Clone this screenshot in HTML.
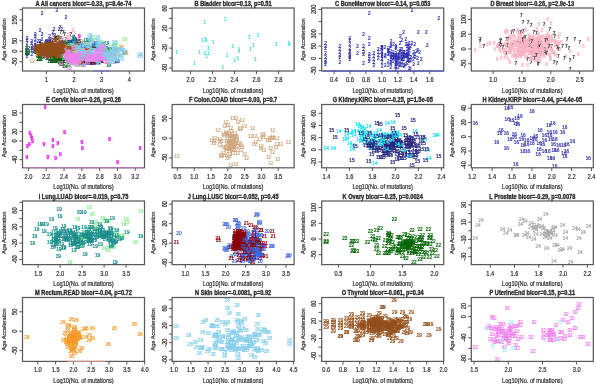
<!DOCTYPE html>
<html><head><meta charset="utf-8"><style>
html,body{margin:0;padding:0;background:#fff;}
svg{display:block;filter:blur(0.3px);}
text{font-family:"Liberation Sans", sans-serif;}
.ax text{stroke:#444;stroke-width:0.2px;}
.ax text[font-weight=bold]{stroke-width:0.3px;stroke:#333;}
</style></head><body>
<svg width="596" height="384" viewBox="0 0 596 384" fill="#222">
<rect width="596" height="384" fill="#fff"/>
<g font-size="4.7" text-anchor="middle" stroke-width="0.22" transform="scale(1,1.12)"><g fill="#40E0D0" stroke="#40E0D0"><text x="70.6" y="52.8">1</text><text x="75.0" y="56.8">1</text><text x="76.3" y="52.5">1</text><text x="77.2" y="48.1">1</text><text x="77.7" y="41.6">1</text><text x="77.8" y="48.0">1</text><text x="78.0" y="48.1">1</text><text x="77.7" y="53.2">1</text><text x="78.0" y="54.1">1</text><text x="78.6" y="51.3">1</text><text x="78.6" y="53.0">1</text><text x="79.8" y="48.8">1</text><text x="82.2" y="58.5">1</text><text x="82.8" y="40.2">1</text><text x="83.2" y="53.8">1</text><text x="84.7" y="50.3">1</text><text x="86.2" y="51.7">1</text><text x="86.3" y="52.3">1</text><text x="85.2" y="55.8">1</text><text x="85.9" y="54.8">1</text><text x="88.9" y="47.2">1</text><text x="89.2" y="51.7">1</text><text x="89.9" y="50.0">1</text><text x="90.9" y="46.3">1</text><text x="90.4" y="55.2">1</text><text x="95.7" y="49.9">1</text><text x="98.7" y="49.4">1</text><text x="98.9" y="49.9">1</text></g><g fill="#3030B0" stroke="#3030B0"><text x="27.0" y="35.9">2</text><text x="27.0" y="37.9">2</text><text x="27.0" y="39.9">2</text><text x="27.0" y="43.7">2</text><text x="27.0" y="46.7">2</text><text x="27.0" y="48.7">2</text><text x="27.0" y="50.4">2</text><text x="27.0" y="52.0">2</text><text x="31.9" y="38.6">2</text><text x="31.9" y="40.6">2</text><text x="31.9" y="42.9">2</text><text x="31.9" y="44.6">2</text><text x="31.9" y="46.7">2</text><text x="31.9" y="50.4">2</text><text x="35.3" y="31.9">2</text><text x="35.3" y="33.9">2</text><text x="35.3" y="36.6">2</text><text x="35.3" y="39.9">2</text><text x="35.3" y="42.0">2</text><text x="35.3" y="42.9">2</text><text x="35.3" y="44.6">2</text><text x="35.3" y="45.6">2</text><text x="35.3" y="46.7">2</text><text x="35.3" y="48.0">2</text><text x="38.0" y="38.3">2</text><text x="38.0" y="43.3">2</text><text x="40.1" y="28.9">2</text><text x="40.1" y="38.6">2</text><text x="40.1" y="40.6">2</text><text x="40.1" y="42.9">2</text><text x="40.1" y="44.3">2</text><text x="40.1" y="51.4">2</text><text x="42.1" y="13.0">2</text><text x="42.1" y="31.9">2</text><text x="42.1" y="36.6">2</text><text x="42.1" y="44.0">2</text><text x="42.1" y="46.0">2</text><text x="42.1" y="48.0">2</text><text x="42.1" y="49.4">2</text><text x="43.6" y="43.3">2</text><text x="43.6" y="46.0">2</text><text x="43.6" y="48.0">2</text><text x="43.6" y="50.0">2</text><text x="43.6" y="52.7">2</text><text x="45.2" y="40.6">2</text><text x="45.2" y="42.6">2</text><text x="45.2" y="44.6">2</text><text x="45.2" y="47.3">2</text><text x="46.5" y="39.9">2</text><text x="46.5" y="42.0">2</text><text x="46.5" y="44.0">2</text><text x="46.5" y="46.0">2</text><text x="46.5" y="48.0">2</text><text x="46.5" y="50.0">2</text><text x="56.9" y="11.0">2</text><text x="66.1" y="16.8">2</text><text x="54.0" y="27.5">2</text><text x="59.0" y="27.5">2</text><text x="61.8" y="27.5">2</text><text x="52.8" y="30.5">2</text><text x="53.3" y="33.9">2</text><text x="62.1" y="37.3">2</text><text x="59.5" y="42.9">2</text><text x="60.1" y="48.3">2</text><text x="59.0" y="51.0">2</text><text x="56.3" y="55.4">2</text><text x="57.5" y="52.0">2</text><text x="57.8" y="37.0">2</text><text x="56.0" y="35.9">2</text><text x="52.2" y="46.0">2</text><text x="51.2" y="50.5">2</text><text x="50.4" y="44.4">2</text><text x="46.4" y="48.4">2</text><text x="48.7" y="44.0">2</text><text x="57.4" y="42.6">2</text><text x="52.1" y="47.4">2</text><text x="55.2" y="38.2">2</text><text x="57.8" y="44.5">2</text><text x="58.4" y="41.7">2</text><text x="53.5" y="47.8">2</text><text x="56.0" y="41.0">2</text><text x="52.9" y="52.1">2</text><text x="55.3" y="37.0">2</text><text x="54.2" y="43.0">2</text><text x="49.6" y="44.5">2</text><text x="51.2" y="53.4">2</text><text x="53.4" y="43.0">2</text><text x="49.6" y="44.9">2</text><text x="57.4" y="48.2">2</text><text x="52.1" y="46.3">2</text><text x="47.6" y="46.1">2</text><text x="46.4" y="42.3">2</text><text x="49.6" y="34.1">2</text><text x="56.4" y="46.6">2</text><text x="50.4" y="44.9">2</text><text x="54.7" y="44.8">2</text><text x="51.3" y="52.0">2</text><text x="52.8" y="45.6">2</text><text x="54.2" y="52.3">2</text><text x="55.9" y="49.2">2</text><text x="54.7" y="32.8">2</text><text x="52.7" y="43.1">2</text><text x="55.3" y="42.9">2</text><text x="46.4" y="38.7">2</text><text x="55.3" y="51.0">2</text><text x="54.1" y="43.0">2</text><text x="50.4" y="49.4">2</text><text x="49.6" y="37.7">2</text><text x="50.5" y="46.9">2</text><text x="48.6" y="41.4">2</text><text x="55.9" y="44.3">2</text><text x="51.3" y="45.3">2</text><text x="51.4" y="43.5">2</text><text x="47.6" y="44.8">2</text><text x="57.4" y="45.5">2</text><text x="53.5" y="52.7">2</text><text x="49.6" y="46.8">2</text><text x="52.1" y="47.7">2</text><text x="55.8" y="39.0">2</text><text x="58.0" y="46.8">2</text><text x="51.3" y="46.0">2</text><text x="51.2" y="54.2">2</text><text x="55.3" y="44.8">2</text><text x="52.7" y="36.3">2</text><text x="52.1" y="45.0">2</text><text x="53.4" y="47.8">2</text><text x="54.8" y="36.4">2</text><text x="58.8" y="47.1">2</text><text x="51.3" y="38.2">2</text><text x="50.5" y="36.5">2</text><text x="51.2" y="38.7">2</text><text x="51.4" y="48.5">2</text><text x="55.2" y="40.0">2</text><text x="46.5" y="53.4">2</text><text x="56.3" y="46.3">2</text><text x="49.5" y="54.4">2</text><text x="51.2" y="44.9">2</text><text x="54.1" y="44.9">2</text><text x="55.3" y="44.0">2</text><text x="55.8" y="49.2">2</text><text x="52.9" y="49.3">2</text><text x="54.7" y="51.7">2</text><text x="52.2" y="51.1">2</text><text x="48.7" y="43.6">2</text><text x="50.5" y="46.2">2</text><text x="52.0" y="47.6">2</text><text x="50.4" y="44.6">2</text><text x="53.4" y="40.1">2</text><text x="56.5" y="38.5">2</text><text x="49.7" y="47.8">2</text><text x="51.2" y="55.6">2</text><text x="46.4" y="39.1">2</text><text x="55.3" y="48.7">2</text><text x="54.1" y="42.6">2</text><text x="51.4" y="50.8">2</text><text x="51.3" y="39.4">2</text><text x="48.7" y="41.0">2</text><text x="53.6" y="44.4">2</text><text x="49.6" y="50.9">2</text><text x="52.8" y="41.9">2</text><text x="51.2" y="46.7">2</text><text x="48.6" y="52.4">2</text><text x="52.9" y="46.7">2</text><text x="48.6" y="42.1">2</text><text x="50.4" y="47.0">2</text><text x="55.9" y="39.4">2</text><text x="55.4" y="48.2">2</text><text x="46.6" y="39.0">2</text><text x="52.1" y="53.8">2</text><text x="51.4" y="48.7">2</text><text x="55.4" y="44.5">2</text><text x="52.1" y="50.2">2</text><text x="51.3" y="47.1">2</text><text x="47.5" y="38.8">2</text><text x="46.4" y="39.5">2</text><text x="54.8" y="45.9">2</text><text x="55.3" y="42.9">2</text><text x="49.5" y="42.3">2</text><text x="52.8" y="52.8">2</text><text x="49.5" y="50.0">2</text><text x="52.9" y="40.5">2</text><text x="48.7" y="49.6">2</text><text x="55.2" y="45.8">2</text><text x="49.7" y="46.6">2</text><text x="56.4" y="49.0">2</text><text x="46.5" y="44.6">2</text><text x="54.1" y="53.6">2</text><text x="54.2" y="45.9">2</text><text x="53.5" y="47.0">2</text><text x="55.4" y="45.7">2</text><text x="48.7" y="39.6">2</text><text x="55.3" y="44.9">2</text><text x="54.1" y="46.0">2</text><text x="50.4" y="42.6">2</text><text x="49.6" y="38.3">2</text><text x="54.1" y="48.4">2</text><text x="56.9" y="35.9">2</text><text x="58.9" y="41.1">2</text><text x="53.6" y="46.6">2</text><text x="53.5" y="44.6">2</text><text x="52.2" y="42.6">2</text><text x="47.6" y="52.6">2</text><text x="56.0" y="55.2">2</text><text x="53.5" y="50.1">2</text></g><g fill="#333333" stroke="#333333"><text x="64.9" y="45.2">7</text><text x="71.1" y="47.6">7</text><text x="68.5" y="41.5">7</text><text x="77.6" y="51.8">7</text><text x="49.7" y="44.4">7</text><text x="66.2" y="53.2">7</text><text x="69.0" y="43.7">7</text><text x="68.4" y="45.2">7</text><text x="68.5" y="49.6">7</text><text x="61.0" y="42.6">7</text><text x="64.9" y="42.2">7</text><text x="64.2" y="53.7">7</text><text x="59.3" y="44.5">7</text><text x="55.4" y="45.3">7</text><text x="61.9" y="39.7">7</text><text x="77.1" y="46.5">7</text><text x="58.6" y="43.8">7</text><text x="67.9" y="56.3">7</text><text x="65.2" y="48.7">7</text><text x="77.7" y="47.7">7</text><text x="72.7" y="42.9">7</text><text x="63.7" y="45.1">7</text><text x="69.2" y="49.8">7</text><text x="65.3" y="47.2">7</text><text x="60.5" y="41.6">7</text><text x="68.2" y="42.5">7</text><text x="64.6" y="49.3">7</text><text x="67.1" y="51.3">7</text><text x="63.8" y="42.1">7</text><text x="67.0" y="45.1">7</text><text x="60.8" y="41.7">7</text><text x="59.2" y="50.3">7</text><text x="68.9" y="45.2">7</text><text x="66.0" y="42.7">7</text><text x="66.7" y="50.8">7</text><text x="72.3" y="41.4">7</text><text x="62.6" y="43.0">7</text><text x="50.0" y="42.0">7</text><text x="72.1" y="48.3">7</text><text x="61.3" y="40.7">7</text><text x="67.7" y="42.0">7</text><text x="72.6" y="47.7">7</text><text x="50.0" y="42.5">7</text><text x="68.3" y="46.3">7</text><text x="53.2" y="44.8">7</text><text x="73.3" y="45.7">7</text><text x="74.4" y="46.0">7</text><text x="67.9" y="45.4">7</text><text x="68.3" y="44.4">7</text><text x="71.6" y="41.8">7</text><text x="81.5" y="45.9">7</text><text x="59.1" y="49.7">7</text><text x="60.1" y="50.5">7</text><text x="65.9" y="48.6">7</text><text x="68.2" y="50.8">7</text><text x="40.2" y="41.0">7</text><text x="40.2" y="42.7">7</text><text x="42.0" y="45.4">7</text><text x="60.0" y="26.0">7</text><text x="60.8" y="30.4">7</text><text x="63.2" y="30.7">7</text><text x="64.6" y="32.4">7</text><text x="55.3" y="36.6">7</text><text x="56.4" y="36.0">7</text><text x="52.8" y="41.0">7</text><text x="53.6" y="41.5">7</text><text x="50.2" y="44.9">7</text><text x="51.1" y="46.6">7</text><text x="52.8" y="50.3">7</text><text x="57.3" y="56.3">7</text><text x="63.0" y="53.8">7</text><text x="64.6" y="55.8">7</text><text x="59.6" y="37.1">7</text><text x="60.8" y="36.0">7</text><text x="70.8" y="32.1">7</text><text x="73.6" y="34.7">7</text><text x="75.7" y="37.6">7</text><text x="76.0" y="39.6">7</text><text x="81.9" y="41.0">7</text><text x="85.6" y="41.5">7</text><text x="88.0" y="43.2">7</text><text x="79.7" y="46.0">7</text><text x="82.7" y="47.1">7</text><text x="85.0" y="52.5">7</text><text x="83.3" y="54.4">7</text><text x="77.0" y="56.6">7</text><text x="75.7" y="55.8">7</text><text x="68.0" y="57.1">7</text><text x="80.5" y="53.2">7</text><text x="65.9" y="36.9">7</text><text x="67.2" y="37.6">7</text><text x="83.3" y="60.0">7</text><text x="71.5" y="49.6">7</text><text x="72.0" y="50.3">7</text><text x="71.3" y="48.7">7</text></g><g fill="#FAB4C4" stroke="#FAB4C4"><text x="61.6" y="46.2">8</text><text x="68.4" y="44.8">8</text><text x="66.4" y="48.0">8</text><text x="70.6" y="40.6">8</text><text x="61.4" y="46.2">8</text><text x="65.2" y="50.9">8</text><text x="75.6" y="49.6">8</text><text x="71.8" y="40.4">8</text><text x="61.0" y="48.5">8</text><text x="62.1" y="44.1">8</text><text x="56.4" y="42.8">8</text><text x="69.1" y="46.1">8</text><text x="67.1" y="50.7">8</text><text x="59.6" y="49.1">8</text><text x="74.7" y="48.0">8</text><text x="73.2" y="39.3">8</text><text x="57.9" y="36.9">8</text><text x="72.9" y="44.7">8</text><text x="56.9" y="47.9">8</text><text x="67.7" y="48.9">8</text><text x="70.1" y="47.9">8</text><text x="53.8" y="42.8">8</text><text x="58.8" y="44.3">8</text><text x="76.0" y="42.7">8</text><text x="55.4" y="38.8">8</text><text x="59.9" y="42.9">8</text><text x="61.3" y="43.1">8</text><text x="68.2" y="43.3">8</text><text x="78.0" y="44.2">8</text><text x="55.1" y="41.1">8</text><text x="66.5" y="49.2">8</text><text x="68.8" y="42.3">8</text><text x="63.0" y="47.0">8</text><text x="62.7" y="52.4">8</text><text x="60.2" y="48.4">8</text><text x="52.9" y="46.1">8</text><text x="67.6" y="40.8">8</text><text x="54.3" y="46.1">8</text><text x="64.8" y="54.0">8</text><text x="59.3" y="45.0">8</text><text x="76.7" y="43.2">8</text><text x="76.4" y="51.1">8</text><text x="64.9" y="46.5">8</text><text x="73.5" y="51.4">8</text><text x="65.6" y="49.2">8</text><text x="68.4" y="49.2">8</text><text x="66.9" y="47.6">8</text><text x="69.1" y="39.7">8</text><text x="66.0" y="42.2">8</text><text x="58.0" y="48.1">8</text><text x="58.6" y="49.4">8</text><text x="72.1" y="39.6">8</text><text x="76.4" y="45.0">8</text><text x="64.8" y="39.8">8</text><text x="78.2" y="38.0">8</text><text x="65.8" y="41.8">8</text><text x="70.9" y="48.0">8</text><text x="66.2" y="48.9">8</text><text x="68.3" y="43.2">8</text><text x="71.8" y="43.8">8</text><text x="60.1" y="45.5">8</text><text x="65.6" y="48.5">8</text><text x="68.7" y="47.7">8</text><text x="61.6" y="45.0">8</text><text x="64.7" y="41.9">8</text><text x="60.4" y="43.6">8</text><text x="69.9" y="45.0">8</text><text x="70.9" y="48.1">8</text><text x="73.8" y="53.7">8</text><text x="58.2" y="45.2">8</text><text x="64.9" y="46.1">8</text><text x="56.7" y="39.8">8</text><text x="61.4" y="47.4">8</text><text x="56.6" y="43.6">8</text><text x="65.5" y="47.9">8</text><text x="65.2" y="51.0">8</text><text x="77.3" y="44.7">8</text><text x="63.5" y="43.8">8</text><text x="70.4" y="47.7">8</text><text x="58.2" y="42.5">8</text><text x="62.6" y="44.8">8</text><text x="66.6" y="46.5">8</text><text x="56.5" y="44.9">8</text><text x="55.4" y="48.3">8</text><text x="66.9" y="42.5">8</text><text x="74.7" y="39.5">8</text><text x="78.4" y="47.4">8</text><text x="54.3" y="39.4">8</text><text x="62.1" y="44.6">8</text><text x="66.8" y="48.4">8</text><text x="58.3" y="52.0">8</text><text x="61.3" y="41.7">8</text><text x="60.9" y="44.4">8</text><text x="59.5" y="43.4">8</text><text x="68.8" y="49.7">8</text><text x="49.2" y="46.3">8</text><text x="65.0" y="41.8">8</text><text x="72.2" y="39.2">8</text><text x="68.4" y="51.5">8</text><text x="62.1" y="44.4">8</text><text x="60.9" y="40.6">8</text><text x="59.3" y="45.9">8</text><text x="65.6" y="39.9">8</text><text x="45.0" y="43.9">8</text><text x="60.5" y="48.0">8</text><text x="59.9" y="41.5">8</text><text x="74.4" y="48.2">8</text><text x="49.2" y="45.8">8</text><text x="63.8" y="46.3">8</text><text x="72.9" y="46.5">8</text><text x="77.1" y="45.0">8</text><text x="52.9" y="51.6">8</text><text x="60.5" y="50.0">8</text><text x="62.4" y="48.8">8</text><text x="70.2" y="50.9">8</text><text x="61.2" y="44.8">8</text><text x="66.9" y="47.0">8</text><text x="66.7" y="44.7">8</text><text x="58.3" y="35.4">8</text><text x="71.4" y="42.6">8</text><text x="72.6" y="43.2">8</text><text x="69.5" y="41.6">8</text><text x="67.4" y="49.9">8</text><text x="70.6" y="43.7">8</text><text x="63.0" y="57.5">8</text><text x="61.0" y="45.0">8</text><text x="70.2" y="46.5">8</text><text x="56.3" y="39.2">8</text><text x="59.5" y="45.6">8</text><text x="58.9" y="38.1">8</text><text x="65.1" y="51.6">8</text><text x="55.1" y="47.4">8</text><text x="54.8" y="49.4">8</text><text x="65.2" y="44.8">8</text><text x="59.3" y="50.6">8</text><text x="67.6" y="47.1">8</text><text x="56.9" y="51.6">8</text><text x="66.1" y="49.4">8</text><text x="59.1" y="43.9">8</text><text x="63.0" y="43.2">8</text><text x="72.2" y="46.8">8</text><text x="58.5" y="48.2">8</text><text x="56.3" y="43.0">8</text><text x="62.6" y="44.8">8</text><text x="60.7" y="38.1">8</text><text x="70.8" y="52.2">8</text><text x="52.2" y="48.6">8</text><text x="77.8" y="43.2">8</text><text x="64.9" y="53.5">8</text><text x="54.2" y="49.4">8</text><text x="63.1" y="47.0">8</text><text x="79.2" y="43.4">8</text><text x="49.3" y="44.0">8</text><text x="51.8" y="49.4">8</text><text x="60.8" y="49.3">8</text><text x="60.8" y="50.5">8</text><text x="62.1" y="45.2">8</text><text x="63.4" y="43.8">8</text><text x="68.7" y="49.1">8</text><text x="64.6" y="45.5">8</text><text x="67.3" y="45.3">8</text><text x="77.4" y="46.9">8</text><text x="74.3" y="46.1">8</text><text x="64.1" y="45.0">8</text><text x="60.6" y="47.0">8</text><text x="69.4" y="52.8">8</text><text x="57.4" y="51.6">8</text><text x="70.6" y="48.9">8</text><text x="67.3" y="54.0">8</text><text x="64.1" y="49.6">8</text><text x="69.6" y="40.2">8</text><text x="68.9" y="48.9">8</text><text x="57.5" y="53.5">8</text><text x="58.2" y="46.3">8</text><text x="66.1" y="47.1">8</text><text x="71.7" y="42.8">8</text><text x="51.7" y="44.9">8</text><text x="54.4" y="40.8">8</text><text x="58.3" y="40.7">8</text><text x="69.9" y="49.7">8</text><text x="52.8" y="44.4">8</text><text x="54.3" y="48.8">8</text><text x="66.7" y="42.2">8</text><text x="65.7" y="46.8">8</text><text x="70.3" y="47.2">8</text><text x="59.5" y="46.0">8</text><text x="63.8" y="39.8">8</text><text x="69.2" y="45.6">8</text><text x="63.1" y="46.7">8</text><text x="65.8" y="43.9">8</text><text x="62.9" y="42.9">8</text><text x="67.4" y="48.7">8</text><text x="68.0" y="40.6">8</text><text x="67.6" y="44.7">8</text><text x="66.2" y="42.6">8</text><text x="73.2" y="50.5">8</text><text x="64.3" y="53.7">8</text><text x="65.8" y="47.2">8</text><text x="71.9" y="49.9">8</text><text x="68.7" y="48.0">8</text><text x="49.8" y="47.7">8</text><text x="50.4" y="53.0">8</text><text x="64.7" y="53.4">8</text><text x="68.2" y="52.1">8</text><text x="63.9" y="40.4">8</text><text x="57.4" y="52.5">8</text><text x="71.1" y="48.1">8</text><text x="66.7" y="44.8">8</text><text x="74.3" y="42.4">8</text><text x="68.2" y="38.7">8</text><text x="64.0" y="49.8">8</text><text x="53.2" y="45.3">8</text><text x="66.3" y="47.2">8</text><text x="66.0" y="45.5">8</text><text x="61.3" y="45.6">8</text><text x="63.7" y="44.4">8</text><text x="59.5" y="41.3">8</text><text x="55.2" y="44.7">8</text><text x="62.0" y="49.5">8</text><text x="65.0" y="49.4">8</text><text x="60.0" y="45.2">8</text><text x="71.7" y="46.8">8</text><text x="60.0" y="52.1">8</text><text x="74.6" y="41.6">8</text><text x="67.5" y="44.4">8</text><text x="68.8" y="50.3">8</text><text x="54.9" y="45.4">8</text><text x="74.9" y="49.3">8</text><text x="60.7" y="47.3">8</text><text x="63.8" y="49.7">8</text><text x="53.0" y="45.5">8</text><text x="69.5" y="45.3">8</text><text x="67.7" y="47.9">8</text><text x="54.5" y="47.0">8</text><text x="54.8" y="45.4">8</text><text x="67.0" y="45.2">8</text><text x="75.9" y="50.6">8</text><text x="65.1" y="44.1">8</text><text x="69.1" y="42.8">8</text><text x="71.9" y="46.7">8</text><text x="67.6" y="49.6">8</text><text x="55.0" y="43.6">8</text><text x="68.0" y="37.4">8</text><text x="56.2" y="46.6">8</text><text x="57.1" y="43.0">8</text><text x="59.4" y="44.3">8</text><text x="56.3" y="51.6">8</text><text x="65.8" y="48.8">8</text><text x="58.5" y="47.4">8</text><text x="68.9" y="48.3">8</text><text x="76.1" y="45.3">8</text><text x="58.5" y="44.9">8</text><text x="67.4" y="35.2">8</text><text x="70.8" y="46.0">8</text><text x="48.4" y="53.9">8</text><text x="71.0" y="51.9">8</text><text x="57.8" y="51.3">8</text><text x="73.9" y="52.2">8</text><text x="62.6" y="41.8">8</text><text x="63.6" y="49.6">8</text><text x="57.9" y="44.8">8</text><text x="66.6" y="51.9">8</text><text x="65.3" y="45.0">8</text><text x="67.5" y="44.0">8</text><text x="71.1" y="48.2">8</text><text x="57.9" y="50.9">8</text><text x="73.2" y="43.2">8</text><text x="56.6" y="48.9">8</text><text x="60.0" y="44.5">8</text><text x="65.6" y="43.7">8</text><text x="55.3" y="46.1">8</text><text x="63.8" y="41.8">8</text><text x="67.9" y="44.5">8</text><text x="65.1" y="46.0">8</text><text x="62.3" y="43.3">8</text><text x="59.6" y="38.6">8</text><text x="70.0" y="47.0">8</text><text x="71.8" y="45.0">8</text><text x="73.3" y="39.7">8</text><text x="61.4" y="50.3">8</text><text x="69.5" y="44.8">8</text><text x="62.0" y="53.4">8</text><text x="61.6" y="47.5">8</text><text x="52.8" y="36.5">8</text><text x="64.1" y="49.4">8</text><text x="73.3" y="47.0">8</text><text x="63.8" y="39.0">8</text><text x="49.6" y="48.9">8</text><text x="70.8" y="48.1">8</text><text x="61.0" y="47.2">8</text><text x="74.5" y="48.2">8</text><text x="48.8" y="44.8">8</text><text x="62.3" y="47.0">8</text><text x="59.2" y="39.6">8</text><text x="60.0" y="50.7">8</text><text x="63.0" y="48.6">8</text><text x="70.5" y="39.1">8</text><text x="60.3" y="47.4">8</text><text x="72.0" y="56.8">8</text><text x="70.1" y="50.6">8</text><text x="65.3" y="47.1">8</text><text x="68.9" y="43.0">8</text><text x="67.1" y="45.3">8</text><text x="69.9" y="35.3">8</text><text x="64.2" y="46.2">8</text><text x="68.1" y="54.3">8</text><text x="68.1" y="47.2">8</text><text x="51.8" y="48.2">8</text><text x="70.0" y="43.2">8</text><text x="56.9" y="45.3">8</text><text x="59.7" y="50.0">8</text><text x="59.0" y="41.4">8</text><text x="58.4" y="45.0">8</text><text x="64.5" y="48.0">8</text><text x="70.7" y="50.4">8</text><text x="68.6" y="47.9">8</text><text x="73.6" y="40.6">8</text><text x="69.6" y="45.4">8</text><text x="67.6" y="41.7">8</text><text x="53.4" y="45.8">8</text><text x="65.9" y="50.2">8</text><text x="55.9" y="46.3">8</text><text x="52.3" y="36.9">8</text><text x="72.3" y="48.0">8</text><text x="53.6" y="53.9">8</text><text x="58.8" y="44.3">8</text><text x="63.2" y="41.5">8</text><text x="59.9" y="49.1">8</text><text x="64.7" y="48.0">8</text><text x="55.6" y="51.8">8</text><text x="59.3" y="48.1">8</text><text x="73.9" y="53.5">8</text><text x="68.1" y="42.6">8</text><text x="81.3" y="52.0">8</text><text x="67.4" y="52.1">8</text><text x="72.1" y="47.6">8</text><text x="56.8" y="42.9">8</text><text x="62.3" y="44.0">8</text><text x="67.0" y="43.8">8</text><text x="66.4" y="42.4">8</text><text x="58.3" y="43.3">8</text><text x="69.0" y="55.1">8</text><text x="59.3" y="49.4">8</text><text x="63.3" y="47.7">8</text><text x="66.1" y="48.0">8</text><text x="59.3" y="51.7">8</text><text x="77.5" y="46.5">8</text><text x="72.6" y="43.7">8</text><text x="66.0" y="40.6">8</text><text x="72.6" y="37.8">8</text><text x="60.6" y="47.5">8</text><text x="64.4" y="40.2">8</text><text x="68.1" y="42.8">8</text><text x="67.0" y="48.7">8</text><text x="52.1" y="44.3">8</text><text x="61.2" y="45.2">8</text><text x="55.0" y="44.9">8</text><text x="53.2" y="41.9">8</text><text x="61.6" y="50.4">8</text><text x="51.1" y="48.9">8</text><text x="62.4" y="46.2">8</text><text x="68.4" y="41.1">8</text><text x="48.4" y="45.9">8</text><text x="71.4" y="41.5">8</text><text x="62.2" y="41.8">8</text><text x="62.2" y="35.9">8</text><text x="54.5" y="46.5">8</text><text x="47.0" y="43.5">8</text><text x="65.9" y="46.4">8</text><text x="68.8" y="45.9">8</text><text x="59.4" y="36.9">8</text><text x="58.4" y="42.9">8</text><text x="66.5" y="54.2">8</text><text x="52.0" y="52.5">8</text><text x="69.3" y="49.0">8</text><text x="63.2" y="43.9">8</text><text x="67.5" y="47.0">8</text><text x="75.4" y="42.3">8</text><text x="66.2" y="39.7">8</text><text x="75.1" y="49.2">8</text><text x="37.8" y="48.5">8</text><text x="43.7" y="44.4">8</text><text x="47.4" y="47.7">8</text><text x="53.2" y="36.0">8</text><text x="54.4" y="55.8">8</text><text x="60.4" y="57.7">8</text><text x="40.5" y="45.4">8</text><text x="72.7" y="28.5">8</text><text x="74.2" y="31.0">8</text><text x="68.3" y="32.1">8</text><text x="77.8" y="40.2">8</text><text x="92.0" y="41.0">8</text><text x="89.7" y="46.0">8</text><text x="87.3" y="50.5">8</text><text x="83.3" y="48.8">8</text></g><g fill="#EE33EE" stroke="#EE33EE" stroke-width="0.5"><text x="79.2" y="33.8">9</text><text x="85.3" y="43.8">9</text><text x="74.5" y="44.4">9</text><text x="74.9" y="45.7">9</text><text x="75.1" y="46.3">9</text><text x="75.3" y="47.4">9</text><text x="73.7" y="49.4">9</text><text x="74.4" y="48.9">9</text><text x="78.8" y="48.6">9</text><text x="81.7" y="47.2">9</text><text x="81.7" y="49.4">9</text><text x="83.1" y="48.2">9</text><text x="73.6" y="53.9">9</text><text x="80.1" y="53.9">9</text><text x="82.5" y="54.5">9</text><text x="84.0" y="52.8">9</text><text x="90.6" y="47.8">9</text><text x="90.8" y="50.4">9</text><text x="99.2" y="46.8">9</text><text x="101.7" y="55.9">9</text><text x="108.7" y="50.4">9</text></g><g fill="#CFA880" stroke="#CFA880"><text x="75.3" y="54.8">12</text><text x="76.2" y="48.7">12</text><text x="79.5" y="50.3">12</text><text x="84.5" y="43.1">12</text><text x="71.8" y="41.7">12</text><text x="77.9" y="51.5">12</text><text x="75.7" y="49.4">12</text><text x="75.1" y="48.9">12</text><text x="78.6" y="48.7">12</text><text x="75.0" y="56.1">12</text><text x="80.6" y="46.6">12</text><text x="68.8" y="55.8">12</text><text x="72.8" y="51.9">12</text><text x="73.4" y="45.0">12</text><text x="78.2" y="46.4">12</text><text x="79.7" y="45.1">12</text><text x="77.3" y="52.5">12</text><text x="77.3" y="51.4">12</text><text x="67.7" y="50.7">12</text><text x="78.8" y="51.1">12</text><text x="85.9" y="39.1">12</text><text x="81.1" y="48.1">12</text><text x="76.7" y="50.4">12</text><text x="74.4" y="45.5">12</text><text x="62.5" y="49.9">12</text><text x="68.4" y="48.8">12</text><text x="77.4" y="51.5">12</text><text x="85.5" y="51.5">12</text><text x="71.0" y="51.6">12</text><text x="81.6" y="51.1">12</text><text x="74.7" y="51.6">12</text><text x="75.7" y="50.1">12</text><text x="75.8" y="52.5">12</text><text x="73.6" y="49.0">12</text><text x="76.3" y="42.9">12</text><text x="63.2" y="47.6">12</text><text x="84.9" y="50.9">12</text><text x="77.7" y="48.5">12</text><text x="73.6" y="49.9">12</text><text x="75.1" y="52.7">12</text><text x="79.6" y="47.1">12</text><text x="76.3" y="51.6">12</text><text x="78.3" y="49.2">12</text><text x="77.9" y="49.2">12</text><text x="76.4" y="46.5">12</text><text x="76.2" y="51.1">12</text><text x="76.9" y="44.4">12</text><text x="73.2" y="52.5">12</text><text x="82.0" y="54.3">12</text><text x="79.3" y="51.3">12</text><text x="74.0" y="41.2">12</text><text x="78.8" y="49.4">12</text><text x="84.5" y="53.2">12</text><text x="78.4" y="51.6">12</text><text x="67.7" y="49.1">12</text><text x="81.2" y="48.8">12</text><text x="79.3" y="46.3">12</text><text x="84.3" y="42.9">12</text><text x="72.8" y="44.4">12</text><text x="73.8" y="47.4">12</text><text x="75.6" y="46.3">12</text><text x="76.9" y="50.7">12</text><text x="80.6" y="59.7">12</text><text x="71.1" y="55.4">12</text><text x="75.6" y="49.5">12</text><text x="81.0" y="47.1">12</text><text x="87.8" y="55.1">12</text><text x="70.7" y="45.3">12</text><text x="76.0" y="49.4">12</text><text x="67.2" y="48.0">12</text><text x="66.0" y="43.7">12</text><text x="71.5" y="46.0">12</text><text x="73.2" y="52.2">12</text><text x="72.3" y="52.0">12</text><text x="73.8" y="57.0">12</text><text x="75.5" y="52.4">12</text><text x="83.2" y="49.7">12</text><text x="78.7" y="53.3">12</text><text x="80.2" y="53.2">12</text><text x="75.6" y="45.8">12</text><text x="75.4" y="53.3">12</text><text x="82.8" y="49.8">12</text><text x="78.0" y="54.4">12</text><text x="70.5" y="54.7">12</text><text x="78.1" y="47.6">12</text><text x="114.5" y="47.6">12</text><text x="115.1" y="57.1">12</text><text x="110.1" y="47.6">12</text><text x="101.3" y="52.1">12</text><text x="97.1" y="49.1">12</text><text x="108.8" y="47.3">12</text><text x="101.3" y="51.1">12</text><text x="103.7" y="53.0">12</text><text x="95.9" y="50.5">12</text><text x="110.8" y="47.5">12</text><text x="103.0" y="45.4">12</text><text x="106.9" y="48.3">12</text><text x="108.3" y="48.3">12</text><text x="117.3" y="50.2">12</text><text x="103.6" y="47.2">12</text><text x="94.4" y="42.8">12</text><text x="96.2" y="46.3">12</text><text x="102.6" y="45.9">12</text><text x="111.0" y="43.8">12</text><text x="110.7" y="54.0">12</text><text x="100.5" y="48.1">12</text><text x="113.7" y="51.6">12</text><text x="107.6" y="56.4">12</text><text x="109.1" y="52.0">12</text><text x="110.8" y="47.1">12</text><text x="114.6" y="50.2">12</text><text x="32.2" y="56.1">12</text><text x="78.3" y="37.8">12</text><text x="87.7" y="41.5">12</text><text x="92.9" y="46.7">12</text><text x="123.9" y="49.2">12</text><text x="109.2" y="59.1">12</text><text x="76.5" y="60.1">12</text><text x="61.0" y="48.2">12</text><text x="68.7" y="55.4">12</text><text x="89.4" y="57.1">12</text><text x="80.4" y="38.1">12</text><text x="72.6" y="39.8">12</text><text x="82.5" y="39.8">12</text><text x="62.7" y="48.8">12</text></g><g fill="#22E0EE" stroke="#22E0EE"><text x="57.4" y="47.0">14</text><text x="59.2" y="46.8">14</text><text x="60.4" y="41.8">14</text><text x="61.9" y="44.2">14</text><text x="64.0" y="41.8">14</text><text x="66.1" y="40.4">14</text><text x="67.7" y="40.1">14</text><text x="69.1" y="51.5">14</text><text x="72.1" y="39.2">14</text><text x="73.5" y="39.1">14</text><text x="78.7" y="41.8">14</text><text x="81.1" y="44.2">14</text><text x="83.6" y="43.0">14</text><text x="81.7" y="47.5">14</text><text x="82.1" y="50.2">14</text><text x="84.1" y="43.0">14</text><text x="67.7" y="45.1">14</text><text x="71.6" y="43.4">14</text><text x="68.6" y="43.5">14</text><text x="70.2" y="43.4">14</text><text x="68.3" y="45.4">14</text><text x="69.7" y="43.4">14</text><text x="67.9" y="46.4">14</text><text x="71.2" y="42.5">14</text><text x="66.0" y="42.9">14</text><text x="72.5" y="43.1">14</text><text x="65.3" y="44.1">14</text><text x="64.1" y="43.1">14</text><text x="74.3" y="43.0">14</text><text x="70.2" y="41.3">14</text><text x="65.5" y="40.2">14</text><text x="68.9" y="43.9">14</text><text x="63.1" y="45.3">14</text><text x="65.1" y="39.6">14</text><text x="74.0" y="43.4">14</text><text x="69.3" y="45.7">14</text><text x="63.1" y="42.3">14</text><text x="73.4" y="42.9">14</text><text x="65.8" y="42.9">14</text><text x="67.1" y="42.3">14</text><text x="68.6" y="45.9">14</text><text x="66.5" y="41.1">14</text><text x="71.1" y="43.9">14</text><text x="66.0" y="41.9">14</text><text x="66.1" y="44.5">14</text><text x="66.9" y="42.5">14</text><text x="67.6" y="41.9">14</text><text x="66.3" y="44.4">14</text><text x="66.5" y="42.2">14</text><text x="68.1" y="46.8">14</text><text x="71.9" y="42.7">14</text><text x="64.8" y="41.7">14</text><text x="66.7" y="45.5">14</text><text x="68.7" y="44.7">14</text><text x="67.8" y="45.9">14</text><text x="62.4" y="43.7">14</text><text x="68.1" y="44.4">14</text><text x="66.6" y="44.0">14</text><text x="74.5" y="41.9">14</text><text x="65.7" y="44.7">14</text><text x="63.7" y="46.0">14</text><text x="69.3" y="42.3">14</text><text x="68.3" y="43.1">14</text><text x="62.3" y="42.6">14</text><text x="67.1" y="44.4">14</text><text x="63.7" y="47.3">14</text><text x="70.4" y="44.7">14</text><text x="74.5" y="45.7">14</text><text x="77.4" y="49.5">14</text><text x="76.1" y="47.5">14</text><text x="73.4" y="42.0">14</text><text x="73.2" y="44.5">14</text><text x="75.3" y="45.9">14</text><text x="70.1" y="45.8">14</text><text x="70.6" y="45.8">14</text><text x="73.7" y="43.3">14</text><text x="70.9" y="44.3">14</text><text x="71.8" y="45.0">14</text><text x="71.9" y="47.3">14</text><text x="75.0" y="42.8">14</text></g><g fill="#26267E" stroke="#26267E"><text x="80.3" y="44.9">15</text><text x="73.6" y="46.8">15</text><text x="76.1" y="50.1">15</text><text x="70.6" y="49.8">15</text><text x="74.7" y="45.1">15</text><text x="76.9" y="46.2">15</text><text x="70.5" y="44.9">15</text><text x="81.5" y="47.3">15</text><text x="66.9" y="46.0">15</text><text x="64.4" y="46.4">15</text><text x="67.5" y="45.4">15</text><text x="78.9" y="49.0">15</text><text x="71.7" y="46.0">15</text><text x="71.3" y="43.5">15</text><text x="74.4" y="45.9">15</text><text x="69.2" y="46.9">15</text><text x="73.7" y="47.5">15</text><text x="70.6" y="46.8">15</text><text x="73.2" y="46.5">15</text><text x="68.1" y="46.2">15</text><text x="72.5" y="43.6">15</text><text x="73.4" y="46.0">15</text><text x="75.0" y="44.6">15</text><text x="71.2" y="48.0">15</text><text x="73.2" y="43.7">15</text><text x="76.8" y="47.2">15</text><text x="75.0" y="50.1">15</text><text x="77.2" y="46.6">15</text><text x="71.7" y="45.6">15</text><text x="78.7" y="47.1">15</text><text x="73.9" y="47.8">15</text><text x="79.3" y="46.3">15</text><text x="79.5" y="48.0">15</text><text x="77.9" y="44.8">15</text><text x="68.9" y="47.5">15</text><text x="77.1" y="46.3">15</text><text x="76.7" y="43.8">15</text><text x="80.4" y="47.2">15</text><text x="76.8" y="46.5">15</text><text x="72.1" y="47.2">15</text><text x="65.8" y="42.5">15</text><text x="67.9" y="42.5">15</text><text x="75.2" y="49.0">15</text><text x="73.4" y="40.9">15</text><text x="76.1" y="45.4">15</text><text x="69.5" y="43.4">15</text><text x="77.0" y="49.0">15</text><text x="72.8" y="43.6">15</text><text x="74.5" y="50.4">15</text><text x="75.2" y="45.8">15</text><text x="68.5" y="44.9">15</text><text x="67.3" y="43.6">15</text><text x="75.4" y="46.5">15</text><text x="78.1" y="44.6">15</text><text x="69.7" y="46.9">15</text><text x="76.2" y="48.6">15</text><text x="74.4" y="44.4">15</text><text x="71.9" y="45.2">15</text><text x="70.4" y="44.8">15</text><text x="73.9" y="44.7">15</text><text x="73.0" y="46.7">15</text><text x="77.2" y="44.5">15</text><text x="70.2" y="46.7">15</text><text x="78.1" y="45.8">15</text><text x="71.1" y="49.6">15</text><text x="78.5" y="44.7">15</text><text x="77.4" y="43.6">15</text><text x="73.8" y="45.8">15</text><text x="75.4" y="45.2">15</text><text x="68.3" y="48.8">15</text><text x="71.8" y="47.9">15</text><text x="70.0" y="47.7">15</text><text x="73.3" y="45.1">15</text><text x="79.4" y="43.7">15</text><text x="75.7" y="47.5">15</text><text x="71.9" y="46.7">15</text><text x="73.8" y="42.2">15</text><text x="67.6" y="46.5">15</text><text x="77.8" y="43.9">15</text><text x="75.3" y="48.4">15</text><text x="66.8" y="44.1">15</text><text x="71.4" y="48.4">15</text><text x="71.3" y="45.4">15</text><text x="77.4" y="45.4">15</text><text x="71.3" y="46.2">15</text><text x="70.0" y="49.6">15</text><text x="75.5" y="50.1">15</text><text x="68.3" y="47.0">15</text><text x="73.4" y="51.2">15</text><text x="72.2" y="46.5">15</text><text x="73.2" y="45.6">15</text><text x="71.4" y="47.8">15</text><text x="71.8" y="49.2">15</text><text x="75.2" y="45.3">15</text><text x="69.3" y="45.6">15</text><text x="74.2" y="46.2">15</text><text x="73.0" y="45.4">15</text><text x="72.7" y="43.4">15</text><text x="74.8" y="46.4">15</text><text x="79.5" y="46.1">15</text><text x="80.7" y="43.6">15</text><text x="76.9" y="44.4">15</text><text x="74.4" y="48.9">15</text><text x="76.2" y="48.7">15</text><text x="74.8" y="44.7">15</text><text x="75.2" y="46.3">15</text><text x="77.7" y="49.3">15</text><text x="69.1" y="45.2">15</text><text x="78.0" y="43.8">15</text><text x="69.3" y="45.7">15</text><text x="72.6" y="48.8">15</text><text x="78.5" y="46.1">15</text><text x="78.1" y="49.2">15</text><text x="75.1" y="46.1">15</text><text x="74.5" y="48.0">15</text><text x="73.7" y="42.5">15</text><text x="72.9" y="49.0">15</text><text x="74.3" y="44.7">15</text><text x="77.7" y="46.0">15</text><text x="72.0" y="46.4">15</text><text x="80.8" y="45.6">15</text><text x="71.6" y="44.2">15</text><text x="72.7" y="47.6">15</text><text x="76.5" y="43.0">15</text><text x="72.5" y="47.7">15</text><text x="71.6" y="48.5">15</text><text x="73.2" y="44.9">15</text><text x="70.6" y="43.0">15</text><text x="75.2" y="46.2">15</text><text x="72.1" y="48.4">15</text><text x="74.0" y="45.3">15</text><text x="77.1" y="48.1">15</text><text x="72.5" y="46.6">15</text><text x="77.3" y="45.1">15</text><text x="76.7" y="45.2">15</text><text x="73.2" y="46.4">15</text><text x="68.4" y="46.3">15</text><text x="69.6" y="48.0">15</text><text x="78.8" y="49.7">15</text><text x="68.0" y="46.1">15</text><text x="71.7" y="45.4">15</text><text x="78.8" y="48.1">15</text><text x="74.2" y="43.2">15</text><text x="77.7" y="48.1">15</text><text x="74.0" y="46.1">15</text><text x="73.2" y="44.9">15</text><text x="79.0" y="42.6">15</text><text x="74.8" y="46.4">15</text><text x="79.2" y="48.1">15</text><text x="77.7" y="46.5">15</text><text x="58.7" y="41.4">15</text><text x="59.6" y="43.6">15</text><text x="62.3" y="41.5">15</text><text x="63.6" y="50.5">15</text><text x="67.7" y="51.0">15</text><text x="74.6" y="36.7">15</text><text x="78.3" y="38.5">15</text><text x="76.2" y="41.0">15</text><text x="80.6" y="43.7">15</text><text x="79.3" y="51.0">15</text><text x="81.3" y="50.6">15</text><text x="84.5" y="49.5">15</text><text x="78.1" y="52.1">15</text><text x="69.6" y="39.3">15</text><text x="70.4" y="39.6">15</text></g><g fill="#3C3CB0" stroke="#3C3CB0"><text x="52.8" y="44.0">16</text><text x="61.6" y="39.9">16</text><text x="62.6" y="39.8">16</text><text x="61.7" y="42.8">16</text><text x="62.9" y="43.1">16</text><text x="64.4" y="42.5">16</text><text x="65.2" y="42.0">16</text><text x="64.0" y="44.0">16</text><text x="64.5" y="44.2">16</text><text x="60.0" y="45.7">16</text><text x="59.6" y="46.5">16</text><text x="61.4" y="46.5">16</text><text x="58.7" y="48.9">16</text><text x="61.4" y="50.5">16</text><text x="62.4" y="48.2">16</text><text x="63.7" y="46.8">16</text><text x="63.7" y="47.6">16</text><text x="64.2" y="48.9">16</text><text x="66.1" y="47.0">16</text><text x="65.6" y="48.2">16</text><text x="67.1" y="48.3">16</text><text x="66.1" y="49.6">16</text><text x="67.1" y="49.4">16</text><text x="66.0" y="51.2">16</text><text x="67.4" y="51.1">16</text><text x="64.0" y="54.7">16</text><text x="68.6" y="40.7">16</text><text x="68.6" y="47.9">16</text><text x="68.6" y="49.1">16</text><text x="73.2" y="44.5">16</text><text x="74.4" y="44.0">16</text><text x="77.7" y="44.9">16</text><text x="70.8" y="45.9">16</text><text x="73.4" y="46.4">16</text><text x="75.0" y="46.4">16</text><text x="77.1" y="46.3">16</text><text x="72.0" y="47.1">16</text><text x="73.5" y="47.1">16</text><text x="69.6" y="47.4">16</text><text x="69.3" y="48.1">16</text><text x="70.6" y="49.1">16</text><text x="72.0" y="48.3">16</text><text x="73.7" y="48.0">16</text><text x="75.0" y="48.0">16</text><text x="71.5" y="49.5">16</text><text x="74.5" y="49.5">16</text><text x="76.0" y="49.6">16</text><text x="77.3" y="49.7">16</text><text x="78.3" y="49.4">16</text><text x="79.8" y="48.7">16</text><text x="70.6" y="50.6">16</text><text x="72.0" y="51.3">16</text><text x="73.0" y="51.1">16</text><text x="74.7" y="50.9">16</text><text x="75.5" y="51.0">16</text><text x="70.3" y="52.0">16</text><text x="77.4" y="51.8">16</text><text x="78.2" y="51.3">16</text><text x="77.7" y="52.5">16</text><text x="73.5" y="53.1">16</text><text x="74.2" y="53.1">16</text><text x="74.9" y="55.1">16</text><text x="84.2" y="53.2">16</text></g><g fill="#90EE90" stroke="#90EE90"><text x="92.3" y="34.9">18</text><text x="94.3" y="37.7">18</text><text x="124.5" y="36.8">18</text><text x="115.4" y="40.1">18</text><text x="116.0" y="41.6">18</text><text x="114.0" y="42.5">18</text><text x="100.9" y="39.7">18</text><text x="80.1" y="59.7">18</text><text x="121.3" y="50.9">18</text><text x="104.8" y="53.0">18</text><text x="109.4" y="48.3">18</text><text x="85.1" y="40.1">18</text><text x="102.2" y="40.6">18</text><text x="96.0" y="42.9">18</text><text x="89.7" y="49.7">18</text><text x="106.6" y="49.7">18</text><text x="96.0" y="41.8">18</text><text x="86.9" y="48.0">18</text><text x="85.0" y="48.0">18</text><text x="109.9" y="48.3">18</text><text x="113.0" y="47.6">18</text><text x="101.7" y="48.3">18</text><text x="90.0" y="47.0">18</text><text x="109.3" y="45.5">18</text><text x="101.9" y="53.4">18</text><text x="87.0" y="52.0">18</text><text x="95.4" y="44.8">18</text><text x="104.1" y="40.9">18</text><text x="108.3" y="47.4">18</text><text x="112.4" y="48.5">18</text><text x="89.1" y="48.8">18</text><text x="82.7" y="49.0">18</text><text x="85.8" y="50.2">18</text><text x="103.8" y="54.6">18</text><text x="90.6" y="46.0">18</text><text x="107.5" y="52.9">18</text><text x="98.5" y="45.2">18</text><text x="91.7" y="47.7">18</text><text x="99.6" y="48.2">18</text><text x="105.2" y="46.3">18</text><text x="98.3" y="47.8">18</text></g><g fill="#1A8C8C" stroke="#1A8C8C"><text x="76.3" y="53.0">19</text><text x="80.9" y="52.0">19</text><text x="85.2" y="44.6">19</text><text x="86.8" y="50.7">19</text><text x="82.7" y="54.5">19</text><text x="83.3" y="47.1">19</text><text x="74.9" y="51.6">19</text><text x="81.8" y="46.5">19</text><text x="80.3" y="49.2">19</text><text x="76.8" y="49.4">19</text><text x="82.9" y="48.2">19</text><text x="67.5" y="50.7">19</text><text x="73.3" y="46.8">19</text><text x="71.7" y="47.6">19</text><text x="80.4" y="45.9">19</text><text x="76.8" y="46.5">19</text><text x="88.2" y="51.1">19</text><text x="73.7" y="46.7">19</text><text x="84.7" y="48.7">19</text><text x="73.2" y="50.5">19</text><text x="70.0" y="47.8">19</text><text x="70.1" y="52.1">19</text><text x="83.1" y="51.3">19</text><text x="71.4" y="49.6">19</text><text x="75.8" y="45.0">19</text><text x="82.1" y="49.8">19</text><text x="78.1" y="49.3">19</text><text x="83.9" y="48.7">19</text><text x="89.0" y="44.0">19</text><text x="87.4" y="47.1">19</text><text x="69.5" y="53.0">19</text><text x="71.4" y="51.4">19</text><text x="80.3" y="46.5">19</text><text x="70.1" y="50.2">19</text><text x="76.4" y="43.4">19</text><text x="79.4" y="49.1">19</text><text x="80.9" y="47.4">19</text><text x="81.0" y="51.3">19</text><text x="80.5" y="46.4">19</text><text x="71.6" y="50.1">19</text><text x="74.6" y="47.9">19</text><text x="82.2" y="51.6">19</text><text x="87.8" y="52.4">19</text><text x="87.8" y="47.3">19</text><text x="70.3" y="49.9">19</text><text x="88.9" y="47.4">19</text><text x="73.2" y="45.9">19</text><text x="76.1" y="53.6">19</text><text x="71.7" y="51.7">19</text><text x="84.8" y="50.5">19</text><text x="78.2" y="49.9">19</text><text x="82.4" y="51.4">19</text><text x="83.4" y="50.4">19</text><text x="70.2" y="46.1">19</text><text x="77.5" y="47.5">19</text><text x="72.9" y="48.0">19</text><text x="78.1" y="45.8">19</text><text x="76.3" y="49.1">19</text><text x="83.3" y="43.9">19</text><text x="84.7" y="52.8">19</text><text x="78.5" y="47.8">19</text><text x="84.5" y="50.6">19</text><text x="76.6" y="45.5">19</text><text x="72.6" y="47.7">19</text><text x="70.9" y="44.1">19</text><text x="72.2" y="49.3">19</text><text x="77.4" y="48.7">19</text><text x="79.9" y="45.4">19</text><text x="84.1" y="46.3">19</text><text x="84.7" y="49.7">19</text><text x="83.0" y="47.9">19</text><text x="83.6" y="47.8">19</text><text x="67.3" y="47.1">19</text><text x="89.5" y="47.9">19</text><text x="71.3" y="49.3">19</text><text x="85.8" y="49.0">19</text><text x="96.7" y="47.5">19</text><text x="96.1" y="52.7">19</text><text x="98.8" y="46.0">19</text><text x="85.5" y="51.6">19</text><text x="95.4" y="48.9">19</text><text x="91.8" y="44.8">19</text><text x="103.2" y="46.5">19</text><text x="107.3" y="50.1">19</text><text x="92.8" y="51.5">19</text><text x="90.4" y="47.8">19</text><text x="100.4" y="46.4">19</text><text x="106.4" y="46.5">19</text><text x="95.8" y="47.0">19</text><text x="92.3" y="46.9">19</text><text x="100.1" y="47.4">19</text><text x="92.8" y="49.6">19</text><text x="108.7" y="50.9">19</text><text x="100.8" y="45.3">19</text><text x="89.3" y="46.3">19</text><text x="98.8" y="42.5">19</text><text x="94.0" y="47.1">19</text><text x="104.6" y="46.6">19</text><text x="92.3" y="46.2">19</text><text x="92.1" y="49.5">19</text><text x="104.6" y="48.9">19</text><text x="98.9" y="45.6">19</text><text x="100.5" y="48.2">19</text><text x="95.7" y="45.8">19</text><text x="105.6" y="44.5">19</text><text x="93.8" y="41.6">19</text><text x="89.6" y="48.4">19</text><text x="105.9" y="52.0">19</text><text x="103.2" y="41.1">19</text><text x="92.5" y="50.5">19</text><text x="103.5" y="47.6">19</text><text x="105.0" y="49.7">19</text><text x="95.7" y="49.8">19</text><text x="103.0" y="47.3">19</text><text x="109.6" y="47.4">19</text><text x="92.6" y="49.0">19</text><text x="93.6" y="49.5">19</text><text x="99.5" y="43.7">19</text><text x="92.3" y="47.6">19</text><text x="93.9" y="44.0">19</text><text x="105.8" y="44.8">19</text><text x="89.1" y="50.7">19</text><text x="108.0" y="48.2">19</text><text x="99.4" y="44.0">19</text><text x="99.1" y="45.8">19</text><text x="91.9" y="49.4">19</text><text x="106.0" y="47.8">19</text><text x="97.9" y="47.7">19</text><text x="104.6" y="47.1">19</text><text x="96.6" y="44.7">19</text><text x="108.7" y="50.1">19</text><text x="92.4" y="48.5">19</text><text x="106.2" y="52.3">19</text><text x="92.3" y="49.7">19</text><text x="102.5" y="48.1">19</text><text x="105.7" y="50.4">19</text><text x="111.3" y="49.2">19</text><text x="92.4" y="47.9">19</text><text x="101.6" y="48.5">19</text><text x="103.2" y="46.2">19</text><text x="107.8" y="51.2">19</text><text x="101.1" y="48.7">19</text><text x="93.1" y="46.5">19</text><text x="93.9" y="50.5">19</text><text x="92.9" y="43.8">19</text><text x="109.5" y="45.2">19</text><text x="97.3" y="48.4">19</text><text x="100.9" y="47.7">19</text><text x="99.3" y="51.8">19</text><text x="86.9" y="49.6">19</text><text x="91.2" y="46.5">19</text><text x="102.4" y="49.4">19</text><text x="102.2" y="46.7">19</text><text x="105.5" y="49.1">19</text><text x="105.7" y="46.4">19</text><text x="73.5" y="35.8">19</text><text x="73.9" y="38.7">19</text><text x="68.6" y="40.1">19</text><text x="61.4" y="42.3">19</text><text x="65.3" y="42.7">19</text><text x="59.4" y="44.9">19</text><text x="58.1" y="48.0">19</text><text x="56.7" y="51.3">19</text><text x="73.3" y="54.0">19</text><text x="72.9" y="57.3">19</text><text x="85.1" y="53.0">19</text><text x="89.7" y="56.1">19</text><text x="97.6" y="56.7">19</text><text x="106.8" y="39.8">19</text><text x="116.0" y="46.4">19</text><text x="124.5" y="47.8">19</text><text x="112.7" y="48.7">19</text><text x="108.5" y="59.7">19</text><text x="86.1" y="37.2">19</text><text x="89.0" y="37.2">19</text><text x="62.7" y="42.4">19</text><text x="64.0" y="45.6">19</text></g><g fill="#4169E1" stroke="#4169E1"><text x="89.2" y="53.4">20</text><text x="94.9" y="54.9">20</text><text x="87.9" y="49.1">20</text><text x="80.7" y="53.4">20</text><text x="88.9" y="50.1">20</text><text x="87.3" y="53.4">20</text><text x="89.6" y="57.7">20</text><text x="94.9" y="45.3">20</text><text x="93.7" y="51.4">20</text><text x="94.0" y="46.3">20</text><text x="77.0" y="52.1">20</text><text x="100.0" y="52.0">20</text><text x="96.4" y="48.1">20</text><text x="82.8" y="44.8">20</text><text x="90.6" y="51.8">20</text><text x="88.7" y="51.6">20</text><text x="89.0" y="52.5">20</text><text x="98.2" y="48.1">20</text><text x="95.5" y="47.3">20</text><text x="96.6" y="48.2">20</text><text x="87.3" y="49.4">20</text><text x="85.0" y="51.9">20</text><text x="90.0" y="53.9">20</text><text x="94.7" y="52.6">20</text><text x="94.3" y="51.0">20</text><text x="83.5" y="54.8">20</text><text x="98.2" y="53.5">20</text><text x="95.0" y="53.8">20</text><text x="99.5" y="51.7">20</text><text x="90.1" y="51.7">20</text><text x="86.2" y="52.2">20</text><text x="93.2" y="48.9">20</text><text x="85.4" y="52.2">20</text><text x="92.2" y="53.5">20</text><text x="82.7" y="47.9">20</text><text x="92.0" y="48.9">20</text><text x="91.3" y="57.9">20</text><text x="93.3" y="47.4">20</text><text x="86.9" y="55.7">20</text><text x="92.8" y="50.1">20</text><text x="96.8" y="51.4">20</text><text x="85.4" y="51.8">20</text><text x="80.1" y="58.1">20</text><text x="95.7" y="50.5">20</text><text x="86.5" y="53.0">20</text><text x="88.9" y="46.6">20</text><text x="84.4" y="51.1">20</text><text x="75.9" y="45.1">20</text><text x="91.4" y="58.1">20</text><text x="93.6" y="53.9">20</text><text x="98.9" y="56.1">20</text><text x="89.7" y="55.1">20</text><text x="82.0" y="52.4">20</text><text x="89.6" y="47.6">20</text><text x="90.9" y="51.1">20</text><text x="74.9" y="53.9">20</text><text x="97.3" y="49.9">20</text><text x="85.6" y="55.6">20</text><text x="86.3" y="56.4">20</text><text x="94.3" y="52.1">20</text><text x="80.0" y="48.6">20</text><text x="90.6" y="55.4">20</text><text x="82.1" y="50.6">20</text><text x="78.6" y="56.3">20</text><text x="96.2" y="55.5">20</text><text x="81.8" y="55.3">20</text><text x="87.9" y="52.5">20</text><text x="79.0" y="52.2">20</text><text x="82.3" y="45.0">20</text><text x="91.8" y="52.8">20</text><text x="95.7" y="55.3">20</text><text x="84.9" y="47.6">20</text><text x="96.9" y="50.1">20</text><text x="84.8" y="56.1">20</text><text x="87.7" y="54.9">20</text><text x="93.6" y="51.2">20</text><text x="93.1" y="49.4">20</text><text x="84.2" y="50.2">20</text><text x="76.5" y="52.9">20</text><text x="95.2" y="48.8">20</text><text x="82.0" y="51.9">20</text><text x="88.1" y="52.9">20</text><text x="97.7" y="58.2">20</text><text x="94.4" y="56.8">20</text><text x="84.7" y="53.2">20</text><text x="89.6" y="50.8">20</text><text x="83.8" y="51.7">20</text><text x="96.9" y="53.4">20</text><text x="83.7" y="51.0">20</text><text x="88.1" y="55.0">20</text><text x="89.8" y="55.9">20</text><text x="85.3" y="55.8">20</text><text x="97.4" y="54.7">20</text><text x="88.1" y="48.2">20</text><text x="86.0" y="49.9">20</text><text x="86.5" y="45.3">20</text><text x="85.7" y="50.4">20</text><text x="88.9" y="47.4">20</text><text x="85.5" y="58.0">20</text><text x="96.2" y="50.0">20</text><text x="42.1" y="47.5">20</text><text x="116.8" y="56.2">20</text><text x="106.0" y="52.2">20</text><text x="95.6" y="40.3">20</text><text x="73.7" y="43.9">20</text><text x="80.9" y="42.2">20</text><text x="82.7" y="43.4">20</text><text x="97.3" y="43.4">20</text><text x="74.1" y="53.3">20</text><text x="74.5" y="43.9">20</text><text x="80.8" y="42.4">20</text><text x="95.4" y="40.3">20</text><text x="97.2" y="43.1">20</text><text x="73.5" y="53.2">20</text><text x="102.5" y="46.5">20</text><text x="105.5" y="52.2">20</text><text x="117.6" y="55.9">20</text><text x="82.4" y="43.4">20</text><text x="99.7" y="53.5">20</text><text x="93.8" y="54.2">20</text><text x="97.7" y="55.7">20</text><text x="94.1" y="54.1">20</text><text x="94.2" y="55.4">20</text><text x="99.1" y="52.1">20</text><text x="99.5" y="53.4">20</text><text x="93.3" y="57.2">20</text><text x="93.0" y="49.9">20</text><text x="95.3" y="55.0">20</text><text x="84.0" y="57.6">20</text><text x="96.0" y="51.9">20</text><text x="90.3" y="53.4">20</text><text x="96.2" y="54.1">20</text><text x="85.8" y="52.1">20</text><text x="89.3" y="53.6">20</text><text x="89.5" y="51.0">20</text><text x="90.1" y="50.4">20</text><text x="98.1" y="55.3">20</text><text x="92.1" y="51.2">20</text><text x="91.0" y="56.4">20</text><text x="91.0" y="51.1">20</text><text x="94.7" y="55.6">20</text><text x="95.7" y="53.0">20</text><text x="92.0" y="56.8">20</text><text x="90.7" y="57.3">20</text><text x="94.3" y="51.9">20</text><text x="87.1" y="50.2">20</text><text x="95.2" y="56.9">20</text><text x="96.6" y="54.4">20</text><text x="88.9" y="49.4">20</text><text x="94.7" y="53.6">20</text><text x="92.6" y="56.5">20</text><text x="88.9" y="55.0">20</text><text x="87.8" y="53.8">20</text><text x="92.0" y="53.9">20</text><text x="97.0" y="53.8">20</text><text x="95.6" y="53.8">20</text><text x="92.0" y="53.5">20</text><text x="95.9" y="53.6">20</text></g><g fill="#8B0000" stroke="#8B0000"><text x="84.2" y="50.3">21</text><text x="84.8" y="52.1">21</text><text x="87.2" y="50.2">21</text><text x="84.1" y="51.6">21</text><text x="80.7" y="50.8">21</text><text x="85.7" y="52.1">21</text><text x="85.3" y="47.7">21</text><text x="83.3" y="52.0">21</text><text x="80.4" y="49.2">21</text><text x="85.9" y="51.5">21</text><text x="86.3" y="48.1">21</text><text x="86.1" y="49.6">21</text><text x="85.9" y="49.6">21</text><text x="82.9" y="50.4">21</text><text x="86.7" y="49.7">21</text><text x="83.0" y="48.5">21</text><text x="85.2" y="49.6">21</text><text x="84.4" y="49.1">21</text><text x="80.8" y="50.2">21</text><text x="86.7" y="51.5">21</text><text x="80.8" y="51.7">21</text><text x="84.1" y="50.8">21</text><text x="80.5" y="53.1">21</text><text x="84.3" y="50.9">21</text><text x="85.0" y="47.8">21</text><text x="84.6" y="50.1">21</text><text x="85.9" y="49.0">21</text><text x="85.6" y="53.3">21</text><text x="86.7" y="50.6">21</text><text x="84.5" y="53.3">21</text><text x="84.4" y="51.2">21</text><text x="82.5" y="50.7">21</text><text x="85.6" y="48.0">21</text><text x="85.2" y="49.9">21</text><text x="87.5" y="49.8">21</text><text x="82.6" y="53.0">21</text><text x="82.6" y="49.9">21</text><text x="84.3" y="51.1">21</text><text x="80.5" y="53.1">21</text><text x="85.3" y="49.9">21</text><text x="85.8" y="47.1">21</text><text x="85.6" y="48.8">21</text><text x="84.0" y="48.8">21</text><text x="82.3" y="47.3">21</text><text x="87.0" y="49.2">21</text><text x="83.9" y="48.8">21</text><text x="85.4" y="50.0">21</text><text x="84.9" y="51.6">21</text><text x="81.1" y="52.8">21</text><text x="84.0" y="47.4">21</text><text x="80.9" y="51.7">21</text><text x="82.3" y="50.6">21</text><text x="85.9" y="51.5">21</text><text x="82.4" y="49.2">21</text><text x="84.9" y="50.2">21</text><text x="83.8" y="50.9">21</text><text x="83.0" y="50.5">21</text><text x="85.7" y="48.1">21</text><text x="85.2" y="50.2">21</text><text x="81.4" y="49.9">21</text><text x="83.4" y="48.4">21</text><text x="86.6" y="48.5">21</text><text x="82.5" y="50.7">21</text><text x="86.5" y="51.8">21</text><text x="81.2" y="51.5">21</text><text x="84.9" y="50.9">21</text><text x="83.5" y="47.7">21</text><text x="80.8" y="49.1">21</text><text x="81.1" y="51.6">21</text><text x="84.4" y="50.3">21</text><text x="85.7" y="49.4">21</text><text x="82.3" y="50.7">21</text><text x="84.0" y="48.6">21</text><text x="85.2" y="48.7">21</text><text x="83.3" y="51.4">21</text><text x="80.8" y="48.8">21</text><text x="85.6" y="50.9">21</text><text x="83.0" y="52.8">21</text><text x="81.6" y="50.1">21</text><text x="84.1" y="49.0">21</text><text x="83.7" y="50.8">21</text><text x="85.9" y="47.8">21</text><text x="86.0" y="49.1">21</text><text x="80.2" y="50.5">21</text><text x="81.8" y="49.2">21</text><text x="85.7" y="48.2">21</text><text x="83.6" y="46.6">21</text><text x="81.9" y="48.8">21</text><text x="86.1" y="51.0">21</text><text x="86.6" y="47.9">21</text><text x="82.3" y="49.3">21</text><text x="84.3" y="49.3">21</text><text x="85.4" y="51.7">21</text><text x="83.3" y="49.5">21</text><text x="86.4" y="48.6">21</text><text x="85.2" y="53.6">21</text><text x="86.5" y="51.7">21</text><text x="81.7" y="48.5">21</text><text x="86.0" y="48.5">21</text><text x="83.4" y="50.0">21</text><text x="82.3" y="48.0">21</text><text x="87.1" y="49.9">21</text><text x="82.5" y="49.1">21</text><text x="86.2" y="51.7">21</text><text x="87.0" y="49.0">21</text><text x="82.5" y="49.6">21</text><text x="85.2" y="51.0">21</text><text x="86.6" y="46.9">21</text><text x="82.8" y="51.1">21</text><text x="80.6" y="49.0">21</text><text x="83.2" y="46.7">21</text><text x="85.6" y="50.8">21</text><text x="80.4" y="52.7">21</text><text x="81.2" y="50.1">21</text><text x="83.4" y="47.2">21</text><text x="82.0" y="51.5">21</text><text x="84.8" y="48.4">21</text><text x="84.8" y="47.8">21</text><text x="84.1" y="51.4">21</text><text x="84.2" y="50.4">21</text><text x="83.5" y="53.2">21</text><text x="80.7" y="46.6">21</text><text x="84.9" y="51.6">21</text><text x="82.7" y="50.4">21</text><text x="82.5" y="49.3">21</text><text x="84.8" y="48.5">21</text><text x="82.5" y="53.0">21</text><text x="81.3" y="53.1">21</text><text x="85.1" y="49.8">21</text><text x="85.3" y="48.7">21</text><text x="84.0" y="51.1">21</text><text x="83.4" y="49.5">21</text><text x="84.9" y="49.8">21</text><text x="84.3" y="48.4">21</text><text x="82.5" y="51.7">21</text><text x="81.7" y="52.2">21</text><text x="82.1" y="49.8">21</text><text x="81.3" y="51.9">21</text><text x="85.9" y="52.3">21</text><text x="81.4" y="51.5">21</text><text x="83.5" y="50.9">21</text><text x="82.9" y="50.7">21</text><text x="84.0" y="50.5">21</text><text x="85.5" y="50.6">21</text><text x="81.4" y="51.3">21</text><text x="82.5" y="51.0">21</text><text x="85.4" y="51.2">21</text><text x="87.5" y="52.2">21</text><text x="82.9" y="48.0">21</text><text x="83.0" y="49.1">21</text><text x="80.0" y="51.0">21</text><text x="81.8" y="48.2">21</text><text x="83.9" y="50.5">21</text><text x="84.7" y="51.0">21</text><text x="81.8" y="50.4">21</text><text x="84.5" y="52.0">21</text><text x="84.3" y="46.6">21</text><text x="81.8" y="50.3">21</text><text x="81.7" y="49.9">21</text><text x="83.7" y="51.2">21</text><text x="86.0" y="47.9">21</text><text x="82.2" y="51.6">21</text><text x="83.0" y="49.4">21</text><text x="84.7" y="50.0">21</text><text x="85.4" y="51.3">21</text><text x="81.2" y="50.3">21</text><text x="83.2" y="47.6">21</text><text x="84.4" y="50.6">21</text><text x="86.6" y="52.6">21</text><text x="84.7" y="48.1">21</text><text x="82.1" y="52.3">21</text><text x="84.7" y="49.3">21</text><text x="85.2" y="52.3">21</text><text x="83.7" y="49.6">21</text><text x="81.5" y="51.0">21</text><text x="83.1" y="47.4">21</text><text x="84.3" y="50.6">21</text><text x="85.0" y="48.0">21</text><text x="84.1" y="51.9">21</text><text x="81.7" y="50.3">21</text><text x="85.9" y="50.7">21</text><text x="82.8" y="49.6">21</text><text x="85.7" y="47.9">21</text><text x="81.9" y="51.2">21</text><text x="85.9" y="51.8">21</text><text x="81.5" y="52.4">21</text><text x="80.7" y="48.8">21</text><text x="83.7" y="49.3">21</text><text x="86.4" y="51.3">21</text><text x="83.0" y="50.5">21</text><text x="82.3" y="50.2">21</text><text x="84.7" y="47.7">21</text><text x="86.4" y="48.0">21</text><text x="85.5" y="51.5">21</text><text x="84.9" y="49.9">21</text><text x="83.9" y="49.6">21</text><text x="87.9" y="52.7">21</text><text x="86.2" y="49.3">21</text><text x="82.8" y="51.3">21</text><text x="86.9" y="48.7">21</text><text x="83.1" y="50.9">21</text><text x="81.4" y="51.6">21</text><text x="83.1" y="47.0">21</text><text x="85.4" y="49.1">21</text><text x="87.4" y="50.7">21</text><text x="80.8" y="47.3">21</text><text x="81.3" y="52.2">21</text><text x="84.1" y="52.1">21</text><text x="82.0" y="51.2">21</text><text x="83.7" y="49.6">21</text><text x="86.0" y="50.7">21</text><text x="85.1" y="51.5">21</text><text x="81.9" y="48.7">21</text><text x="85.2" y="49.3">21</text><text x="80.7" y="49.5">21</text><text x="84.6" y="49.5">21</text><text x="85.6" y="51.2">21</text><text x="86.6" y="52.4">21</text><text x="83.2" y="51.1">21</text><text x="81.6" y="48.8">21</text><text x="85.6" y="49.9">21</text><text x="87.2" y="52.1">21</text><text x="82.4" y="50.1">21</text><text x="83.6" y="51.6">21</text><text x="81.8" y="51.7">21</text><text x="84.5" y="50.1">21</text><text x="82.5" y="51.0">21</text><text x="81.1" y="47.9">21</text><text x="80.3" y="51.5">21</text><text x="82.9" y="51.9">21</text><text x="88.6" y="53.5">21</text><text x="94.6" y="45.2">21</text><text x="77.4" y="52.6">21</text><text x="98.2" y="46.1">21</text><text x="83.3" y="55.6">21</text><text x="86.1" y="53.1">21</text><text x="97.5" y="56.9">21</text><text x="93.7" y="46.9">21</text><text x="89.6" y="54.6">21</text><text x="87.4" y="57.3">21</text><text x="96.2" y="51.0">21</text><text x="100.6" y="48.5">21</text><text x="90.2" y="51.2">21</text><text x="97.0" y="51.2">21</text><text x="101.6" y="56.3">21</text><text x="93.6" y="56.4">21</text><text x="85.9" y="47.8">21</text><text x="85.8" y="57.1">21</text><text x="96.4" y="53.9">21</text><text x="91.4" y="53.8">21</text><text x="86.4" y="50.2">21</text><text x="96.0" y="53.1">21</text><text x="99.4" y="55.6">21</text><text x="100.9" y="52.5">21</text><text x="92.7" y="54.3">21</text><text x="84.3" y="49.2">21</text><text x="83.4" y="57.6">21</text><text x="95.3" y="53.9">21</text><text x="101.2" y="51.4">21</text><text x="106.7" y="48.5">21</text><text x="91.7" y="54.0">21</text><text x="69.3" y="50.0">21</text><text x="92.4" y="51.6">21</text><text x="92.0" y="54.5">21</text><text x="91.6" y="53.3">21</text><text x="81.0" y="54.5">21</text><text x="91.0" y="50.7">21</text><text x="95.1" y="51.1">21</text><text x="79.4" y="53.6">21</text><text x="98.5" y="51.3">21</text><text x="91.8" y="56.4">21</text><text x="94.7" y="49.7">21</text><text x="40.3" y="50.7">21</text><text x="95.9" y="49.5">21</text><text x="68.9" y="49.4">21</text><text x="97.8" y="53.1">21</text><text x="93.0" y="56.5">21</text><text x="92.7" y="52.0">21</text><text x="93.7" y="51.7">21</text><text x="77.8" y="56.9">21</text><text x="97.1" y="53.4">21</text><text x="97.0" y="53.6">21</text><text x="87.7" y="54.7">21</text><text x="90.3" y="53.3">21</text><text x="106.1" y="46.5">21</text><text x="89.7" y="56.8">21</text><text x="91.7" y="49.9">21</text><text x="91.5" y="44.4">21</text><text x="88.3" y="43.4">21</text><text x="98.4" y="46.1">21</text><text x="93.5" y="48.6">21</text><text x="90.4" y="55.8">21</text><text x="83.4" y="52.9">21</text><text x="87.1" y="54.8">21</text><text x="92.7" y="58.3">21</text></g><g fill="#006400" stroke="#006400"><text x="27.4" y="44.4">22</text><text x="27.4" y="48.6">22</text><text x="27.4" y="49.2">22</text><text x="35.4" y="47.1">22</text><text x="38.8" y="48.9">22</text><text x="40.6" y="48.9">22</text><text x="38.3" y="51.3">22</text><text x="38.8" y="54.5">22</text><text x="40.6" y="54.5">22</text><text x="45.2" y="49.2">22</text><text x="46.5" y="42.6">22</text><text x="49.2" y="42.1">22</text><text x="50.7" y="41.0">22</text><text x="47.5" y="45.7">22</text><text x="47.6" y="47.5">22</text><text x="48.5" y="48.3">22</text><text x="49.2" y="53.6">22</text><text x="56.8" y="35.8">22</text><text x="64.4" y="42.1">22</text><text x="67.9" y="41.5">22</text><text x="71.4" y="41.8">22</text><text x="75.1" y="57.8">22</text><text x="65.2" y="61.0">22</text><text x="67.9" y="59.4">22</text><text x="39.2" y="54.3">22</text><text x="38.5" y="48.6">22</text><text x="63.8" y="49.9">22</text><text x="63.3" y="51.1">22</text><text x="64.5" y="55.9">22</text><text x="55.3" y="54.5">22</text><text x="66.5" y="51.7">22</text><text x="72.1" y="47.1">22</text><text x="63.4" y="54.6">22</text><text x="58.4" y="46.4">22</text><text x="60.0" y="52.2">22</text><text x="73.1" y="56.0">22</text><text x="60.6" y="54.3">22</text><text x="61.4" y="49.7">22</text><text x="70.6" y="55.6">22</text><text x="66.4" y="55.4">22</text><text x="68.5" y="52.3">22</text><text x="63.6" y="51.3">22</text><text x="64.8" y="49.8">22</text><text x="68.2" y="53.6">22</text><text x="64.0" y="48.6">22</text><text x="59.5" y="50.3">22</text><text x="59.1" y="50.4">22</text><text x="56.1" y="52.0">22</text><text x="59.3" y="50.2">22</text><text x="64.1" y="49.8">22</text><text x="70.0" y="55.4">22</text><text x="52.6" y="51.4">22</text><text x="59.4" y="46.7">22</text><text x="69.3" y="58.2">22</text><text x="55.9" y="49.4">22</text><text x="67.6" y="51.5">22</text><text x="57.3" y="53.6">22</text><text x="58.9" y="53.7">22</text><text x="68.4" y="46.2">22</text><text x="61.3" y="44.8">22</text><text x="74.4" y="53.8">22</text><text x="68.4" y="52.2">22</text><text x="67.1" y="56.6">22</text><text x="54.4" y="56.0">22</text><text x="61.9" y="52.6">22</text><text x="64.4" y="52.2">22</text><text x="75.8" y="50.8">22</text><text x="65.1" y="52.8">22</text><text x="55.1" y="47.7">22</text><text x="60.4" y="50.9">22</text><text x="60.6" y="49.6">22</text><text x="68.6" y="55.2">22</text><text x="69.4" y="49.7">22</text><text x="62.9" y="52.6">22</text><text x="62.2" y="49.9">22</text><text x="66.5" y="51.8">22</text><text x="60.4" y="57.6">22</text><text x="68.1" y="47.7">22</text><text x="70.9" y="50.0">22</text><text x="52.9" y="47.9">22</text><text x="72.2" y="45.1">22</text><text x="62.6" y="51.3">22</text><text x="66.6" y="46.5">22</text><text x="54.4" y="50.0">22</text><text x="70.6" y="50.3">22</text><text x="62.8" y="47.0">22</text><text x="57.3" y="51.4">22</text><text x="64.7" y="49.6">22</text><text x="68.8" y="49.8">22</text><text x="61.8" y="58.7">22</text><text x="67.5" y="48.0">22</text><text x="62.0" y="51.9">22</text><text x="61.6" y="48.9">22</text><text x="54.2" y="48.7">22</text><text x="67.4" y="53.4">22</text><text x="62.4" y="48.9">22</text><text x="59.0" y="46.5">22</text><text x="63.9" y="46.9">22</text><text x="60.0" y="51.6">22</text><text x="73.4" y="49.0">22</text><text x="65.4" y="54.8">22</text><text x="71.9" y="58.0">22</text><text x="58.5" y="53.8">22</text><text x="50.0" y="56.0">22</text><text x="62.7" y="51.4">22</text><text x="61.7" y="53.3">22</text><text x="64.5" y="45.5">22</text><text x="54.2" y="43.8">22</text><text x="65.9" y="53.4">22</text><text x="72.1" y="50.4">22</text><text x="61.6" y="49.5">22</text><text x="72.2" y="46.2">22</text><text x="62.4" y="45.0">22</text><text x="63.7" y="47.7">22</text><text x="60.0" y="55.1">22</text><text x="54.4" y="44.9">22</text><text x="49.9" y="46.9">22</text><text x="55.3" y="45.2">22</text><text x="62.0" y="49.3">22</text><text x="68.5" y="48.3">22</text><text x="52.8" y="55.9">22</text><text x="54.7" y="46.8">22</text><text x="54.0" y="53.7">22</text><text x="63.8" y="50.9">22</text><text x="68.8" y="45.0">22</text><text x="65.7" y="55.4">22</text><text x="58.7" y="54.9">22</text><text x="66.1" y="49.0">22</text><text x="53.5" y="56.0">22</text><text x="72.8" y="53.7">22</text><text x="54.5" y="44.8">22</text><text x="49.2" y="51.3">22</text><text x="57.9" y="55.9">22</text><text x="63.2" y="56.1">22</text><text x="62.7" y="52.5">22</text><text x="55.3" y="53.4">22</text></g><g fill="#A9A9A9" stroke="#A9A9A9"><text x="54.1" y="49.1">24</text><text x="54.7" y="46.2">24</text><text x="55.4" y="45.1">24</text><text x="60.3" y="47.2">24</text><text x="61.0" y="48.1">24</text><text x="61.9" y="47.4">24</text><text x="63.5" y="48.4">24</text><text x="64.6" y="44.9">24</text><text x="65.4" y="45.3">24</text><text x="64.3" y="46.1">24</text><text x="66.8" y="45.8">24</text><text x="66.7" y="46.7">24</text><text x="68.7" y="44.9">24</text><text x="70.2" y="44.0">24</text><text x="68.4" y="50.8">24</text><text x="70.3" y="51.2">24</text><text x="72.0" y="54.0">24</text><text x="75.8" y="54.2">24</text><text x="73.9" y="51.4">24</text><text x="75.6" y="51.2">24</text><text x="78.0" y="52.2">24</text><text x="76.8" y="46.9">24</text><text x="77.5" y="47.2">24</text><text x="78.7" y="47.8">24</text><text x="79.9" y="46.5">24</text><text x="74.6" y="49.1">24</text><text x="77.7" y="49.1">24</text><text x="72.2" y="50.6">24</text><text x="72.7" y="50.7">24</text><text x="73.4" y="51.7">24</text><text x="69.3" y="48.2">24</text><text x="68.4" y="46.7">24</text><text x="70.5" y="48.4">24</text><text x="67.4" y="46.9">24</text><text x="74.0" y="46.3">24</text><text x="71.1" y="49.0">24</text><text x="69.6" y="47.0">24</text><text x="70.4" y="47.7">24</text><text x="70.9" y="47.5">24</text><text x="67.8" y="47.4">24</text><text x="72.2" y="48.4">24</text><text x="67.4" y="49.3">24</text><text x="74.6" y="47.7">24</text><text x="66.2" y="48.8">24</text><text x="70.3" y="48.1">24</text><text x="70.1" y="47.4">24</text><text x="71.6" y="47.6">24</text><text x="71.2" y="48.1">24</text><text x="70.9" y="47.7">24</text><text x="65.3" y="48.5">24</text><text x="71.8" y="47.0">24</text><text x="71.2" y="48.0">24</text><text x="63.4" y="48.5">24</text><text x="65.9" y="47.9">24</text><text x="67.9" y="48.3">24</text><text x="67.7" y="46.7">24</text><text x="69.2" y="46.6">24</text><text x="70.0" y="48.8">24</text><text x="68.0" y="46.2">24</text><text x="72.2" y="46.6">24</text></g><g fill="#F39A2A" stroke="#F39A2A"><text x="74.4" y="52.0">26</text><text x="74.9" y="46.7">26</text><text x="77.7" y="49.1">26</text><text x="74.4" y="55.6">26</text><text x="78.9" y="50.7">26</text><text x="73.5" y="55.7">26</text><text x="75.0" y="46.9">26</text><text x="72.4" y="51.3">26</text><text x="74.3" y="51.1">26</text><text x="71.3" y="50.7">26</text><text x="68.8" y="52.8">26</text><text x="71.7" y="48.9">26</text><text x="76.7" y="49.1">26</text><text x="75.8" y="53.9">26</text><text x="76.1" y="49.9">26</text><text x="76.4" y="49.3">26</text><text x="73.3" y="50.6">26</text><text x="72.6" y="48.3">26</text><text x="72.3" y="56.8">26</text><text x="72.3" y="54.7">26</text><text x="71.3" y="51.1">26</text><text x="74.6" y="48.5">26</text><text x="75.0" y="54.9">26</text><text x="76.8" y="48.4">26</text><text x="75.3" y="53.2">26</text><text x="74.9" y="49.3">26</text><text x="74.2" y="50.2">26</text><text x="78.8" y="57.0">26</text><text x="69.8" y="53.2">26</text><text x="78.0" y="48.1">26</text><text x="71.0" y="50.0">26</text><text x="72.9" y="50.4">26</text><text x="70.5" y="45.1">26</text><text x="77.1" y="51.1">26</text><text x="83.2" y="50.1">26</text><text x="68.9" y="50.3">26</text><text x="77.9" y="50.5">26</text><text x="69.8" y="53.4">26</text><text x="75.9" y="51.7">26</text><text x="74.1" y="50.4">26</text><text x="75.1" y="50.9">26</text><text x="71.6" y="49.8">26</text><text x="72.1" y="52.3">26</text><text x="73.9" y="56.7">26</text><text x="73.9" y="53.2">26</text><text x="75.0" y="45.4">26</text><text x="76.2" y="51.8">26</text><text x="75.1" y="52.5">26</text><text x="72.5" y="52.4">26</text><text x="82.2" y="46.5">26</text><text x="70.4" y="52.2">26</text><text x="74.1" y="48.1">26</text><text x="69.6" y="47.0">26</text><text x="71.8" y="50.7">26</text><text x="70.0" y="55.1">26</text><text x="70.1" y="51.8">26</text><text x="80.5" y="55.4">26</text><text x="71.0" y="53.0">26</text><text x="73.6" y="52.3">26</text><text x="78.9" y="50.2">26</text><text x="73.3" y="56.1">26</text><text x="78.5" y="50.0">26</text><text x="75.5" y="52.5">26</text><text x="74.8" y="49.3">26</text><text x="66.5" y="51.7">26</text><text x="38.0" y="50.4">26</text><text x="65.9" y="43.2">26</text><text x="72.4" y="41.6">26</text><text x="76.0" y="42.4">26</text><text x="70.0" y="44.7">26</text><text x="83.8" y="46.2">26</text><text x="88.7" y="46.0">26</text><text x="105.8" y="46.2">26</text><text x="121.3" y="44.0">26</text><text x="125.8" y="48.7">26</text><text x="100.9" y="53.5">26</text><text x="86.3" y="49.2">26</text><text x="88.7" y="50.7">26</text><text x="86.3" y="51.7">26</text><text x="67.6" y="48.2">26</text><text x="68.9" y="51.7">26</text><text x="72.4" y="59.3">26</text><text x="74.9" y="57.8">26</text></g><g fill="#87CEEB" stroke="#87CEEB"><text x="81.3" y="50.4">28</text><text x="114.7" y="54.8">28</text><text x="122.8" y="46.4">28</text><text x="104.9" y="54.5">28</text><text x="109.3" y="51.8">28</text><text x="103.6" y="50.1">28</text><text x="115.2" y="48.0">28</text><text x="88.1" y="43.3">28</text><text x="92.4" y="53.7">28</text><text x="100.3" y="46.2">28</text><text x="113.2" y="54.3">28</text><text x="77.1" y="44.1">28</text><text x="113.5" y="50.2">28</text><text x="79.8" y="51.2">28</text><text x="93.1" y="46.8">28</text><text x="114.0" y="45.1">28</text><text x="68.4" y="53.8">28</text><text x="82.5" y="46.5">28</text><text x="101.7" y="52.7">28</text><text x="92.4" y="50.0">28</text><text x="98.0" y="56.0">28</text><text x="108.7" y="48.7">28</text><text x="107.5" y="52.6">28</text><text x="92.8" y="52.5">28</text><text x="87.6" y="55.2">28</text><text x="70.2" y="42.3">28</text><text x="90.3" y="48.8">28</text><text x="105.2" y="50.7">28</text><text x="74.7" y="53.8">28</text><text x="90.0" y="51.0">28</text><text x="93.8" y="52.5">28</text><text x="93.4" y="46.6">28</text><text x="69.1" y="53.3">28</text><text x="83.5" y="50.3">28</text><text x="82.2" y="48.7">28</text><text x="89.2" y="54.1">28</text><text x="113.8" y="43.3">28</text><text x="89.6" y="52.1">28</text><text x="99.1" y="49.4">28</text><text x="80.4" y="53.6">28</text><text x="111.5" y="47.3">28</text><text x="93.1" y="50.1">28</text><text x="114.2" y="53.5">28</text><text x="95.1" y="50.9">28</text><text x="114.2" y="47.9">28</text><text x="78.0" y="44.0">28</text><text x="106.8" y="48.5">28</text><text x="79.8" y="47.4">28</text><text x="94.0" y="49.6">28</text><text x="92.9" y="49.9">28</text><text x="85.1" y="50.8">28</text><text x="93.2" y="53.6">28</text><text x="90.4" y="48.1">28</text><text x="111.5" y="57.4">28</text><text x="94.6" y="46.0">28</text><text x="101.7" y="53.6">28</text><text x="107.6" y="50.6">28</text><text x="100.9" y="48.7">28</text><text x="96.7" y="47.1">28</text><text x="108.1" y="51.4">28</text><text x="85.7" y="48.6">28</text><text x="86.0" y="48.5">28</text><text x="105.7" y="48.7">28</text><text x="98.1" y="42.4">28</text><text x="89.8" y="45.7">28</text><text x="104.7" y="45.6">28</text><text x="90.7" y="50.7">28</text><text x="96.7" y="48.1">28</text><text x="121.2" y="54.8">28</text><text x="99.3" y="50.2">28</text><text x="96.7" y="53.4">28</text><text x="111.5" y="54.1">28</text><text x="98.5" y="49.8">28</text><text x="77.1" y="43.6">28</text><text x="112.0" y="47.6">28</text><text x="93.0" y="52.4">28</text><text x="118.9" y="50.6">28</text><text x="107.6" y="49.9">28</text><text x="79.0" y="48.2">28</text><text x="101.4" y="53.8">28</text><text x="99.0" y="45.7">28</text><text x="79.2" y="53.0">28</text><text x="103.3" y="54.4">28</text><text x="116.9" y="46.4">28</text><text x="104.6" y="49.9">28</text><text x="78.1" y="56.4">28</text><text x="96.5" y="54.7">28</text><text x="101.3" y="42.8">28</text><text x="90.6" y="53.3">28</text><text x="80.9" y="48.3">28</text><text x="97.7" y="48.2">28</text><text x="119.7" y="45.6">28</text><text x="112.1" y="48.0">28</text><text x="100.8" y="41.9">28</text><text x="97.9" y="53.8">28</text><text x="85.1" y="54.0">28</text><text x="103.2" y="49.6">28</text><text x="105.4" y="53.6">28</text><text x="98.7" y="43.9">28</text><text x="112.1" y="49.0">28</text><text x="80.1" y="52.5">28</text><text x="90.8" y="52.3">28</text><text x="96.9" y="51.4">28</text><text x="102.2" y="44.9">28</text><text x="97.2" y="53.5">28</text><text x="94.7" y="52.3">28</text><text x="93.1" y="54.6">28</text><text x="105.7" y="52.6">28</text><text x="80.2" y="47.9">28</text><text x="109.5" y="52.7">28</text><text x="89.5" y="32.7">28</text><text x="89.8" y="36.1">28</text><text x="97.5" y="34.9">28</text><text x="91.2" y="38.5">28</text><text x="98.3" y="38.8">28</text><text x="97.5" y="41.2">28</text><text x="103.4" y="40.9">28</text><text x="114.4" y="39.1">28</text><text x="72.1" y="41.6">28</text><text x="81.4" y="41.6">28</text><text x="85.6" y="42.1">28</text><text x="89.8" y="42.1">28</text><text x="48.3" y="43.9">28</text><text x="48.3" y="49.2">28</text><text x="58.5" y="48.0">28</text><text x="69.6" y="46.7">28</text><text x="74.3" y="46.9">28</text><text x="81.4" y="44.2">28</text><text x="118.7" y="45.5">28</text><text x="121.2" y="46.7">28</text><text x="123.8" y="49.4">28</text><text x="120.4" y="51.2">28</text><text x="139.9" y="50.1">28</text><text x="139.9" y="51.9">28</text><text x="59.4" y="51.9">28</text><text x="63.6" y="51.0">28</text><text x="67.9" y="50.3">28</text><text x="64.5" y="53.2">28</text><text x="68.7" y="53.7">28</text><text x="67.0" y="55.8">28</text><text x="73.8" y="55.1">28</text><text x="84.8" y="54.1">28</text><text x="87.3" y="56.9">28</text><text x="98.3" y="57.8">28</text><text x="109.3" y="56.5">28</text><text x="117.0" y="54.6">28</text><text x="111.0" y="51.0">28</text></g><g fill="#94511E" stroke="#94511E"><text x="35.4" y="43.9">29</text><text x="35.4" y="44.6">29</text><text x="35.4" y="46.2">29</text><text x="37.7" y="43.1">29</text><text x="37.7" y="44.2">29</text><text x="37.7" y="45.4">29</text><text x="37.7" y="46.5">29</text><text x="37.7" y="48.1">29</text><text x="40.1" y="43.3">29</text><text x="40.1" y="44.4">29</text><text x="40.1" y="45.6">29</text><text x="40.1" y="46.7">29</text><text x="40.1" y="50.3">29</text><text x="42.1" y="42.4">29</text><text x="42.1" y="44.2">29</text><text x="42.1" y="45.8">29</text><text x="42.1" y="48.4">29</text><text x="43.7" y="40.9">29</text><text x="43.7" y="42.4">29</text><text x="43.7" y="43.5">29</text><text x="43.7" y="44.6">29</text><text x="43.7" y="46.5">29</text><text x="45.6" y="42.0">29</text><text x="45.6" y="43.5">29</text><text x="45.6" y="45.0">29</text><text x="45.6" y="46.5">29</text><text x="45.6" y="48.1">29</text><text x="45.6" y="50.3">29</text><text x="45.6" y="52.0">29</text><text x="47.4" y="40.5">29</text><text x="47.4" y="42.0">29</text><text x="47.4" y="43.5">29</text><text x="47.4" y="45.0">29</text><text x="47.4" y="46.5">29</text><text x="47.4" y="48.1">29</text><text x="47.4" y="49.6">29</text><text x="51.4" y="44.4">29</text><text x="51.3" y="43.1">29</text><text x="50.5" y="45.6">29</text><text x="58.0" y="44.8">29</text><text x="54.2" y="47.3">29</text><text x="61.8" y="41.9">29</text><text x="52.1" y="47.3">29</text><text x="57.5" y="44.7">29</text><text x="54.2" y="44.4">29</text><text x="50.6" y="46.4">29</text><text x="60.0" y="46.0">29</text><text x="56.5" y="45.6">29</text><text x="49.7" y="43.2">29</text><text x="52.1" y="42.0">29</text><text x="51.4" y="46.0">29</text><text x="52.9" y="47.0">29</text><text x="59.5" y="46.5">29</text><text x="57.4" y="43.9">29</text><text x="48.7" y="46.4">29</text><text x="53.5" y="46.9">29</text><text x="55.9" y="45.9">29</text><text x="46.5" y="46.0">29</text><text x="49.6" y="41.2">29</text><text x="56.5" y="43.4">29</text><text x="54.1" y="44.8">29</text><text x="58.3" y="47.1">29</text><text x="52.8" y="46.3">29</text><text x="52.1" y="45.8">29</text><text x="56.4" y="46.4">29</text><text x="57.5" y="48.6">29</text><text x="51.3" y="44.7">29</text><text x="56.4" y="46.4">29</text><text x="50.5" y="45.3">29</text><text x="53.5" y="42.4">29</text><text x="55.9" y="45.1">29</text><text x="56.0" y="49.6">29</text><text x="55.4" y="44.6">29</text><text x="49.6" y="44.2">29</text><text x="48.7" y="48.3">29</text><text x="52.7" y="45.8">29</text><text x="55.9" y="46.6">29</text><text x="59.3" y="45.0">29</text><text x="50.5" y="48.8">29</text><text x="52.1" y="49.7">29</text><text x="54.8" y="41.6">29</text><text x="54.9" y="46.7">29</text><text x="57.5" y="48.2">29</text><text x="54.2" y="45.2">29</text><text x="59.3" y="46.8">29</text><text x="46.5" y="45.6">29</text><text x="52.0" y="47.8">29</text><text x="49.6" y="43.9">29</text><text x="56.9" y="48.0">29</text><text x="55.9" y="49.5">29</text><text x="56.4" y="51.1">29</text><text x="58.9" y="46.3">29</text><text x="62.2" y="46.9">29</text><text x="60.3" y="46.4">29</text><text x="49.5" y="47.7">29</text><text x="52.1" y="42.1">29</text><text x="58.9" y="48.0">29</text><text x="50.6" y="47.5">29</text><text x="52.1" y="44.9">29</text><text x="52.9" y="43.9">29</text><text x="51.3" y="42.2">29</text><text x="48.6" y="46.1">29</text><text x="49.5" y="44.9">29</text><text x="50.4" y="47.9">29</text><text x="52.8" y="45.3">29</text><text x="53.4" y="46.3">29</text><text x="47.6" y="46.0">29</text><text x="57.5" y="44.5">29</text><text x="55.8" y="46.9">29</text><text x="58.8" y="43.2">29</text><text x="59.3" y="43.6">29</text><text x="54.1" y="44.4">29</text><text x="49.7" y="47.3">29</text><text x="51.4" y="43.6">29</text><text x="55.3" y="45.3">29</text><text x="52.9" y="46.9">29</text><text x="54.7" y="44.3">29</text><text x="51.3" y="46.1">29</text><text x="57.9" y="44.8">29</text><text x="52.2" y="44.8">29</text><text x="55.9" y="47.1">29</text><text x="52.8" y="45.6">29</text><text x="52.0" y="43.9">29</text><text x="53.4" y="44.6">29</text><text x="60.0" y="52.2">29</text><text x="47.6" y="46.4">29</text><text x="55.9" y="44.9">29</text><text x="50.5" y="45.4">29</text><text x="52.8" y="46.1">29</text><text x="58.4" y="48.2">29</text><text x="53.5" y="44.2">29</text><text x="56.3" y="48.8">29</text><text x="58.0" y="39.8">29</text><text x="52.1" y="42.7">29</text><text x="48.6" y="44.6">29</text><text x="51.2" y="45.3">29</text><text x="50.5" y="51.1">29</text><text x="59.7" y="43.9">29</text><text x="47.5" y="45.5">29</text><text x="54.1" y="45.8">29</text><text x="55.8" y="45.9">29</text><text x="56.9" y="44.9">29</text><text x="55.9" y="42.8">29</text><text x="52.8" y="50.3">29</text><text x="58.0" y="46.2">29</text><text x="52.8" y="44.7">29</text><text x="47.6" y="44.3">29</text><text x="47.6" y="46.9">29</text><text x="55.3" y="46.4">29</text><text x="53.4" y="45.2">29</text><text x="61.5" y="45.3">29</text><text x="56.9" y="46.7">29</text><text x="53.6" y="48.3">29</text><text x="57.8" y="47.8">29</text><text x="56.5" y="47.8">29</text><text x="52.9" y="48.7">29</text><text x="50.4" y="44.6">29</text><text x="53.5" y="42.3">29</text><text x="50.5" y="42.9">29</text><text x="55.3" y="45.4">29</text><text x="43.8" y="45.8">29</text><text x="57.4" y="44.3">29</text><text x="52.8" y="40.5">29</text><text x="45.2" y="48.0">29</text><text x="49.6" y="43.7">29</text><text x="59.2" y="46.7">29</text><text x="60.1" y="42.9">29</text><text x="47.5" y="44.0">29</text><text x="60.0" y="46.0">29</text><text x="51.3" y="46.3">29</text><text x="49.7" y="44.8">29</text><text x="50.5" y="45.0">29</text><text x="61.0" y="46.1">29</text><text x="53.4" y="44.8">29</text><text x="53.4" y="47.4">29</text><text x="52.0" y="46.1">29</text><text x="56.4" y="46.6">29</text><text x="50.6" y="43.5">29</text><text x="59.2" y="46.3">29</text><text x="55.9" y="45.4">29</text><text x="61.9" y="44.0">29</text><text x="54.7" y="45.7">29</text><text x="43.7" y="44.9">29</text><text x="51.3" y="48.0">29</text><text x="56.9" y="44.9">29</text><text x="52.1" y="43.6">29</text><text x="51.3" y="45.2">29</text><text x="55.3" y="45.5">29</text><text x="51.3" y="44.3">29</text><text x="52.8" y="44.4">29</text><text x="54.8" y="49.1">29</text><text x="57.4" y="45.5">29</text><text x="58.4" y="50.9">29</text><text x="52.2" y="44.5">29</text><text x="54.7" y="44.6">29</text><text x="57.0" y="43.6">29</text><text x="60.3" y="44.1">29</text><text x="56.5" y="48.7">29</text><text x="58.3" y="43.0">29</text><text x="49.7" y="43.6">29</text><text x="58.4" y="45.3">29</text><text x="51.3" y="43.4">29</text><text x="54.8" y="46.9">29</text><text x="49.6" y="47.0">29</text><text x="55.4" y="47.1">29</text><text x="52.2" y="47.6">29</text><text x="57.4" y="45.8">29</text><text x="52.9" y="42.7">29</text><text x="53.5" y="45.1">29</text><text x="46.5" y="45.0">29</text><text x="52.9" y="43.3">29</text><text x="53.8" y="37.6">29</text><text x="40.1" y="50.3">29</text><text x="42.1" y="48.4">29</text><text x="45.0" y="52.0">29</text><text x="50.3" y="52.0">29</text><text x="46.3" y="50.3">29</text><text x="57.8" y="34.8">29</text><text x="54.1" y="37.6">29</text><text x="63.4" y="39.7">29</text><text x="60.5" y="39.7">29</text><text x="61.4" y="41.6">29</text><text x="62.8" y="42.7">29</text><text x="61.4" y="44.2">29</text><text x="68.1" y="45.0">29</text><text x="69.8" y="44.9">29</text><text x="72.5" y="47.3">29</text><text x="66.1" y="49.7">29</text><text x="69.3" y="49.7">29</text><text x="63.1" y="48.4">29</text><text x="57.3" y="52.2">29</text><text x="57.6" y="50.3">29</text><text x="68.6" y="45.0">29</text><text x="61.0" y="48.4">29</text><text x="62.0" y="48.8">29</text></g><g fill="#AFEEEE" stroke="#AFEEEE"><text x="67.9" y="57.9">31</text><text x="72.6" y="59.2">31</text><text x="76.0" y="58.7">31</text><text x="65.2" y="51.7">31</text><text x="75.4" y="49.3">31</text><text x="94.9" y="49.3">31</text><text x="94.2" y="55.7">31</text><text x="71.3" y="55.7">31</text></g><g fill="#EE82EE" stroke="#EE82EE"><text x="74.1" y="53.4">32</text><text x="67.5" y="53.7">32</text><text x="71.9" y="53.0">32</text><text x="70.3" y="51.4">32</text><text x="71.0" y="50.2">32</text><text x="77.1" y="50.8">32</text><text x="78.9" y="49.5">32</text><text x="66.3" y="50.9">32</text><text x="68.3" y="48.0">32</text><text x="69.3" y="54.4">32</text><text x="72.0" y="54.3">32</text><text x="79.4" y="54.7">32</text><text x="71.4" y="52.6">32</text><text x="75.9" y="53.4">32</text><text x="74.4" y="55.0">32</text><text x="77.9" y="55.3">32</text><text x="75.7" y="54.3">32</text><text x="69.9" y="52.8">32</text><text x="72.2" y="55.2">32</text><text x="74.5" y="52.0">32</text><text x="70.3" y="56.0">32</text><text x="69.6" y="56.1">32</text><text x="71.9" y="50.1">32</text><text x="69.0" y="51.2">32</text><text x="68.2" y="51.8">32</text><text x="70.1" y="52.6">32</text><text x="65.9" y="51.4">32</text><text x="69.9" y="52.0">32</text><text x="74.2" y="56.2">32</text><text x="73.1" y="55.3">32</text><text x="68.6" y="56.4">32</text><text x="71.3" y="56.5">32</text><text x="73.0" y="55.5">32</text><text x="72.5" y="58.1">32</text><text x="71.5" y="52.0">32</text><text x="73.4" y="54.4">32</text><text x="72.8" y="54.0">32</text><text x="78.9" y="50.5">32</text><text x="67.3" y="51.5">32</text><text x="77.5" y="52.6">32</text><text x="70.1" y="53.9">32</text><text x="66.9" y="55.2">32</text><text x="74.3" y="52.4">32</text><text x="75.9" y="53.4">32</text><text x="74.3" y="56.8">32</text><text x="72.3" y="52.6">32</text><text x="74.9" y="50.6">32</text><text x="67.5" y="47.7">32</text><text x="77.0" y="54.2">32</text><text x="74.1" y="53.8">32</text><text x="68.3" y="55.8">32</text><text x="77.1" y="57.6">32</text><text x="75.4" y="51.3">32</text><text x="77.4" y="50.9">32</text><text x="74.9" y="52.0">32</text><text x="91.0" y="52.6">32</text><text x="96.7" y="55.2">32</text><text x="90.5" y="53.8">32</text><text x="91.5" y="52.8">32</text><text x="95.3" y="55.1">32</text><text x="95.3" y="52.9">32</text><text x="91.0" y="54.8">32</text><text x="88.3" y="55.1">32</text><text x="90.7" y="52.2">32</text><text x="90.7" y="55.7">32</text><text x="90.9" y="53.4">32</text><text x="88.4" y="53.6">32</text><text x="88.2" y="52.2">32</text><text x="93.8" y="55.2">32</text><text x="91.3" y="55.8">32</text><text x="92.3" y="54.0">32</text><text x="92.1" y="55.6">32</text><text x="92.4" y="53.7">32</text><text x="73.7" y="44.4">32</text><text x="84.4" y="49.5">32</text><text x="60.7" y="58.3">32</text><text x="69.6" y="62.3">32</text><text x="84.0" y="59.6">32</text><text x="106.2" y="57.0">32</text><text x="102.7" y="43.2">32</text><text x="83.2" y="54.6">32</text><text x="77.7" y="58.7">32</text><text x="95.3" y="52.9">32</text><text x="97.0" y="54.3">32</text><text x="99.0" y="52.2">32</text><text x="101.0" y="51.5">32</text><text x="99.8" y="47.9">32</text><text x="98.2" y="49.4">32</text><text x="101.0" y="45.8">32</text><text x="102.2" y="44.4">32</text><text x="97.4" y="46.5">32</text><text x="96.2" y="48.6">32</text><text x="99.0" y="53.9">32</text><text x="103.0" y="54.6">32</text><text x="104.2" y="54.6">32</text><text x="91.7" y="52.2">32</text><text x="93.3" y="50.4">32</text><text x="90.1" y="53.9">32</text></g></g><g class="ax"><rect x="22.50" y="8.00" width="122.0" height="63.0" fill="none" stroke="#5a5a5a" stroke-width="1.25"/>
<text transform="translate(83.50,5.50) scale(1,1.12)" text-anchor="middle" font-weight="bold" font-size="5.65">A All cancers bicor=-0.33, p=8.4e-74</text>
<text transform="translate(83.50,92.50) scale(1,1.15)" text-anchor="middle" font-size="5.65">Log10(No. of mutations)</text>
<text transform="translate(5.50,39.50) rotate(-90) scale(1,1.07)" text-anchor="middle" font-size="5.65">Age Acceleration</text>
<line x1="46.45" y1="71.00" x2="46.45" y2="74.20" stroke="#444" stroke-width="0.9"/>
<text transform="translate(46.45,81.90) scale(1,1.15)" text-anchor="middle" font-size="5.65">1</text>
<line x1="74.07" y1="71.00" x2="74.07" y2="74.20" stroke="#444" stroke-width="0.9"/>
<text transform="translate(74.07,81.90) scale(1,1.15)" text-anchor="middle" font-size="5.65">2</text>
<line x1="101.68" y1="71.00" x2="101.68" y2="74.20" stroke="#444" stroke-width="0.9"/>
<text transform="translate(101.68,81.90) scale(1,1.15)" text-anchor="middle" font-size="5.65">3</text>
<line x1="129.30" y1="71.00" x2="129.30" y2="74.20" stroke="#444" stroke-width="0.9"/>
<text transform="translate(129.30,81.90) scale(1,1.15)" text-anchor="middle" font-size="5.65">4</text>
<line x1="19.30" y1="61.72" x2="22.50" y2="61.72" stroke="#444" stroke-width="0.9"/>
<text transform="translate(16.90,61.72) rotate(-90) scale(1,1.15)" text-anchor="middle" font-size="5.65">-50</text>
<line x1="19.30" y1="51.30" x2="22.50" y2="51.30" stroke="#444" stroke-width="0.9"/>
<text transform="translate(16.90,51.30) rotate(-90) scale(1,1.15)" text-anchor="middle" font-size="5.65">0</text>
<line x1="19.30" y1="40.88" x2="22.50" y2="40.88" stroke="#444" stroke-width="0.9"/>
<text transform="translate(16.90,40.88) rotate(-90) scale(1,1.15)" text-anchor="middle" font-size="5.65">50</text>
<line x1="19.30" y1="30.45" x2="22.50" y2="30.45" stroke="#444" stroke-width="0.9"/>
<line x1="19.30" y1="20.03" x2="22.50" y2="20.03" stroke="#444" stroke-width="0.9"/>
<text transform="translate(16.90,20.03) rotate(-90) scale(1,1.15)" text-anchor="middle" font-size="5.65">150</text>
<line x1="19.30" y1="9.60" x2="22.50" y2="9.60" stroke="#444" stroke-width="0.9"/>
<line x1="93" y1="71.00" x2="110" y2="71.00" stroke="#6060E0" stroke-width="0.8"/></g>
<g font-size="4.7" text-anchor="middle" stroke-width="0.22" transform="scale(1,1.12)"><g fill="#40E0D0" stroke="#40E0D0"><text x="176.7" y="48.4">1</text><text x="194.4" y="57.9">1</text><text x="199.2" y="47.8">1</text><text x="202.8" y="37.4">1</text><text x="204.9" y="21.7">1</text><text x="205.4" y="37.0">1</text><text x="206.1" y="37.4">1</text><text x="204.9" y="49.4">1</text><text x="206.3" y="51.6">1</text><text x="208.6" y="45.0">1</text><text x="208.6" y="48.9">1</text><text x="213.4" y="39.0">1</text><text x="222.8" y="62.0">1</text><text x="225.4" y="18.4">1</text><text x="227.0" y="50.9">1</text><text x="232.9" y="42.5">1</text><text x="238.7" y="45.8">1</text><text x="239.1" y="47.4">1</text><text x="234.7" y="55.7">1</text><text x="237.8" y="53.2">1</text><text x="249.4" y="35.1">1</text><text x="250.6" y="45.8">1</text><text x="253.6" y="41.8">1</text><text x="257.7" y="33.1">1</text><text x="255.4" y="54.2">1</text><text x="276.6" y="41.5">1</text><text x="288.7" y="40.5">1</text><text x="289.6" y="41.5">1</text></g></g><g class="ax"><rect x="172.10" y="8.00" width="122.0" height="63.0" fill="none" stroke="#5a5a5a" stroke-width="1.25"/>
<text transform="translate(233.10,5.50) scale(1,1.12)" text-anchor="middle" font-weight="bold" font-size="5.65">B Bladder bicor=0.13, p=0.51</text>
<text transform="translate(233.10,92.50) scale(1,1.15)" text-anchor="middle" font-size="5.65">Log10(No. of mutations)</text>
<text transform="translate(155.10,39.50) rotate(-90) scale(1,1.07)" text-anchor="middle" font-size="5.65">Age Acceleration</text>
<line x1="190.50" y1="71.00" x2="190.50" y2="74.20" stroke="#444" stroke-width="0.9"/>
<text transform="translate(190.50,81.90) scale(1,1.15)" text-anchor="middle" font-size="5.65">2.0</text>
<line x1="212.50" y1="71.00" x2="212.50" y2="74.20" stroke="#444" stroke-width="0.9"/>
<text transform="translate(212.50,81.90) scale(1,1.15)" text-anchor="middle" font-size="5.65">2.2</text>
<line x1="234.50" y1="71.00" x2="234.50" y2="74.20" stroke="#444" stroke-width="0.9"/>
<text transform="translate(234.50,81.90) scale(1,1.15)" text-anchor="middle" font-size="5.65">2.4</text>
<line x1="256.50" y1="71.00" x2="256.50" y2="74.20" stroke="#444" stroke-width="0.9"/>
<text transform="translate(256.50,81.90) scale(1,1.15)" text-anchor="middle" font-size="5.65">2.6</text>
<line x1="278.50" y1="71.00" x2="278.50" y2="74.20" stroke="#444" stroke-width="0.9"/>
<text transform="translate(278.50,81.90) scale(1,1.15)" text-anchor="middle" font-size="5.65">2.8</text>
<line x1="168.90" y1="68.00" x2="172.10" y2="68.00" stroke="#444" stroke-width="0.9"/>
<text transform="translate(166.50,68.00) rotate(-90) scale(1,1.15)" text-anchor="middle" font-size="5.65">-60</text>
<line x1="168.90" y1="58.07" x2="172.10" y2="58.07" stroke="#444" stroke-width="0.9"/>
<line x1="168.90" y1="48.13" x2="172.10" y2="48.13" stroke="#444" stroke-width="0.9"/>
<text transform="translate(166.50,48.13) rotate(-90) scale(1,1.15)" text-anchor="middle" font-size="5.65">-20</text>
<line x1="168.90" y1="38.20" x2="172.10" y2="38.20" stroke="#444" stroke-width="0.9"/>
<line x1="168.90" y1="28.27" x2="172.10" y2="28.27" stroke="#444" stroke-width="0.9"/>
<text transform="translate(166.50,28.27) rotate(-90) scale(1,1.15)" text-anchor="middle" font-size="5.65">20</text>
<line x1="168.90" y1="18.33" x2="172.10" y2="18.33" stroke="#444" stroke-width="0.9"/>
<line x1="168.90" y1="8.40" x2="172.10" y2="8.40" stroke="#444" stroke-width="0.9"/>
<text transform="translate(166.50,8.40) rotate(-90) scale(1,1.15)" text-anchor="middle" font-size="5.65">60</text></g>
<g font-size="4.7" text-anchor="middle" stroke-width="0.22" transform="scale(1,1.12)"><g fill="#3030B0" stroke="#3030B0"><text x="325.6" y="40.2">2</text><text x="325.6" y="42.5">2</text><text x="325.6" y="45.0">2</text><text x="325.6" y="49.4">2</text><text x="325.6" y="52.9">2</text><text x="325.6" y="55.2">2</text><text x="325.6" y="57.3">2</text><text x="325.6" y="59.2">2</text><text x="339.8" y="43.3">2</text><text x="339.8" y="45.8">2</text><text x="339.8" y="48.4">2</text><text x="339.8" y="50.5">2</text><text x="339.8" y="52.9">2</text><text x="339.8" y="57.3">2</text><text x="349.8" y="35.5">2</text><text x="349.8" y="37.8">2</text><text x="349.8" y="41.0">2</text><text x="349.8" y="45.0">2</text><text x="349.8" y="47.4">2</text><text x="349.8" y="48.4">2</text><text x="349.8" y="50.5">2</text><text x="349.8" y="51.6">2</text><text x="349.8" y="52.9">2</text><text x="349.8" y="54.4">2</text><text x="357.6" y="43.1">2</text><text x="357.6" y="48.9">2</text><text x="363.6" y="32.0">2</text><text x="363.6" y="43.3">2</text><text x="363.6" y="45.8">2</text><text x="363.6" y="48.4">2</text><text x="363.6" y="50.0">2</text><text x="363.6" y="58.4">2</text><text x="369.3" y="13.3">2</text><text x="369.3" y="35.5">2</text><text x="369.3" y="41.0">2</text><text x="369.3" y="49.7">2</text><text x="369.3" y="52.1">2</text><text x="369.3" y="54.4">2</text><text x="369.3" y="56.0">2</text><text x="373.8" y="48.9">2</text><text x="373.8" y="52.1">2</text><text x="373.8" y="54.4">2</text><text x="373.8" y="56.8">2</text><text x="373.8" y="60.0">2</text><text x="378.3" y="45.8">2</text><text x="378.3" y="48.1">2</text><text x="378.3" y="50.5">2</text><text x="378.3" y="53.6">2</text><text x="382.0" y="45.0">2</text><text x="382.0" y="47.4">2</text><text x="382.0" y="49.7">2</text><text x="382.0" y="52.1">2</text><text x="382.0" y="54.4">2</text><text x="382.0" y="56.8">2</text><text x="412.1" y="10.9">2</text><text x="438.7" y="17.7">2</text><text x="403.6" y="30.4">2</text><text x="418.3" y="30.4">2</text><text x="426.3" y="30.4">2</text><text x="400.2" y="33.9">2</text><text x="401.8" y="37.8">2</text><text x="427.2" y="41.8">2</text><text x="419.5" y="48.4">2</text><text x="421.3" y="54.8">2</text><text x="418.3" y="57.9">2</text><text x="410.3" y="63.2">2</text><text x="413.9" y="59.2">2</text><text x="414.8" y="41.5">2</text><text x="409.4" y="40.2">2</text><text x="398.4" y="52.1">2</text><text x="395.8" y="57.4">2</text><text x="393.3" y="50.2">2</text><text x="381.7" y="54.9">2</text><text x="388.5" y="49.7">2</text><text x="413.6" y="48.1">2</text><text x="398.3" y="53.8">2</text><text x="407.3" y="42.9">2</text><text x="414.7" y="50.3">2</text><text x="416.5" y="47.0">2</text><text x="402.2" y="54.2">2</text><text x="409.4" y="46.2">2</text><text x="400.4" y="59.2">2</text><text x="407.5" y="41.5">2</text><text x="404.3" y="48.5">2</text><text x="391.0" y="50.3">2</text><text x="395.7" y="60.8">2</text><text x="402.1" y="48.6">2</text><text x="390.9" y="50.8">2</text><text x="413.4" y="54.7">2</text><text x="398.4" y="52.5">2</text><text x="385.3" y="52.2">2</text><text x="381.6" y="47.8">2</text><text x="391.1" y="38.1">2</text><text x="410.6" y="52.8">2</text><text x="393.4" y="50.8">2</text><text x="405.7" y="50.7">2</text><text x="396.0" y="59.2">2</text><text x="400.3" y="51.7">2</text><text x="404.3" y="59.5">2</text><text x="409.2" y="55.9">2</text><text x="405.9" y="36.6">2</text><text x="400.0" y="48.6">2</text><text x="407.4" y="48.4">2</text><text x="381.7" y="43.5">2</text><text x="407.5" y="58.0">2</text><text x="404.0" y="48.6">2</text><text x="393.3" y="56.1">2</text><text x="390.9" y="42.3">2</text><text x="393.7" y="53.1">2</text><text x="388.2" y="46.7">2</text><text x="409.3" y="50.0">2</text><text x="395.9" y="51.2">2</text><text x="396.1" y="49.2">2</text><text x="385.2" y="50.7">2</text><text x="413.7" y="51.5">2</text><text x="402.2" y="59.9">2</text><text x="391.1" y="53.1">2</text><text x="398.3" y="54.0">2</text><text x="409.0" y="43.8">2</text><text x="415.2" y="53.1">2</text><text x="395.8" y="52.0">2</text><text x="395.8" y="61.7">2</text><text x="407.5" y="50.7">2</text><text x="400.1" y="40.6">2</text><text x="398.1" y="50.9">2</text><text x="402.0" y="54.2">2</text><text x="406.0" y="40.8">2</text><text x="417.5" y="53.3">2</text><text x="396.0" y="42.9">2</text><text x="393.5" y="40.9">2</text><text x="395.7" y="43.5">2</text><text x="396.1" y="55.0">2</text><text x="407.3" y="45.1">2</text><text x="382.0" y="60.8">2</text><text x="410.5" y="52.4">2</text><text x="390.8" y="62.0">2</text><text x="395.7" y="50.8">2</text><text x="404.0" y="50.8">2</text><text x="407.5" y="49.7">2</text><text x="409.0" y="55.8">2</text><text x="400.4" y="56.0">2</text><text x="405.8" y="58.7">2</text><text x="398.4" y="58.1">2</text><text x="388.5" y="49.3">2</text><text x="393.7" y="52.3">2</text><text x="398.0" y="53.9">2</text><text x="393.4" y="50.5">2</text><text x="402.1" y="45.1">2</text><text x="410.9" y="43.3">2</text><text x="391.2" y="54.2">2</text><text x="395.7" y="63.4">2</text><text x="381.8" y="44.0">2</text><text x="407.6" y="55.3">2</text><text x="404.0" y="48.1">2</text><text x="396.1" y="57.7">2</text><text x="396.0" y="44.3">2</text><text x="388.4" y="46.2">2</text><text x="402.5" y="50.2">2</text><text x="391.1" y="57.8">2</text><text x="400.1" y="47.3">2</text><text x="395.7" y="52.9">2</text><text x="388.3" y="59.7">2</text><text x="400.5" y="52.9">2</text><text x="388.0" y="47.5">2</text><text x="393.4" y="53.2">2</text><text x="409.3" y="44.3">2</text><text x="407.8" y="54.7">2</text><text x="382.2" y="43.9">2</text><text x="398.3" y="61.2">2</text><text x="396.2" y="55.2">2</text><text x="407.7" y="50.4">2</text><text x="398.1" y="57.1">2</text><text x="395.9" y="53.4">2</text><text x="385.0" y="43.7">2</text><text x="381.7" y="44.5">2</text><text x="406.0" y="52.0">2</text><text x="407.5" y="48.4">2</text><text x="390.7" y="47.7">2</text><text x="400.3" y="60.1">2</text><text x="390.8" y="56.8">2</text><text x="400.4" y="45.6">2</text><text x="388.4" y="56.3">2</text><text x="407.3" y="51.8">2</text><text x="391.3" y="52.8">2</text><text x="410.8" y="55.6">2</text><text x="382.1" y="50.5">2</text><text x="404.0" y="61.0">2</text><text x="404.3" y="52.0">2</text><text x="402.4" y="53.3">2</text><text x="407.7" y="51.7">2</text><text x="388.5" y="44.6">2</text><text x="407.5" y="50.8">2</text><text x="404.1" y="52.1">2</text><text x="393.3" y="48.1">2</text><text x="391.0" y="43.1">2</text><text x="404.0" y="54.9">2</text><text x="412.0" y="40.3">2</text><text x="417.8" y="46.3">2</text><text x="402.5" y="52.7">2</text><text x="402.2" y="50.4">2</text><text x="398.5" y="48.1">2</text><text x="385.2" y="59.9">2</text><text x="409.4" y="62.9">2</text><text x="402.2" y="56.9">2</text></g></g><g class="ax"><rect x="321.70" y="8.00" width="122.0" height="63.0" fill="none" stroke="#5a5a5a" stroke-width="1.25"/>
<text transform="translate(382.70,5.50) scale(1,1.12)" text-anchor="middle" font-weight="bold" font-size="5.65">C BoneMarrow bicor=-0.14, p=0.053</text>
<text transform="translate(382.70,92.50) scale(1,1.15)" text-anchor="middle" font-size="5.65">Log10(No. of mutations)</text>
<text transform="translate(304.70,39.50) rotate(-90) scale(1,1.07)" text-anchor="middle" font-size="5.65">Age Acceleration</text>
<line x1="334.00" y1="71.00" x2="334.00" y2="74.20" stroke="#444" stroke-width="0.9"/>
<text transform="translate(334.00,81.90) scale(1,1.15)" text-anchor="middle" font-size="5.65">0.4</text>
<line x1="349.97" y1="71.00" x2="349.97" y2="74.20" stroke="#444" stroke-width="0.9"/>
<text transform="translate(349.97,81.90) scale(1,1.15)" text-anchor="middle" font-size="5.65">0.6</text>
<line x1="365.93" y1="71.00" x2="365.93" y2="74.20" stroke="#444" stroke-width="0.9"/>
<text transform="translate(365.93,81.90) scale(1,1.15)" text-anchor="middle" font-size="5.65">0.8</text>
<line x1="381.90" y1="71.00" x2="381.90" y2="74.20" stroke="#444" stroke-width="0.9"/>
<text transform="translate(381.90,81.90) scale(1,1.15)" text-anchor="middle" font-size="5.65">1.0</text>
<line x1="397.87" y1="71.00" x2="397.87" y2="74.20" stroke="#444" stroke-width="0.9"/>
<text transform="translate(397.87,81.90) scale(1,1.15)" text-anchor="middle" font-size="5.65">1.2</text>
<line x1="413.83" y1="71.00" x2="413.83" y2="74.20" stroke="#444" stroke-width="0.9"/>
<text transform="translate(413.83,81.90) scale(1,1.15)" text-anchor="middle" font-size="5.65">1.4</text>
<line x1="429.80" y1="71.00" x2="429.80" y2="74.20" stroke="#444" stroke-width="0.9"/>
<text transform="translate(429.80,81.90) scale(1,1.15)" text-anchor="middle" font-size="5.65">1.6</text>
<line x1="318.50" y1="70.65" x2="321.70" y2="70.65" stroke="#444" stroke-width="0.9"/>
<text transform="translate(316.10,70.65) rotate(-90) scale(1,1.15)" text-anchor="middle" font-size="5.65">-50</text>
<line x1="318.50" y1="58.40" x2="321.70" y2="58.40" stroke="#444" stroke-width="0.9"/>
<text transform="translate(316.10,58.40) rotate(-90) scale(1,1.15)" text-anchor="middle" font-size="5.65">0</text>
<line x1="318.50" y1="46.15" x2="321.70" y2="46.15" stroke="#444" stroke-width="0.9"/>
<text transform="translate(316.10,46.15) rotate(-90) scale(1,1.15)" text-anchor="middle" font-size="5.65">50</text>
<line x1="318.50" y1="33.90" x2="321.70" y2="33.90" stroke="#444" stroke-width="0.9"/>
<text transform="translate(316.10,33.90) rotate(-90) scale(1,1.15)" text-anchor="middle" font-size="5.65">100</text>
<line x1="318.50" y1="21.65" x2="321.70" y2="21.65" stroke="#444" stroke-width="0.9"/>
<line x1="318.50" y1="9.40" x2="321.70" y2="9.40" stroke="#444" stroke-width="0.9"/>
<text transform="translate(316.10,9.40) rotate(-90) scale(1,1.15)" text-anchor="middle" font-size="5.65">200</text>
<line x1="323" y1="71.00" x2="444" y2="71.00" stroke="#4848D0" stroke-width="1.0"/></g>
<g font-size="4.7" text-anchor="middle" stroke-width="0.22" transform="scale(1,1.12)"><g fill="#FAB4C4" stroke="#FAB4C4"><text x="546.3" y="48.9">8</text><text x="525.8" y="42.2">8</text><text x="517.5" y="38.4">8</text><text x="556.2" y="39.4">8</text><text x="522.8" y="32.1">8</text><text x="534.1" y="44.9">8</text><text x="517.8" y="39.4">8</text><text x="524.2" y="39.2">8</text></g><g fill="#333333" stroke="#333333"><text x="545.5" y="48.4">7</text><text x="538.5" y="50.2">7</text></g><g fill="#FAB4C4" stroke="#FAB4C4"><text x="518.3" y="46.5">8</text><text x="588.3" y="36.3">8</text><text x="510.9" y="41.8">8</text><text x="535.4" y="41.6">8</text><text x="527.1" y="52.5">8</text><text x="550.3" y="53.9">8</text><text x="536.7" y="42.3">8</text></g><g fill="#333333" stroke="#333333"><text x="547.8" y="45.7">7</text></g><g fill="#FAB4C4" stroke="#FAB4C4"><text x="528.8" y="48.4">8</text><text x="509.9" y="44.0">8</text></g><g fill="#333333" stroke="#333333"><text x="570.1" y="63.2">7</text></g><g fill="#FAB4C4" stroke="#FAB4C4"><text x="480.6" y="42.5">8</text><text x="547.9" y="18.4">8</text><text x="509.9" y="44.7">8</text><text x="538.3" y="38.8">8</text><text x="517.0" y="50.2">8</text><text x="540.4" y="43.5">8</text></g><g fill="#333333" stroke="#333333"><text x="527.6" y="54.4">7</text></g><g fill="#FAB4C4" stroke="#FAB4C4"><text x="578.4" y="49.7">8</text><text x="516.1" y="54.0">8</text><text x="532.5" y="44.8">8</text></g><g fill="#333333" stroke="#333333"><text x="539.0" y="36.9">7</text></g><g fill="#FAB4C4" stroke="#FAB4C4"><text x="537.2" y="37.2">8</text><text x="530.2" y="43.6">8</text><text x="520.0" y="41.9">8</text><text x="509.5" y="34.0">8</text><text x="537.1" y="44.8">8</text><text x="537.2" y="40.5">8</text><text x="521.4" y="42.2">8</text></g><g fill="#333333" stroke="#333333"><text x="537.5" y="37.6">7</text></g><g fill="#FAB4C4" stroke="#FAB4C4"><text x="543.7" y="49.5">8</text><text x="514.9" y="51.3">8</text><text x="540.8" y="47.5">8</text></g><g fill="#333333" stroke="#333333"><text x="519.7" y="49.4">7</text></g><g fill="#FAB4C4" stroke="#FAB4C4"><text x="542.7" y="50.3">8</text><text x="523.3" y="41.0">8</text><text x="534.9" y="55.0">8</text><text x="522.2" y="60.0">8</text><text x="529.9" y="42.0">8</text><text x="549.0" y="39.4">8</text><text x="558.5" y="39.3">8</text><text x="559.9" y="45.3">8</text><text x="543.5" y="35.7">8</text><text x="537.5" y="46.1">8</text><text x="504.7" y="52.5">8</text><text x="538.6" y="39.5">8</text><text x="532.1" y="40.6">8</text></g><g fill="#333333" stroke="#333333"><text x="523.1" y="29.2">7</text></g><g fill="#FAB4C4" stroke="#FAB4C4"><text x="529.4" y="37.4">8</text><text x="521.4" y="52.0">8</text></g><g fill="#333333" stroke="#333333"><text x="500.6" y="37.6">7</text></g><g fill="#FAB4C4" stroke="#FAB4C4"><text x="519.2" y="36.8">8</text></g><g fill="#333333" stroke="#333333"><text x="546.6" y="46.5">7</text></g><g fill="#FAB4C4" stroke="#FAB4C4"><text x="523.0" y="49.8">8</text><text x="540.2" y="56.2">8</text><text x="539.8" y="48.7">8</text></g><g fill="#333333" stroke="#333333"><text x="511.8" y="42.4">7</text></g><g fill="#FAB4C4" stroke="#FAB4C4"><text x="532.1" y="43.4">8</text><text x="511.8" y="33.1">8</text><text x="511.9" y="46.6">8</text><text x="515.9" y="51.3">8</text><text x="561.4" y="39.7">8</text><text x="509.2" y="48.1">8</text></g><g fill="#333333" stroke="#333333"><text x="532.2" y="47.2">7</text></g><g fill="#FAB4C4" stroke="#FAB4C4"><text x="538.9" y="47.9">8</text><text x="534.7" y="38.2">8</text><text x="528.7" y="40.2">8</text><text x="515.0" y="46.0">8</text><text x="520.1" y="30.4">8</text></g><g fill="#333333" stroke="#333333"><text x="570.1" y="55.2">7</text></g><g fill="#FAB4C4" stroke="#FAB4C4"><text x="534.2" y="48.2">8</text><text x="540.1" y="46.7">8</text><text x="524.2" y="43.6">8</text></g><g fill="#333333" stroke="#333333"><text x="528.1" y="21.6">7</text><text x="535.4" y="50.2">7</text></g><g fill="#FAB4C4" stroke="#FAB4C4"><text x="570.1" y="47.4">8</text></g><g fill="#333333" stroke="#333333"><text x="538.8" y="41.0">7</text><text x="526.7" y="39.1">7</text></g><g fill="#FAB4C4" stroke="#FAB4C4"><text x="527.8" y="44.4">8</text></g><g fill="#333333" stroke="#333333"><text x="500.5" y="38.4">7</text></g><g fill="#FAB4C4" stroke="#FAB4C4"><text x="475.0" y="46.8">8</text><text x="531.6" y="43.5">8</text><text x="565.8" y="51.9">8</text><text x="534.1" y="46.2">8</text><text x="518.0" y="39.0">8</text><text x="514.4" y="47.5">8</text><text x="536.0" y="42.2">8</text></g><g fill="#333333" stroke="#333333"><text x="538.2" y="59.2">7</text></g><g fill="#FAB4C4" stroke="#FAB4C4"><text x="541.0" y="53.0">8</text></g><g fill="#333333" stroke="#333333"><text x="511.6" y="30.0">7</text><text x="533.7" y="47.1">7</text></g><g fill="#FAB4C4" stroke="#FAB4C4"><text x="535.2" y="51.7">8</text><text x="525.5" y="53.8">8</text><text x="520.1" y="41.0">8</text><text x="548.3" y="44.0">8</text><text x="530.0" y="48.5">8</text><text x="517.9" y="28.2">8</text><text x="525.8" y="40.7">8</text><text x="553.9" y="48.5">8</text><text x="538.6" y="33.0">8</text><text x="541.3" y="42.3">8</text><text x="513.8" y="38.7">8</text><text x="546.0" y="40.2">8</text><text x="520.0" y="43.2">8</text><text x="510.8" y="42.5">8</text><text x="529.4" y="34.5">8</text><text x="524.8" y="43.6">8</text><text x="524.0" y="42.3">8</text><text x="505.4" y="30.4">8</text><text x="519.9" y="49.9">8</text><text x="533.3" y="44.5">8</text></g><g fill="#333333" stroke="#333333"><text x="529.3" y="37.7">7</text></g><g fill="#FAB4C4" stroke="#FAB4C4"><text x="522.5" y="46.2">8</text><text x="550.3" y="54.3">8</text><text x="521.2" y="47.7">8</text><text x="544.0" y="52.1">8</text><text x="531.2" y="37.6">8</text></g><g fill="#333333" stroke="#333333"><text x="518.5" y="40.2">7</text></g><g fill="#FAB4C4" stroke="#FAB4C4"><text x="524.7" y="45.5">8</text><text x="523.4" y="41.9">8</text><text x="521.1" y="38.9">8</text></g><g fill="#333333" stroke="#333333"><text x="568.8" y="45.0">7</text></g><g fill="#FAB4C4" stroke="#FAB4C4"><text x="533.2" y="47.8">8</text></g><g fill="#333333" stroke="#333333"><text x="513.9" y="29.2">7</text></g><g fill="#FAB4C4" stroke="#FAB4C4"><text x="523.9" y="41.6">8</text><text x="531.6" y="44.0">8</text><text x="542.2" y="39.3">8</text><text x="533.6" y="37.4">8</text></g><g fill="#333333" stroke="#333333"><text x="564.2" y="53.6">7</text></g><g fill="#FAB4C4" stroke="#FAB4C4"><text x="518.4" y="45.4">8</text><text x="516.9" y="41.7">8</text><text x="507.2" y="42.3">8</text><text x="518.3" y="41.7">8</text></g><g fill="#333333" stroke="#333333"><text x="531.1" y="57.3">7</text></g><g fill="#FAB4C4" stroke="#FAB4C4"><text x="546.9" y="44.4">8</text><text x="526.2" y="40.6">8</text></g><g fill="#333333" stroke="#333333"><text x="523.5" y="38.6">7</text><text x="536.4" y="31.5">7</text></g><g fill="#FAB4C4" stroke="#FAB4C4"><text x="545.2" y="38.6">8</text></g><g fill="#333333" stroke="#333333"><text x="521.4" y="15.0">7</text></g><g fill="#FAB4C4" stroke="#FAB4C4"><text x="524.3" y="45.4">8</text><text x="546.5" y="58.7">8</text></g><g fill="#333333" stroke="#333333"><text x="524.0" y="35.8">7</text><text x="521.7" y="49.7">7</text></g><g fill="#FAB4C4" stroke="#FAB4C4"><text x="551.5" y="46.4">8</text><text x="525.8" y="41.3">8</text><text x="527.6" y="39.4">8</text></g><g fill="#333333" stroke="#333333"><text x="538.9" y="42.2">7</text></g><g fill="#FAB4C4" stroke="#FAB4C4"><text x="546.1" y="41.9">8</text><text x="541.2" y="41.6">8</text></g><g fill="#333333" stroke="#333333"><text x="574.9" y="37.0">7</text></g><g fill="#FAB4C4" stroke="#FAB4C4"><text x="530.9" y="42.6">8</text><text x="549.1" y="34.4">8</text><text x="538.7" y="23.6">8</text><text x="547.1" y="46.2">8</text><text x="517.3" y="46.3">8</text><text x="539.7" y="43.2">8</text><text x="531.3" y="46.2">8</text><text x="551.1" y="22.0">8</text><text x="539.6" y="46.1">8</text><text x="533.0" y="46.1">8</text><text x="529.5" y="35.3">8</text><text x="539.0" y="41.6">8</text><text x="499.7" y="47.4">8</text></g><g fill="#333333" stroke="#333333"><text x="551.5" y="43.3">7</text><text x="547.9" y="38.9">7</text></g><g fill="#FAB4C4" stroke="#FAB4C4"><text x="549.8" y="35.7">8</text><text x="514.1" y="41.8">8</text><text x="546.1" y="35.3">8</text><text x="543.5" y="47.4">8</text><text x="490.2" y="40.4">8</text><text x="544.5" y="46.4">8</text><text x="494.2" y="39.8">8</text><text x="525.9" y="29.0">8</text><text x="537.8" y="41.2">8</text><text x="519.4" y="40.4">8</text><text x="542.1" y="41.9">8</text><text x="514.5" y="34.6">8</text><text x="512.8" y="43.8">8</text><text x="538.9" y="36.4">8</text><text x="538.3" y="45.0">8</text><text x="533.9" y="35.6">8</text><text x="538.6" y="52.0">8</text><text x="540.0" y="47.4">8</text><text x="533.6" y="40.3">8</text><text x="554.9" y="38.7">8</text><text x="522.4" y="49.1">8</text><text x="511.3" y="36.3">8</text><text x="534.5" y="45.1">8</text><text x="528.5" y="40.2">8</text><text x="530.7" y="35.1">8</text><text x="541.5" y="42.5">8</text><text x="501.3" y="53.2">8</text><text x="531.2" y="53.9">8</text></g><g fill="#333333" stroke="#333333"><text x="536.0" y="42.0">7</text></g><g fill="#FAB4C4" stroke="#FAB4C4"><text x="508.0" y="54.5">8</text><text x="542.6" y="46.0">8</text><text x="538.6" y="39.4">8</text><text x="506.7" y="42.7">8</text></g><g fill="#333333" stroke="#333333"><text x="519.6" y="48.7">7</text></g><g fill="#FAB4C4" stroke="#FAB4C4"><text x="537.2" y="35.9">8</text><text x="531.8" y="37.4">8</text></g><g fill="#333333" stroke="#333333"><text x="567.1" y="36.3">7</text></g><g fill="#FAB4C4" stroke="#FAB4C4"><text x="557.8" y="44.7">8</text><text x="497.9" y="41.6">8</text><text x="557.9" y="44.0">8</text><text x="535.5" y="46.8">8</text></g><g fill="#333333" stroke="#333333"><text x="483.8" y="42.5">7</text></g><g fill="#FAB4C4" stroke="#FAB4C4"><text x="522.6" y="45.5">8</text><text x="534.3" y="34.4">8</text><text x="538.2" y="31.1">8</text><text x="551.9" y="37.1">8</text><text x="541.2" y="37.1">8</text></g><g fill="#333333" stroke="#333333"><text x="539.2" y="48.5">7</text></g><g fill="#FAB4C4" stroke="#FAB4C4"><text x="547.7" y="31.7">8</text><text x="537.5" y="47.5">8</text><text x="527.6" y="47.0">8</text></g><g fill="#333333" stroke="#333333"><text x="547.2" y="36.8">7</text><text x="506.3" y="36.3">7</text></g><g fill="#FAB4C4" stroke="#FAB4C4"><text x="528.3" y="45.7">8</text><text x="500.1" y="45.8">8</text><text x="504.2" y="46.4">8</text></g><g fill="#333333" stroke="#333333"><text x="546.5" y="49.4">7</text></g><g fill="#FAB4C4" stroke="#FAB4C4"><text x="497.2" y="54.5">8</text><text x="548.9" y="33.9">8</text></g><g fill="#333333" stroke="#333333"><text x="523.1" y="21.2">7</text><text x="530.3" y="54.3">7</text></g><g fill="#FAB4C4" stroke="#FAB4C4"><text x="542.6" y="44.0">8</text><text x="507.3" y="37.5">8</text><text x="515.9" y="52.6">8</text><text x="487.4" y="41.0">8</text></g><g fill="#333333" stroke="#333333"><text x="480.1" y="36.3">7</text></g><g fill="#FAB4C4" stroke="#FAB4C4"><text x="542.2" y="44.7">8</text><text x="528.1" y="37.0">8</text><text x="553.5" y="38.1">8</text><text x="522.9" y="45.2">8</text><text x="512.3" y="51.5">8</text><text x="523.3" y="35.7">8</text></g><g fill="#333333" stroke="#333333"><text x="531.7" y="42.2">7</text></g><g fill="#FAB4C4" stroke="#FAB4C4"><text x="509.4" y="47.4">8</text><text x="544.6" y="46.5">8</text><text x="532.4" y="41.8">8</text><text x="517.6" y="42.1">8</text><text x="583.4" y="43.3">8</text><text x="536.8" y="48.9">8</text><text x="518.8" y="40.9">8</text></g><g fill="#333333" stroke="#333333"><text x="558.4" y="45.7">7</text></g><g fill="#FAB4C4" stroke="#FAB4C4"><text x="539.7" y="38.1">8</text></g><g fill="#333333" stroke="#333333"><text x="532.4" y="45.1">7</text></g><g fill="#FAB4C4" stroke="#FAB4C4"><text x="535.3" y="41.5">8</text></g><g fill="#333333" stroke="#333333"><text x="533.8" y="30.4">7</text></g><g fill="#FAB4C4" stroke="#FAB4C4"><text x="546.9" y="33.7">8</text><text x="534.9" y="47.9">8</text><text x="506.6" y="51.3">8</text><text x="526.8" y="37.4">8</text><text x="546.6" y="45.6">8</text></g><g fill="#333333" stroke="#333333"><text x="520.0" y="41.1">7</text></g><g fill="#FAB4C4" stroke="#FAB4C4"><text x="529.4" y="43.7">8</text><text x="531.4" y="54.8">8</text><text x="535.9" y="38.4">8</text><text x="549.1" y="44.8">8</text></g><g fill="#333333" stroke="#333333"><text x="540.6" y="48.7">7</text></g><g fill="#FAB4C4" stroke="#FAB4C4"><text x="526.4" y="43.6">8</text><text x="527.8" y="44.8">8</text><text x="520.4" y="43.3">8</text></g><g fill="#333333" stroke="#333333"><text x="540.2" y="40.0">7</text><text x="506.3" y="49.4">7</text></g><g fill="#FAB4C4" stroke="#FAB4C4"><text x="536.9" y="47.2">8</text></g><g fill="#333333" stroke="#333333"><text x="531.0" y="48.1">7</text></g><g fill="#FAB4C4" stroke="#FAB4C4"><text x="523.1" y="48.0">8</text></g><g fill="#333333" stroke="#333333"><text x="534.0" y="38.7">7</text></g><g fill="#FAB4C4" stroke="#FAB4C4"><text x="543.1" y="45.8">8</text><text x="533.9" y="38.0">8</text><text x="557.5" y="41.5">8</text><text x="544.4" y="51.8">8</text><text x="517.7" y="43.8">8</text></g><g fill="#333333" stroke="#333333"><text x="549.7" y="27.3">7</text></g><g fill="#FAB4C4" stroke="#FAB4C4"><text x="551.2" y="43.5">8</text><text x="539.3" y="46.0">8</text></g><g fill="#333333" stroke="#333333"><text x="522.5" y="37.0">7</text></g><g fill="#FAB4C4" stroke="#FAB4C4"><text x="527.5" y="39.0">8</text><text x="521.7" y="46.7">8</text></g><g fill="#333333" stroke="#333333"><text x="531.1" y="24.1">7</text><text x="537.9" y="42.5">7</text></g><g fill="#FAB4C4" stroke="#FAB4C4"><text x="539.5" y="47.7">8</text><text x="535.1" y="44.1">8</text><text x="498.9" y="43.8">8</text><text x="555.6" y="42.0">8</text><text x="507.5" y="43.1">8</text><text x="504.1" y="41.7">8</text><text x="497.2" y="43.2">8</text><text x="536.9" y="28.0">8</text><text x="526.8" y="41.7">8</text><text x="527.6" y="44.7">8</text><text x="518.5" y="48.2">8</text><text x="549.7" y="51.0">8</text><text x="537.3" y="41.5">8</text></g><g fill="#333333" stroke="#333333"><text x="529.2" y="42.1">7</text><text x="579.8" y="39.4">7</text></g><g fill="#FAB4C4" stroke="#FAB4C4"><text x="526.4" y="47.3">8</text></g><g fill="#333333" stroke="#333333"><text x="480.1" y="38.6">7</text></g><g fill="#FAB4C4" stroke="#FAB4C4"><text x="533.1" y="40.0">8</text><text x="536.8" y="52.0">8</text><text x="544.0" y="43.3">8</text><text x="543.9" y="46.4">8</text><text x="548.3" y="41.5">8</text><text x="535.7" y="44.7">8</text><text x="545.3" y="36.9">8</text><text x="524.7" y="49.6">8</text><text x="514.7" y="39.0">8</text><text x="530.8" y="46.2">8</text><text x="511.1" y="45.3">8</text><text x="521.7" y="42.6">8</text><text x="513.7" y="33.7">8</text><text x="523.5" y="46.8">8</text></g><g fill="#333333" stroke="#333333"><text x="562.5" y="43.3">7</text></g><g fill="#FAB4C4" stroke="#FAB4C4"><text x="510.5" y="48.2">8</text><text x="529.3" y="48.7">8</text><text x="533.1" y="46.8">8</text><text x="531.8" y="48.1">8</text><text x="540.5" y="42.8">8</text><text x="523.4" y="45.0">8</text><text x="555.1" y="42.3">8</text><text x="524.1" y="42.7">8</text><text x="518.0" y="41.9">8</text><text x="547.7" y="39.4">8</text><text x="541.5" y="35.1">8</text><text x="551.2" y="38.2">8</text><text x="521.1" y="37.0">8</text></g><g fill="#333333" stroke="#333333"><text x="520.5" y="30.8">7</text></g><g fill="#FAB4C4" stroke="#FAB4C4"><text x="509.6" y="43.5">8</text><text x="522.7" y="44.7">8</text><text x="529.2" y="41.0">8</text><text x="520.0" y="46.3">8</text><text x="519.0" y="32.2">8</text><text x="531.5" y="34.5">8</text><text x="542.1" y="48.6">8</text></g><g fill="#333333" stroke="#333333"><text x="554.1" y="31.5">7</text></g><g fill="#FAB4C4" stroke="#FAB4C4"><text x="520.7" y="32.9">8</text></g><g fill="#333333" stroke="#333333"><text x="537.8" y="58.0">7</text></g><g fill="#FAB4C4" stroke="#FAB4C4"><text x="554.6" y="49.8">8</text><text x="542.5" y="49.9">8</text><text x="544.2" y="46.4">8</text><text x="531.6" y="54.0">8</text><text x="520.5" y="47.8">8</text></g><g fill="#333333" stroke="#333333"><text x="539.9" y="42.2">7</text></g><g fill="#FAB4C4" stroke="#FAB4C4"><text x="520.4" y="39.6">8</text><text x="522.1" y="45.4">8</text><text x="513.8" y="39.1">8</text><text x="521.3" y="50.0">8</text><text x="506.6" y="43.5">8</text></g><g fill="#333333" stroke="#333333"><text x="525.3" y="34.4">7</text></g><g fill="#FAB4C4" stroke="#FAB4C4"><text x="534.3" y="47.4">8</text></g><g fill="#333333" stroke="#333333"><text x="554.7" y="34.2">7</text></g><g fill="#FAB4C4" stroke="#FAB4C4"><text x="504.3" y="48.2">8</text><text x="511.0" y="39.9">8</text><text x="517.9" y="35.8">8</text><text x="498.8" y="43.0">8</text><text x="538.3" y="55.2">8</text><text x="520.3" y="42.8">8</text><text x="519.6" y="34.2">8</text><text x="557.1" y="41.9">8</text><text x="552.5" y="48.0">8</text><text x="546.8" y="34.3">8</text></g><g fill="#333333" stroke="#333333"><text x="538.8" y="43.8">7</text></g><g fill="#FAB4C4" stroke="#FAB4C4"><text x="519.9" y="48.2">8</text><text x="552.1" y="46.1">8</text></g><g fill="#333333" stroke="#333333"><text x="566.2" y="43.1">7</text></g><g fill="#FAB4C4" stroke="#FAB4C4"><text x="499.0" y="40.6">8</text><text x="518.9" y="40.9">8</text><text x="534.4" y="38.5">8</text><text x="513.5" y="44.2">8</text><text x="550.3" y="52.2">8</text><text x="530.0" y="48.1">8</text><text x="510.5" y="42.5">8</text><text x="546.1" y="44.4">8</text></g><g fill="#333333" stroke="#333333"><text x="507.2" y="41.7">7</text></g><g fill="#FAB4C4" stroke="#FAB4C4"><text x="533.6" y="47.3">8</text></g><g fill="#333333" stroke="#333333"><text x="573.6" y="52.5">7</text></g><g fill="#FAB4C4" stroke="#FAB4C4"><text x="526.2" y="44.8">8</text><text x="536.2" y="42.4">8</text><text x="532.2" y="41.6">8</text><text x="506.4" y="41.0">8</text><text x="525.9" y="37.4">8</text><text x="535.5" y="37.9">8</text><text x="507.2" y="29.2">8</text><text x="535.9" y="45.6">8</text><text x="543.4" y="40.1">8</text><text x="558.6" y="35.1">8</text><text x="526.8" y="41.7">8</text><text x="533.4" y="45.1">8</text></g><g fill="#333333" stroke="#333333"><text x="557.2" y="44.1">7</text></g><g fill="#FAB4C4" stroke="#FAB4C4"><text x="517.1" y="30.4">8</text></g><g fill="#333333" stroke="#333333"><text x="508.1" y="37.0">7</text></g><g fill="#FAB4C4" stroke="#FAB4C4"><text x="536.0" y="40.2">8</text><text x="517.9" y="51.8">8</text><text x="533.9" y="42.7">8</text><text x="532.1" y="51.3">8</text></g><g fill="#333333" stroke="#333333"><text x="545.0" y="47.2">7</text></g><g fill="#FAB4C4" stroke="#FAB4C4"><text x="539.5" y="45.7">8</text><text x="529.7" y="48.7">8</text><text x="530.4" y="54.2">8</text><text x="525.5" y="48.4">8</text><text x="520.3" y="36.7">8</text><text x="533.0" y="34.7">8</text><text x="555.6" y="50.6">8</text><text x="505.2" y="47.1">8</text><text x="504.8" y="40.9">8</text></g><g fill="#333333" stroke="#333333"><text x="556.8" y="58.4">7</text></g><g fill="#FAB4C4" stroke="#FAB4C4"><text x="509.8" y="57.3">8</text><text x="548.9" y="49.8">8</text><text x="515.3" y="39.1">8</text><text x="532.3" y="50.2">8</text></g><g fill="#333333" stroke="#333333"><text x="501.0" y="41.8">7</text><text x="538.6" y="38.4">7</text><text x="502.8" y="44.2">7</text></g><g fill="#FAB4C4" stroke="#FAB4C4"><text x="514.3" y="39.9">8</text><text x="509.7" y="35.9">8</text><text x="551.6" y="46.5">8</text><text x="542.0" y="28.2">8</text><text x="532.2" y="50.5">8</text><text x="533.7" y="49.3">8</text><text x="540.0" y="39.1">8</text><text x="536.2" y="50.0">8</text><text x="529.3" y="33.4">8</text><text x="547.7" y="40.0">8</text><text x="502.8" y="47.4">8</text><text x="522.3" y="39.9">8</text><text x="521.5" y="41.2">8</text><text x="538.1" y="35.7">8</text><text x="526.2" y="39.5">8</text><text x="539.7" y="49.5">8</text><text x="511.3" y="41.4">8</text></g><g fill="#333333" stroke="#333333"><text x="523.1" y="37.2">7</text></g><g fill="#FAB4C4" stroke="#FAB4C4"><text x="511.6" y="43.4">8</text><text x="534.7" y="46.2">8</text><text x="539.0" y="51.1">8</text></g><g fill="#333333" stroke="#333333"><text x="558.2" y="51.5">7</text></g><g fill="#FAB4C4" stroke="#FAB4C4"><text x="525.9" y="41.1">8</text><text x="524.1" y="37.3">8</text><text x="514.8" y="42.3">8</text></g><g fill="#333333" stroke="#333333"><text x="531.7" y="38.0">7</text></g><g fill="#FAB4C4" stroke="#FAB4C4"><text x="540.4" y="34.4">8</text><text x="558.9" y="40.8">8</text><text x="545.8" y="38.9">8</text></g><g fill="#333333" stroke="#333333"><text x="545.6" y="37.4">7</text></g><g fill="#FAB4C4" stroke="#FAB4C4"><text x="559.5" y="32.0">8</text><text x="513.6" y="51.3">8</text><text x="528.1" y="40.3">8</text><text x="524.3" y="49.5">8</text><text x="508.4" y="38.7">8</text><text x="524.6" y="41.9">8</text></g><g fill="#333333" stroke="#333333"><text x="534.3" y="53.6">7</text><text x="499.9" y="41.1">7</text><text x="544.6" y="45.6">7</text></g><g fill="#FAB4C4" stroke="#FAB4C4"><text x="538.2" y="38.5">8</text></g><g fill="#333333" stroke="#333333"><text x="544.0" y="23.6">7</text></g><g fill="#FAB4C4" stroke="#FAB4C4"><text x="552.1" y="34.1">8</text><text x="542.9" y="45.0">8</text><text x="506.3" y="29.8">8</text><text x="537.0" y="41.1">8</text><text x="536.7" y="54.7">8</text><text x="520.0" y="51.5">8</text></g><g fill="#333333" stroke="#333333"><text x="549.1" y="42.9">7</text></g><g fill="#FAB4C4" stroke="#FAB4C4"><text x="533.8" y="44.0">8</text><text x="537.2" y="44.9">8</text><text x="537.2" y="48.4">8</text><text x="545.7" y="44.4">8</text><text x="527.6" y="59.6">8</text><text x="543.2" y="33.6">8</text><text x="520.9" y="49.1">8</text><text x="544.1" y="46.2">8</text><text x="516.7" y="50.8">8</text></g><g fill="#333333" stroke="#333333"><text x="515.7" y="57.9">7</text><text x="536.2" y="50.9">7</text></g><g fill="#FAB4C4" stroke="#FAB4C4"><text x="495.1" y="45.8">8</text><text x="535.9" y="47.2">8</text></g><g fill="#333333" stroke="#333333"><text x="554.1" y="57.3">7</text></g><g fill="#FAB4C4" stroke="#FAB4C4"><text x="540.4" y="38.8">8</text><text x="553.0" y="47.8">8</text></g></g><g class="ax"><rect x="471.30" y="8.00" width="122.0" height="63.0" fill="none" stroke="#5a5a5a" stroke-width="1.25"/>
<text transform="translate(532.30,5.50) scale(1,1.12)" text-anchor="middle" font-weight="bold" font-size="5.65">D Breast bicor=-0.26, p=2.9e-13</text>
<text transform="translate(532.30,92.50) scale(1,1.15)" text-anchor="middle" font-size="5.65">Log10(No. of mutations)</text>
<text transform="translate(454.30,39.50) rotate(-90) scale(1,1.07)" text-anchor="middle" font-size="5.65">Age Acceleration</text>
<line x1="493.10" y1="71.00" x2="493.10" y2="74.20" stroke="#444" stroke-width="0.9"/>
<text transform="translate(493.10,81.90) scale(1,1.15)" text-anchor="middle" font-size="5.65">1.0</text>
<line x1="521.93" y1="71.00" x2="521.93" y2="74.20" stroke="#444" stroke-width="0.9"/>
<text transform="translate(521.93,81.90) scale(1,1.15)" text-anchor="middle" font-size="5.65">1.5</text>
<line x1="550.77" y1="71.00" x2="550.77" y2="74.20" stroke="#444" stroke-width="0.9"/>
<text transform="translate(550.77,81.90) scale(1,1.15)" text-anchor="middle" font-size="5.65">2.0</text>
<line x1="579.60" y1="71.00" x2="579.60" y2="74.20" stroke="#444" stroke-width="0.9"/>
<text transform="translate(579.60,81.90) scale(1,1.15)" text-anchor="middle" font-size="5.65">2.5</text>
<line x1="468.10" y1="63.80" x2="471.30" y2="63.80" stroke="#444" stroke-width="0.9"/>
<text transform="translate(465.70,63.80) rotate(-90) scale(1,1.15)" text-anchor="middle" font-size="5.65">-50</text>
<line x1="468.10" y1="49.00" x2="471.30" y2="49.00" stroke="#444" stroke-width="0.9"/>
<text transform="translate(465.70,49.00) rotate(-90) scale(1,1.15)" text-anchor="middle" font-size="5.65">0</text>
<line x1="468.10" y1="34.20" x2="471.30" y2="34.20" stroke="#444" stroke-width="0.9"/>
<text transform="translate(465.70,34.20) rotate(-90) scale(1,1.15)" text-anchor="middle" font-size="5.65">50</text>
<line x1="468.10" y1="19.40" x2="471.30" y2="19.40" stroke="#444" stroke-width="0.9"/>
<text transform="translate(465.70,19.40) rotate(-90) scale(1,1.15)" text-anchor="middle" font-size="5.65">100</text></g>
<g font-size="4.7" text-anchor="middle" stroke-width="0.22" transform="scale(1,1.12)"><g fill="#EE33EE" stroke="#EE33EE" stroke-width="0.5"><text x="45.1" y="97.0">9</text><text x="64.6" y="119.4">9</text><text x="29.8" y="120.8">9</text><text x="31.1" y="123.6">9</text><text x="31.9" y="125.0">9</text><text x="32.5" y="127.4">9</text><text x="27.3" y="132.0">9</text><text x="29.4" y="130.7">9</text><text x="43.7" y="130.1">9</text><text x="52.9" y="126.9">9</text><text x="52.9" y="132.0">9</text><text x="57.7" y="129.2">9</text><text x="26.9" y="141.9">9</text><text x="47.8" y="141.9">9</text><text x="55.6" y="143.3">9</text><text x="60.4" y="139.5">9</text><text x="81.8" y="128.3">9</text><text x="82.2" y="134.2">9</text><text x="109.5" y="126.0">9</text><text x="117.5" y="146.4">9</text><text x="140.1" y="134.2">9</text></g></g><g class="ax"><rect x="22.50" y="104.50" width="122.0" height="63.3" fill="none" stroke="#5a5a5a" stroke-width="1.25"/>
<text transform="translate(83.50,102.00) scale(1,1.12)" text-anchor="middle" font-weight="bold" font-size="5.65">E Cervix bicor=-0.26, p=0.26</text>
<text transform="translate(83.50,189.30) scale(1,1.15)" text-anchor="middle" font-size="5.65">Log10(No. of mutations)</text>
<text transform="translate(5.50,136.15) rotate(-90) scale(1,1.07)" text-anchor="middle" font-size="5.65">Age Acceleration</text>
<line x1="28.45" y1="167.80" x2="28.45" y2="171.00" stroke="#444" stroke-width="0.9"/>
<text transform="translate(28.45,178.70) scale(1,1.15)" text-anchor="middle" font-size="5.65">2.0</text>
<line x1="46.24" y1="167.80" x2="46.24" y2="171.00" stroke="#444" stroke-width="0.9"/>
<text transform="translate(46.24,178.70) scale(1,1.15)" text-anchor="middle" font-size="5.65">2.2</text>
<line x1="64.03" y1="167.80" x2="64.03" y2="171.00" stroke="#444" stroke-width="0.9"/>
<text transform="translate(64.03,178.70) scale(1,1.15)" text-anchor="middle" font-size="5.65">2.4</text>
<line x1="81.82" y1="167.80" x2="81.82" y2="171.00" stroke="#444" stroke-width="0.9"/>
<text transform="translate(81.82,178.70) scale(1,1.15)" text-anchor="middle" font-size="5.65">2.6</text>
<line x1="99.62" y1="167.80" x2="99.62" y2="171.00" stroke="#444" stroke-width="0.9"/>
<text transform="translate(99.62,178.70) scale(1,1.15)" text-anchor="middle" font-size="5.65">2.8</text>
<line x1="117.41" y1="167.80" x2="117.41" y2="171.00" stroke="#444" stroke-width="0.9"/>
<text transform="translate(117.41,178.70) scale(1,1.15)" text-anchor="middle" font-size="5.65">3.0</text>
<line x1="135.20" y1="167.80" x2="135.20" y2="171.00" stroke="#444" stroke-width="0.9"/>
<text transform="translate(135.20,178.70) scale(1,1.15)" text-anchor="middle" font-size="5.65">3.2</text>
<line x1="19.30" y1="159.67" x2="22.50" y2="159.67" stroke="#444" stroke-width="0.9"/>
<text transform="translate(16.90,159.67) rotate(-90) scale(1,1.15)" text-anchor="middle" font-size="5.65">-40</text>
<line x1="19.30" y1="150.33" x2="22.50" y2="150.33" stroke="#444" stroke-width="0.9"/>
<line x1="19.30" y1="141.00" x2="22.50" y2="141.00" stroke="#444" stroke-width="0.9"/>
<text transform="translate(16.90,141.00) rotate(-90) scale(1,1.15)" text-anchor="middle" font-size="5.65">0</text>
<line x1="19.30" y1="131.67" x2="22.50" y2="131.67" stroke="#444" stroke-width="0.9"/>
<text transform="translate(16.90,131.67) rotate(-90) scale(1,1.15)" text-anchor="middle" font-size="5.65">20</text>
<line x1="19.30" y1="122.33" x2="22.50" y2="122.33" stroke="#444" stroke-width="0.9"/>
<line x1="19.30" y1="113.00" x2="22.50" y2="113.00" stroke="#444" stroke-width="0.9"/>
<text transform="translate(16.90,113.00) rotate(-90) scale(1,1.15)" text-anchor="middle" font-size="5.65">60</text>
<line x1="24" y1="167.80" x2="144" y2="167.80" stroke="#E080E0" stroke-width="0.8"/></g>
<g font-size="4.7" text-anchor="middle" stroke-width="0.22" transform="scale(1,1.12)"><g fill="#CFA880" stroke="#CFA880"><text x="229.4" y="138.9">12</text><text x="230.4" y="127.3">12</text><text x="234.4" y="130.4">12</text><text x="240.4" y="116.8">12</text><text x="225.1" y="114.1">12</text><text x="232.4" y="132.8">12</text><text x="229.7" y="128.7">12</text><text x="229.1" y="127.7">12</text><text x="233.3" y="127.4">12</text><text x="228.9" y="141.4">12</text><text x="235.7" y="123.5">12</text><text x="221.4" y="140.9">12</text><text x="226.3" y="133.4">12</text><text x="227.0" y="120.5">12</text><text x="232.8" y="123.1">12</text><text x="234.7" y="120.6">12</text><text x="231.8" y="134.6">12</text><text x="231.7" y="132.4">12</text><text x="220.1" y="131.3">12</text><text x="233.6" y="131.9">12</text><text x="242.2" y="109.3">12</text><text x="236.3" y="126.2">12</text><text x="231.1" y="130.6">12</text><text x="228.2" y="121.3">12</text><text x="213.7" y="129.7">12</text><text x="220.9" y="127.6">12</text><text x="231.9" y="132.6">12</text><text x="241.8" y="132.8">12</text><text x="224.0" y="133.0">12</text><text x="237.0" y="131.8">12</text><text x="228.6" y="132.9">12</text><text x="229.7" y="129.9">12</text><text x="230.0" y="134.5">12</text><text x="227.2" y="127.9">12</text><text x="230.5" y="116.4">12</text><text x="214.6" y="125.3">12</text><text x="240.9" y="131.5">12</text><text x="232.2" y="127.0">12</text><text x="227.2" y="129.6">12</text><text x="229.0" y="134.9">12</text><text x="234.6" y="124.3">12</text><text x="230.5" y="133.0">12</text><text x="232.9" y="128.3">12</text><text x="232.5" y="128.3">12</text><text x="230.7" y="123.3">12</text><text x="230.4" y="131.9">12</text><text x="231.3" y="119.2">12</text><text x="226.7" y="134.7">12</text><text x="237.5" y="138.0">12</text><text x="234.1" y="132.3">12</text><text x="227.7" y="113.3">12</text><text x="233.6" y="128.6">12</text><text x="240.5" y="135.9">12</text><text x="233.1" y="132.9">12</text><text x="220.1" y="128.1">12</text><text x="236.5" y="127.6">12</text><text x="234.1" y="122.9">12</text><text x="240.2" y="116.4">12</text><text x="226.2" y="119.3">12</text><text x="227.4" y="125.0">12</text><text x="229.7" y="122.9">12</text><text x="231.3" y="131.1">12</text><text x="235.8" y="148.3">12</text><text x="224.2" y="140.1">12</text><text x="229.6" y="129.0">12</text><text x="236.2" y="124.3">12</text><text x="244.5" y="139.5">12</text><text x="223.7" y="121.0">12</text><text x="230.2" y="128.7">12</text><text x="219.5" y="126.2">12</text><text x="217.9" y="118.0">12</text><text x="224.7" y="122.3">12</text><text x="226.7" y="134.0">12</text><text x="225.6" y="133.7">12</text><text x="227.5" y="143.1">12</text><text x="229.6" y="134.3">12</text><text x="238.9" y="129.3">12</text><text x="233.4" y="136.0">12</text><text x="235.3" y="135.8">12</text><text x="229.7" y="121.9">12</text><text x="229.4" y="136.2">12</text><text x="238.4" y="129.4">12</text><text x="232.6" y="138.2">12</text><text x="223.4" y="138.7">12</text><text x="232.7" y="125.3">12</text><text x="276.9" y="125.3">12</text><text x="277.7" y="143.4">12</text><text x="271.6" y="125.3">12</text><text x="261.0" y="133.9">12</text><text x="255.8" y="128.2">12</text><text x="270.0" y="124.8">12</text><text x="261.0" y="131.9">12</text><text x="263.8" y="135.6">12</text><text x="254.4" y="130.8">12</text><text x="272.5" y="125.2">12</text><text x="263.0" y="121.1">12</text><text x="267.8" y="126.6">12</text><text x="269.4" y="126.7">12</text><text x="280.4" y="130.3">12</text><text x="263.7" y="124.5">12</text><text x="252.5" y="116.2">12</text><text x="254.8" y="123.0">12</text><text x="262.5" y="122.1">12</text><text x="272.8" y="118.2">12</text><text x="272.4" y="137.3">12</text><text x="259.9" y="126.3">12</text><text x="276.0" y="132.9">12</text><text x="268.6" y="141.9">12</text><text x="270.5" y="133.6">12</text><text x="272.5" y="124.4">12</text><text x="277.2" y="130.1">12</text><text x="176.9" y="141.4">12</text><text x="232.9" y="106.7">12</text><text x="244.4" y="113.9">12</text><text x="250.7" y="123.6">12</text><text x="288.4" y="128.3">12</text><text x="270.6" y="147.0">12</text><text x="230.8" y="148.9">12</text><text x="211.9" y="126.4">12</text><text x="221.3" y="140.0">12</text><text x="246.5" y="143.3">12</text><text x="235.5" y="107.5">12</text><text x="226.0" y="110.6">12</text><text x="238.0" y="110.6">12</text><text x="214.0" y="127.5">12</text></g></g><g class="ax"><rect x="172.10" y="104.50" width="122.0" height="63.3" fill="none" stroke="#5a5a5a" stroke-width="1.25"/>
<text transform="translate(233.10,102.00) scale(1,1.12)" text-anchor="middle" font-weight="bold" font-size="5.65">F Colon.COAD bicor=-0.03, p=0.7</text>
<text transform="translate(233.10,189.30) scale(1,1.15)" text-anchor="middle" font-size="5.65">Log10(No. of mutations)</text>
<text transform="translate(155.10,136.15) rotate(-90) scale(1,1.07)" text-anchor="middle" font-size="5.65">Age Acceleration</text>
<line x1="177.40" y1="167.80" x2="177.40" y2="171.00" stroke="#444" stroke-width="0.9"/>
<text transform="translate(177.40,178.70) scale(1,1.15)" text-anchor="middle" font-size="5.65">0.5</text>
<line x1="194.20" y1="167.80" x2="194.20" y2="171.00" stroke="#444" stroke-width="0.9"/>
<text transform="translate(194.20,178.70) scale(1,1.15)" text-anchor="middle" font-size="5.65">1.0</text>
<line x1="211.00" y1="167.80" x2="211.00" y2="171.00" stroke="#444" stroke-width="0.9"/>
<text transform="translate(211.00,178.70) scale(1,1.15)" text-anchor="middle" font-size="5.65">1.5</text>
<line x1="227.80" y1="167.80" x2="227.80" y2="171.00" stroke="#444" stroke-width="0.9"/>
<text transform="translate(227.80,178.70) scale(1,1.15)" text-anchor="middle" font-size="5.65">2.0</text>
<line x1="244.60" y1="167.80" x2="244.60" y2="171.00" stroke="#444" stroke-width="0.9"/>
<text transform="translate(244.60,178.70) scale(1,1.15)" text-anchor="middle" font-size="5.65">2.5</text>
<line x1="261.40" y1="167.80" x2="261.40" y2="171.00" stroke="#444" stroke-width="0.9"/>
<text transform="translate(261.40,178.70) scale(1,1.15)" text-anchor="middle" font-size="5.65">3.0</text>
<line x1="278.20" y1="167.80" x2="278.20" y2="171.00" stroke="#444" stroke-width="0.9"/>
<text transform="translate(278.20,178.70) scale(1,1.15)" text-anchor="middle" font-size="5.65">3.5</text>
<line x1="168.90" y1="157.90" x2="172.10" y2="157.90" stroke="#444" stroke-width="0.9"/>
<text transform="translate(166.50,157.90) rotate(-90) scale(1,1.15)" text-anchor="middle" font-size="5.65">-50</text>
<line x1="168.90" y1="138.20" x2="172.10" y2="138.20" stroke="#444" stroke-width="0.9"/>
<text transform="translate(166.50,138.20) rotate(-90) scale(1,1.15)" text-anchor="middle" font-size="5.65">0</text>
<line x1="168.90" y1="118.50" x2="172.10" y2="118.50" stroke="#444" stroke-width="0.9"/>
<text transform="translate(166.50,118.50) rotate(-90) scale(1,1.15)" text-anchor="middle" font-size="5.65">50</text></g>
<g font-size="4.7" text-anchor="middle" stroke-width="0.22" transform="scale(1,1.12)"><g fill="#22E0EE" stroke="#22E0EE"><text x="326.2" y="134.2">14</text><text x="333.3" y="133.5">14</text><text x="338.6" y="118.8">14</text><text x="344.8" y="125.9">14</text><text x="353.6" y="118.8">14</text><text x="362.1" y="114.9">14</text><text x="368.7" y="114.1">14</text><text x="374.9" y="147.3">14</text><text x="387.3" y="111.4">14</text><text x="393.0" y="110.9">14</text><text x="414.8" y="118.8">14</text><text x="424.5" y="125.9">14</text><text x="435.1" y="122.5">14</text><text x="427.2" y="135.4">14</text><text x="428.9" y="143.3">14</text><text x="437.0" y="122.5">14</text><text x="368.9" y="128.4">14</text><text x="385.1" y="123.5">14</text><text x="372.7" y="123.8">14</text><text x="379.5" y="123.5">14</text><text x="371.6" y="129.5">14</text><text x="377.4" y="123.6">14</text><text x="369.7" y="132.3">14</text><text x="383.5" y="121.0">14</text><text x="361.9" y="122.2">14</text><text x="388.8" y="122.6">14</text><text x="358.9" y="125.6">14</text><text x="353.8" y="122.7">14</text><text x="396.4" y="122.5">14</text><text x="379.2" y="117.5">14</text><text x="359.9" y="114.2">14</text><text x="374.0" y="125.1">14</text><text x="349.7" y="129.2">14</text><text x="357.9" y="112.4">14</text><text x="394.9" y="123.6">14</text><text x="375.4" y="130.3">14</text><text x="349.9" y="120.3">14</text><text x="392.6" y="122.1">14</text><text x="361.2" y="122.2">14</text><text x="366.2" y="120.3">14</text><text x="372.8" y="130.9">14</text><text x="363.9" y="116.9">14</text><text x="383.0" y="125.1">14</text><text x="361.9" y="119.1">14</text><text x="362.1" y="126.8">14</text><text x="365.7" y="121.0">14</text><text x="368.6" y="119.3">14</text><text x="362.9" y="126.5">14</text><text x="364.0" y="120.2">14</text><text x="370.7" y="133.5">14</text><text x="386.3" y="121.7">14</text><text x="356.7" y="118.7">14</text><text x="364.7" y="129.7">14</text><text x="372.9" y="127.5">14</text><text x="369.4" y="130.8">14</text><text x="346.8" y="124.6">14</text><text x="370.7" y="126.5">14</text><text x="364.2" y="125.3">14</text><text x="397.1" y="119.3">14</text><text x="360.8" y="127.4">14</text><text x="352.2" y="131.2">14</text><text x="375.6" y="120.5">14</text><text x="371.2" y="122.6">14</text><text x="346.5" y="121.1">14</text><text x="366.3" y="126.6">14</text><text x="352.2" y="135.0">14</text></g><g fill="#26267E" stroke="#26267E"><text x="421.2" y="128.0">15</text><text x="393.3" y="133.5">15</text><text x="404.0" y="143.0">15</text><text x="380.8" y="142.2">15</text><text x="398.1" y="128.6">15</text><text x="407.2" y="131.8">15</text><text x="380.5" y="128.0">15</text><text x="426.5" y="135.0">15</text><text x="365.5" y="131.3">15</text><text x="355.0" y="132.3">15</text><text x="368.2" y="129.3">15</text><text x="415.7" y="140.0">15</text><text x="385.5" y="131.2">15</text><text x="383.9" y="124.0">15</text><text x="397.0" y="131.0">15</text><text x="375.0" y="133.7">15</text><text x="393.8" y="135.5">15</text><text x="381.0" y="133.6">15</text><text x="391.9" y="132.8">15</text><text x="370.4" y="131.6">15</text><text x="389.0" y="124.1">15</text><text x="392.5" y="131.1">15</text><text x="399.2" y="127.2">15</text><text x="383.6" y="136.9">15</text><text x="392.0" y="124.4">15</text><text x="406.9" y="134.5">15</text><text x="399.4" y="143.0">15</text><text x="408.4" y="132.8">15</text><text x="385.7" y="130.1">15</text><text x="414.7" y="134.2">15</text><text x="394.9" y="136.4">15</text><text x="417.1" y="132.1">15</text><text x="417.9" y="136.9">15</text><text x="411.2" y="127.6">15</text><text x="374.0" y="135.4">15</text><text x="407.9" y="131.9">15</text><text x="406.3" y="124.8">15</text><text x="421.6" y="134.6">15</text><text x="406.9" y="132.6">15</text><text x="387.0" y="134.5">15</text><text x="360.9" y="120.9">15</text><text x="369.6" y="120.8">15</text><text x="400.3" y="139.8">15</text><text x="392.6" y="116.2">15</text><text x="403.7" y="129.4">15</text><text x="376.2" y="123.6">15</text><text x="407.5" y="139.8">15</text><text x="389.9" y="124.2">15</text><text x="397.0" y="144.1">15</text><text x="400.1" y="130.5">15</text><text x="372.2" y="128.1">15</text><text x="367.2" y="124.0">15</text><text x="400.9" y="132.5">15</text><text x="412.1" y="127.0">15</text><text x="377.3" y="133.8">15</text><text x="404.4" y="138.8">15</text><text x="396.9" y="126.5">15</text><text x="386.4" y="128.8">15</text><text x="380.1" y="127.6">15</text><text x="394.9" y="127.4">15</text><text x="390.9" y="133.3">15</text><text x="408.6" y="126.8">15</text><text x="379.3" y="133.2">15</text><text x="412.3" y="130.6">15</text><text x="383.1" y="141.8">15</text><text x="413.8" y="127.3">15</text><text x="409.1" y="124.0">15</text><text x="394.3" y="130.5">15</text><text x="400.9" y="128.8">15</text><text x="371.6" y="139.2">15</text><text x="386.1" y="136.7">15</text><text x="378.7" y="136.0">15</text><text x="392.3" y="128.5">15</text><text x="417.4" y="124.4">15</text><text x="402.1" y="135.5">15</text><text x="386.2" y="133.2">15</text><text x="394.1" y="120.1">15</text><text x="368.5" y="132.5">15</text><text x="410.8" y="125.0">15</text><text x="400.7" y="138.2">15</text><text x="365.0" y="125.5">15</text><text x="384.4" y="138.1">15</text><text x="384.1" y="129.5">15</text><text x="409.2" y="129.4">15</text><text x="383.7" y="131.8">15</text><text x="378.5" y="141.6">15</text><text x="401.5" y="143.0">15</text><text x="371.3" y="134.1">15</text><text x="392.5" y="146.2">15</text><text x="387.7" y="132.7">15</text><text x="391.8" y="129.9">15</text><text x="384.2" y="136.4">15</text><text x="386.0" y="140.4">15</text><text x="400.0" y="129.1">15</text><text x="375.7" y="129.9">15</text><text x="396.0" y="131.9">15</text><text x="391.1" y="129.3">15</text><text x="389.8" y="123.5">15</text><text x="398.5" y="132.3">15</text><text x="418.1" y="131.5">15</text><text x="423.1" y="124.0">15</text><text x="407.3" y="126.4">15</text><text x="397.0" y="139.7">15</text><text x="404.4" y="139.1">15</text><text x="398.4" y="127.4">15</text><text x="399.9" y="131.9">15</text><text x="410.3" y="140.7">15</text><text x="374.9" y="128.8">15</text><text x="411.9" y="124.7">15</text><text x="375.4" y="130.3">15</text><text x="389.2" y="139.3">15</text><text x="413.7" y="131.3">15</text><text x="412.4" y="140.4">15</text><text x="399.5" y="131.5">15</text><text x="397.3" y="136.9">15</text><text x="394.0" y="120.9">15</text><text x="390.5" y="139.8">15</text><text x="396.4" y="127.3">15</text><text x="410.6" y="131.2">15</text><text x="387.0" y="132.2">15</text><text x="423.2" y="129.9">15</text><text x="385.2" y="125.8">15</text><text x="389.6" y="135.9">15</text><text x="405.6" y="122.4">15</text><text x="388.8" y="136.0">15</text><text x="385.0" y="138.4">15</text><text x="391.9" y="128.0">15</text><text x="381.0" y="122.3">15</text><text x="400.2" y="131.9">15</text><text x="387.4" y="138.1">15</text><text x="395.0" y="129.0">15</text><text x="407.9" y="137.3">15</text><text x="388.7" y="133.0">15</text><text x="408.8" y="128.6">15</text><text x="406.4" y="128.8">15</text><text x="391.8" y="132.4">15</text><text x="371.8" y="132.2">15</text><text x="376.8" y="137.0">15</text><text x="415.1" y="141.8">15</text><text x="370.3" y="131.4">15</text><text x="385.4" y="129.3">15</text><text x="415.1" y="137.3">15</text><text x="396.1" y="123.0">15</text><text x="410.5" y="137.3">15</text><text x="395.0" y="131.6">15</text><text x="391.9" y="128.1">15</text><text x="415.8" y="121.2">15</text><text x="398.4" y="132.3">15</text><text x="416.7" y="137.2">15</text><text x="410.6" y="132.6">15</text></g><g fill="#22E0EE" stroke="#22E0EE"><text x="380.1" y="127.4">14</text><text x="397.3" y="130.2">14</text><text x="409.2" y="141.5">14</text><text x="404.1" y="135.5">14</text><text x="392.8" y="119.4">14</text><text x="391.6" y="126.9">14</text><text x="400.4" y="130.9">14</text><text x="378.8" y="130.6">14</text><text x="381.2" y="130.5">14</text><text x="393.9" y="123.2">14</text><text x="382.1" y="126.3">14</text><text x="385.9" y="128.2">14</text><text x="386.3" y="135.0">14</text><text x="399.2" y="121.9">14</text></g><g fill="#26267E" stroke="#26267E"><text x="331.5" y="117.7">15</text><text x="335.1" y="124.1">15</text><text x="346.6" y="118.0">15</text><text x="351.9" y="144.2">15</text><text x="368.7" y="145.7">15</text><text x="397.6" y="104.2">15</text><text x="413.0" y="109.3">15</text><text x="404.1" y="116.5">15</text><text x="422.7" y="124.3">15</text><text x="417.4" y="145.7">15</text><text x="425.4" y="144.6">15</text><text x="438.7" y="141.4">15</text><text x="412.1" y="148.9">15</text><text x="377.0" y="111.5">15</text><text x="380.0" y="112.4">15</text></g></g><g class="ax"><rect x="321.70" y="104.50" width="122.0" height="63.3" fill="none" stroke="#5a5a5a" stroke-width="1.25"/>
<text transform="translate(382.70,102.00) scale(1,1.12)" text-anchor="middle" font-weight="bold" font-size="5.65">G Kidney.KIRC bicor=-0.25, p=1.5e-05</text>
<text transform="translate(382.70,189.30) scale(1,1.15)" text-anchor="middle" font-size="5.65">Log10(No. of mutations)</text>
<text transform="translate(304.70,136.15) rotate(-90) scale(1,1.07)" text-anchor="middle" font-size="5.65">Age Acceleration</text>
<line x1="326.40" y1="167.80" x2="326.40" y2="171.00" stroke="#444" stroke-width="0.9"/>
<text transform="translate(326.40,178.70) scale(1,1.15)" text-anchor="middle" font-size="5.65">1.4</text>
<line x1="349.40" y1="167.80" x2="349.40" y2="171.00" stroke="#444" stroke-width="0.9"/>
<text transform="translate(349.40,178.70) scale(1,1.15)" text-anchor="middle" font-size="5.65">1.6</text>
<line x1="372.40" y1="167.80" x2="372.40" y2="171.00" stroke="#444" stroke-width="0.9"/>
<text transform="translate(372.40,178.70) scale(1,1.15)" text-anchor="middle" font-size="5.65">1.8</text>
<line x1="395.40" y1="167.80" x2="395.40" y2="171.00" stroke="#444" stroke-width="0.9"/>
<text transform="translate(395.40,178.70) scale(1,1.15)" text-anchor="middle" font-size="5.65">2.0</text>
<line x1="418.40" y1="167.80" x2="418.40" y2="171.00" stroke="#444" stroke-width="0.9"/>
<text transform="translate(418.40,178.70) scale(1,1.15)" text-anchor="middle" font-size="5.65">2.2</text>
<line x1="441.40" y1="167.80" x2="441.40" y2="171.00" stroke="#444" stroke-width="0.9"/>
<text transform="translate(441.40,178.70) scale(1,1.15)" text-anchor="middle" font-size="5.65">2.4</text>
<line x1="318.50" y1="161.97" x2="321.70" y2="161.97" stroke="#444" stroke-width="0.9"/>
<text transform="translate(316.10,161.97) rotate(-90) scale(1,1.15)" text-anchor="middle" font-size="5.65">-20</text>
<line x1="318.50" y1="149.80" x2="321.70" y2="149.80" stroke="#444" stroke-width="0.9"/>
<text transform="translate(316.10,149.80) rotate(-90) scale(1,1.15)" text-anchor="middle" font-size="5.65">0</text>
<line x1="318.50" y1="137.63" x2="321.70" y2="137.63" stroke="#444" stroke-width="0.9"/>
<text transform="translate(316.10,137.63) rotate(-90) scale(1,1.15)" text-anchor="middle" font-size="5.65">20</text>
<line x1="318.50" y1="125.47" x2="321.70" y2="125.47" stroke="#444" stroke-width="0.9"/>
<text transform="translate(316.10,125.47) rotate(-90) scale(1,1.15)" text-anchor="middle" font-size="5.65">40</text>
<line x1="318.50" y1="113.30" x2="321.70" y2="113.30" stroke="#444" stroke-width="0.9"/>
<text transform="translate(316.10,113.30) rotate(-90) scale(1,1.15)" text-anchor="middle" font-size="5.65">60</text></g>
<g font-size="4.7" text-anchor="middle" stroke-width="0.22" transform="scale(1,1.12)"><g fill="#3C3CB0" stroke="#3C3CB0"><text x="475.3" y="112.0">16</text><text x="506.8" y="97.8">16</text><text x="510.4" y="97.5">16</text><text x="507.2" y="107.7">16</text><text x="511.6" y="108.9">16</text><text x="516.9" y="106.7">16</text><text x="519.9" y="105.0">16</text><text x="515.7" y="112.0">16</text><text x="517.5" y="112.5">16</text><text x="501.0" y="117.7">16</text><text x="499.7" y="120.4">16</text><text x="506.3" y="120.4">16</text><text x="496.6" y="128.8">16</text><text x="506.3" y="134.2">16</text><text x="509.8" y="126.2">16</text><text x="514.3" y="121.5">16</text><text x="514.3" y="124.1">16</text><text x="516.4" y="128.8">16</text><text x="523.1" y="122.0">16</text><text x="521.4" y="126.2">16</text><text x="526.7" y="126.7">16</text><text x="523.1" y="131.0">16</text><text x="526.7" y="130.3">16</text><text x="522.8" y="136.7">16</text><text x="527.6" y="136.2">16</text><text x="515.7" y="148.3">16</text><text x="532.0" y="100.7">16</text><text x="532.0" y="125.1">16</text><text x="532.0" y="129.4">16</text><text x="548.8" y="113.6">16</text><text x="552.9" y="112.0">16</text><text x="564.8" y="114.9">16</text><text x="540.0" y="118.3">16</text><text x="549.4" y="120.0">16</text><text x="555.0" y="120.0">16</text><text x="562.5" y="119.6">16</text><text x="544.4" y="122.5">16</text><text x="549.7" y="122.5">16</text><text x="535.5" y="123.5">16</text><text x="534.7" y="125.9">16</text><text x="539.1" y="129.4">16</text><text x="544.4" y="126.7">16</text><text x="550.6" y="125.6">16</text><text x="555.0" y="125.6">16</text><text x="542.6" y="130.7">16</text><text x="553.3" y="130.7">16</text><text x="558.6" y="131.0">16</text><text x="563.5" y="131.5">16</text><text x="567.1" y="130.3">16</text><text x="572.4" y="127.8">16</text><text x="539.1" y="134.6">16</text><text x="544.4" y="137.0">16</text><text x="547.9" y="136.2">16</text><text x="554.1" y="135.4">16</text><text x="556.8" y="135.8">16</text><text x="538.2" y="139.3">16</text><text x="563.9" y="138.6">16</text><text x="566.5" y="137.0">16</text><text x="564.8" y="140.9">16</text><text x="549.7" y="143.0">16</text><text x="552.4" y="143.0">16</text><text x="554.7" y="149.7">16</text><text x="588.3" y="143.3">16</text></g></g><g class="ax"><rect x="471.30" y="104.50" width="122.0" height="63.3" fill="none" stroke="#5a5a5a" stroke-width="1.25"/>
<text transform="translate(532.30,102.00) scale(1,1.12)" text-anchor="middle" font-weight="bold" font-size="5.65">H Kidney.KIRP bicor=-0.44, p=4.4e-05</text>
<text transform="translate(532.30,189.30) scale(1,1.15)" text-anchor="middle" font-size="5.65">Log10(No. of mutations)</text>
<text transform="translate(454.30,136.15) rotate(-90) scale(1,1.07)" text-anchor="middle" font-size="5.65">Age Acceleration</text>
<line x1="472.25" y1="167.80" x2="472.25" y2="171.00" stroke="#444" stroke-width="0.9"/>
<text transform="translate(472.25,178.70) scale(1,1.15)" text-anchor="middle" font-size="5.65">1.2</text>
<line x1="492.12" y1="167.80" x2="492.12" y2="171.00" stroke="#444" stroke-width="0.9"/>
<text transform="translate(492.12,178.70) scale(1,1.15)" text-anchor="middle" font-size="5.65">1.4</text>
<line x1="512.00" y1="167.80" x2="512.00" y2="171.00" stroke="#444" stroke-width="0.9"/>
<text transform="translate(512.00,178.70) scale(1,1.15)" text-anchor="middle" font-size="5.65">1.6</text>
<line x1="531.88" y1="167.80" x2="531.88" y2="171.00" stroke="#444" stroke-width="0.9"/>
<text transform="translate(531.88,178.70) scale(1,1.15)" text-anchor="middle" font-size="5.65">1.8</text>
<line x1="551.75" y1="167.80" x2="551.75" y2="171.00" stroke="#444" stroke-width="0.9"/>
<text transform="translate(551.75,178.70) scale(1,1.15)" text-anchor="middle" font-size="5.65">2.0</text>
<line x1="571.62" y1="167.80" x2="571.62" y2="171.00" stroke="#444" stroke-width="0.9"/>
<text transform="translate(571.62,178.70) scale(1,1.15)" text-anchor="middle" font-size="5.65">2.2</text>
<line x1="591.50" y1="167.80" x2="591.50" y2="171.00" stroke="#444" stroke-width="0.9"/>
<text transform="translate(591.50,178.70) scale(1,1.15)" text-anchor="middle" font-size="5.65">2.4</text>
<line x1="468.10" y1="165.20" x2="471.30" y2="165.20" stroke="#444" stroke-width="0.9"/>
<text transform="translate(465.70,165.20) rotate(-90) scale(1,1.15)" text-anchor="middle" font-size="5.65">-40</text>
<line x1="468.10" y1="150.95" x2="471.30" y2="150.95" stroke="#444" stroke-width="0.9"/>
<text transform="translate(465.70,150.95) rotate(-90) scale(1,1.15)" text-anchor="middle" font-size="5.65">-20</text>
<line x1="468.10" y1="136.70" x2="471.30" y2="136.70" stroke="#444" stroke-width="0.9"/>
<text transform="translate(465.70,136.70) rotate(-90) scale(1,1.15)" text-anchor="middle" font-size="5.65">0</text>
<line x1="468.10" y1="122.45" x2="471.30" y2="122.45" stroke="#444" stroke-width="0.9"/>
<text transform="translate(465.70,122.45) rotate(-90) scale(1,1.15)" text-anchor="middle" font-size="5.65">20</text>
<line x1="468.10" y1="108.20" x2="471.30" y2="108.20" stroke="#444" stroke-width="0.9"/>
<text transform="translate(465.70,108.20) rotate(-90) scale(1,1.15)" text-anchor="middle" font-size="5.65">40</text></g>
<g font-size="4.7" text-anchor="middle" stroke-width="0.22" transform="scale(1,1.12)"><g fill="#90EE90" stroke="#90EE90"><text x="89.2" y="186.8">18</text><text x="92.3" y="192.5">18</text><text x="140.5" y="190.6">18</text><text x="125.9" y="197.1">18</text><text x="126.9" y="200.0">18</text><text x="123.8" y="201.8">18</text><text x="102.8" y="196.2">18</text><text x="69.7" y="235.5">18</text><text x="135.3" y="218.3">18</text><text x="109.1" y="222.4">18</text><text x="116.4" y="213.1">18</text><text x="77.6" y="197.1">18</text><text x="105.0" y="198.1">18</text><text x="95.0" y="202.5">18</text><text x="85.0" y="215.9">18</text><text x="112.0" y="215.9">18</text><text x="95.1" y="200.4">18</text><text x="80.6" y="212.6">18</text><text x="77.5" y="212.6">18</text><text x="117.2" y="213.2">18</text><text x="122.1" y="211.7">18</text><text x="104.1" y="213.1">18</text><text x="85.5" y="210.6">18</text><text x="116.3" y="207.7">18</text><text x="104.4" y="223.2">18</text><text x="80.7" y="220.3">18</text><text x="94.1" y="206.4">18</text><text x="108.0" y="198.7">18</text><text x="114.7" y="211.4">18</text><text x="121.1" y="213.5">18</text><text x="84.0" y="214.2">18</text><text x="73.9" y="214.6">18</text><text x="78.9" y="216.8">18</text><text x="107.5" y="225.4">18</text><text x="86.5" y="208.5">18</text><text x="113.4" y="222.2">18</text><text x="99.0" y="207.0">18</text><text x="88.1" y="212.0">18</text><text x="100.8" y="212.8">18</text><text x="109.8" y="209.1">18</text><text x="98.7" y="212.1">18</text></g><g fill="#1A8C8C" stroke="#1A8C8C"><text x="63.7" y="222.3">19</text><text x="70.9" y="220.4">19</text><text x="77.8" y="205.8">19</text><text x="80.3" y="217.9">19</text><text x="73.9" y="225.3">19</text><text x="74.7" y="210.8">19</text><text x="61.4" y="219.6">19</text><text x="72.5" y="209.6">19</text><text x="70.0" y="214.9">19</text><text x="64.5" y="215.2">19</text><text x="74.1" y="212.9">19</text><text x="49.7" y="217.9">19</text><text x="58.9" y="210.2">19</text><text x="56.3" y="211.7">19</text><text x="70.1" y="208.4">19</text><text x="64.4" y="209.7">19</text><text x="82.7" y="218.6">19</text><text x="59.5" y="209.9">19</text><text x="77.1" y="213.8">19</text><text x="58.7" y="217.4">19</text><text x="53.6" y="212.2">19</text><text x="53.9" y="220.6">19</text><text x="74.5" y="219.0">19</text><text x="55.9" y="215.7">19</text><text x="62.8" y="206.7">19</text><text x="72.9" y="216.1">19</text><text x="66.5" y="215.2">19</text><text x="75.8" y="214.0">19</text><text x="83.9" y="204.7">19</text><text x="81.3" y="210.7">19</text><text x="52.9" y="222.3">19</text><text x="55.9" y="219.2">19</text><text x="70.0" y="209.5">19</text><text x="53.7" y="216.9">19</text><text x="63.8" y="203.6">19</text><text x="68.7" y="214.7">19</text><text x="71.0" y="211.4">19</text><text x="71.1" y="219.0">19</text><text x="70.3" y="209.5">19</text><text x="56.1" y="216.6">19</text><text x="61.0" y="212.4">19</text><text x="73.0" y="219.6">19</text><text x="82.0" y="221.1">19</text><text x="82.0" y="211.2">19</text><text x="54.1" y="216.3">19</text><text x="83.7" y="211.4">19</text><text x="58.7" y="208.4">19</text><text x="63.4" y="223.6">19</text><text x="56.3" y="219.7">19</text><text x="77.2" y="217.5">19</text><text x="66.7" y="216.3">19</text><text x="73.4" y="219.1">19</text><text x="75.0" y="217.2">19</text><text x="53.9" y="208.9">19</text><text x="65.6" y="211.6">19</text><text x="58.3" y="212.5">19</text><text x="66.5" y="208.2">19</text><text x="63.7" y="214.8">19</text><text x="74.8" y="204.4">19</text><text x="77.1" y="221.9">19</text><text x="67.2" y="212.1">19</text><text x="76.7" y="217.6">19</text><text x="64.1" y="207.7">19</text><text x="57.8" y="211.9">19</text><text x="55.0" y="205.0">19</text><text x="57.2" y="215.1">19</text><text x="65.5" y="213.9">19</text><text x="69.4" y="207.4">19</text><text x="76.1" y="209.3">19</text><text x="77.1" y="215.9">19</text><text x="74.4" y="212.3">19</text><text x="75.3" y="212.2">19</text><text x="49.4" y="210.8">19</text><text x="84.8" y="212.4">19</text><text x="55.6" y="215.2">19</text><text x="78.7" y="214.5">19</text><text x="96.2" y="211.5">19</text><text x="95.2" y="221.7">19</text><text x="99.5" y="208.7">19</text><text x="78.3" y="219.7">19</text><text x="94.1" y="214.3">19</text><text x="88.3" y="206.2">19</text><text x="106.5" y="209.6">19</text><text x="113.0" y="216.7">19</text><text x="89.9" y="219.4">19</text><text x="86.1" y="212.2">19</text><text x="102.1" y="209.5">19</text><text x="111.6" y="209.6">19</text><text x="94.8" y="210.5">19</text><text x="89.2" y="210.4">19</text><text x="101.6" y="211.4">19</text><text x="89.9" y="215.7">19</text><text x="115.3" y="218.3">19</text><text x="102.7" y="207.3">19</text><text x="84.4" y="209.2">19</text><text x="99.5" y="201.7">19</text><text x="91.8" y="210.9">19</text><text x="108.8" y="209.8">19</text><text x="89.2" y="209.1">19</text><text x="88.8" y="215.5">19</text><text x="108.8" y="214.4">19</text><text x="99.7" y="207.9">19</text><text x="102.3" y="212.9">19</text><text x="94.6" y="208.2">19</text><text x="110.3" y="205.6">19</text><text x="91.5" y="200.1">19</text><text x="84.8" y="213.4">19</text><text x="110.9" y="220.5">19</text><text x="106.5" y="199.1">19</text><text x="89.4" y="217.3">19</text><text x="107.1" y="211.7">19</text><text x="109.4" y="215.8">19</text><text x="94.5" y="216.0">19</text><text x="106.3" y="211.1">19</text><text x="116.7" y="211.4">19</text><text x="89.6" y="214.4">19</text><text x="91.2" y="215.4">19</text><text x="100.6" y="204.2">19</text><text x="89.2" y="211.7">19</text><text x="91.6" y="204.6">19</text><text x="110.7" y="206.3">19</text><text x="84.0" y="217.9">19</text><text x="114.2" y="213.0">19</text><text x="100.4" y="204.7">19</text><text x="100.0" y="208.2">19</text><text x="88.5" y="215.2">19</text><text x="111.0" y="212.1">19</text><text x="98.1" y="211.9">19</text><text x="108.8" y="210.8">19</text><text x="96.0" y="206.0">19</text><text x="115.3" y="216.6">19</text><text x="89.3" y="213.6">19</text><text x="111.3" y="221.0">19</text><text x="89.1" y="215.8">19</text><text x="105.4" y="212.8">19</text><text x="110.5" y="217.3">19</text><text x="119.5" y="214.8">19</text><text x="89.3" y="212.3">19</text><text x="103.9" y="213.5">19</text><text x="106.5" y="209.1">19</text><text x="113.8" y="218.7">19</text><text x="103.2" y="213.8">19</text><text x="90.4" y="209.5">19</text><text x="91.6" y="217.3">19</text><text x="90.0" y="204.3">19</text><text x="116.5" y="207.1">19</text><text x="97.1" y="213.4">19</text><text x="102.9" y="211.9">19</text><text x="100.2" y="220.0">19</text><text x="80.6" y="215.7">19</text><text x="87.4" y="209.7">19</text><text x="105.2" y="215.2">19</text><text x="104.9" y="210.0">19</text><text x="110.1" y="214.8">19</text><text x="110.5" y="209.4">19</text><text x="59.2" y="188.7">19</text><text x="59.8" y="194.3">19</text><text x="51.4" y="197.1">19</text><text x="39.9" y="201.4">19</text><text x="46.2" y="202.2">19</text><text x="36.7" y="206.5">19</text><text x="34.6" y="212.6">19</text><text x="32.5" y="219.1">19</text><text x="58.8" y="224.2">19</text><text x="58.3" y="230.8">19</text><text x="77.6" y="222.4">19</text><text x="85.0" y="228.3">19</text><text x="97.6" y="229.5">19</text><text x="112.2" y="196.6">19</text><text x="126.9" y="209.3">19</text><text x="140.5" y="212.1">19</text><text x="121.7" y="214.0">19</text><text x="115.0" y="235.5">19</text><text x="79.3" y="191.5">19</text><text x="83.9" y="191.5">19</text><text x="42.0" y="201.7">19</text><text x="44.0" y="207.9">19</text></g></g><g class="ax"><rect x="22.50" y="201.00" width="122.0" height="63.6" fill="none" stroke="#5a5a5a" stroke-width="1.25"/>
<text transform="translate(83.50,198.50) scale(1,1.12)" text-anchor="middle" font-weight="bold" font-size="5.65">I Lung.LUAD bicor=-0.019, p=0.75</text>
<text transform="translate(83.50,286.10) scale(1,1.15)" text-anchor="middle" font-size="5.65">Log10(No. of mutations)</text>
<text transform="translate(5.50,232.80) rotate(-90) scale(1,1.07)" text-anchor="middle" font-size="5.65">Age Acceleration</text>
<line x1="38.10" y1="264.60" x2="38.10" y2="267.80" stroke="#444" stroke-width="0.9"/>
<text transform="translate(38.10,275.50) scale(1,1.15)" text-anchor="middle" font-size="5.65">1.5</text>
<line x1="60.10" y1="264.60" x2="60.10" y2="267.80" stroke="#444" stroke-width="0.9"/>
<text transform="translate(60.10,275.50) scale(1,1.15)" text-anchor="middle" font-size="5.65">2.0</text>
<line x1="82.10" y1="264.60" x2="82.10" y2="267.80" stroke="#444" stroke-width="0.9"/>
<text transform="translate(82.10,275.50) scale(1,1.15)" text-anchor="middle" font-size="5.65">2.5</text>
<line x1="104.10" y1="264.60" x2="104.10" y2="267.80" stroke="#444" stroke-width="0.9"/>
<text transform="translate(104.10,275.50) scale(1,1.15)" text-anchor="middle" font-size="5.65">3.0</text>
<line x1="126.10" y1="264.60" x2="126.10" y2="267.80" stroke="#444" stroke-width="0.9"/>
<text transform="translate(126.10,275.50) scale(1,1.15)" text-anchor="middle" font-size="5.65">3.5</text>
<line x1="19.30" y1="259.50" x2="22.50" y2="259.50" stroke="#444" stroke-width="0.9"/>
<text transform="translate(16.90,259.50) rotate(-90) scale(1,1.15)" text-anchor="middle" font-size="5.65">-60</text>
<line x1="19.30" y1="251.33" x2="22.50" y2="251.33" stroke="#444" stroke-width="0.9"/>
<line x1="19.30" y1="243.17" x2="22.50" y2="243.17" stroke="#444" stroke-width="0.9"/>
<text transform="translate(16.90,243.17) rotate(-90) scale(1,1.15)" text-anchor="middle" font-size="5.65">-20</text>
<line x1="19.30" y1="235.00" x2="22.50" y2="235.00" stroke="#444" stroke-width="0.9"/>
<line x1="19.30" y1="226.83" x2="22.50" y2="226.83" stroke="#444" stroke-width="0.9"/>
<text transform="translate(16.90,226.83) rotate(-90) scale(1,1.15)" text-anchor="middle" font-size="5.65">20</text>
<line x1="19.30" y1="218.67" x2="22.50" y2="218.67" stroke="#444" stroke-width="0.9"/>
<line x1="19.30" y1="210.50" x2="22.50" y2="210.50" stroke="#444" stroke-width="0.9"/>
<text transform="translate(16.90,210.50) rotate(-90) scale(1,1.15)" text-anchor="middle" font-size="5.65">60</text>
<line x1="19.30" y1="202.33" x2="22.50" y2="202.33" stroke="#444" stroke-width="0.9"/></g>
<g font-size="4.7" text-anchor="middle" stroke-width="0.22" transform="scale(1,1.12)"><g fill="#4169E1" stroke="#4169E1"><text x="247.7" y="224.0">20</text><text x="256.0" y="227.5">20</text><text x="245.8" y="213.8">20</text><text x="235.2" y="223.9">20</text><text x="247.3" y="216.3">20</text><text x="244.9" y="224.0">20</text><text x="248.3" y="233.9">20</text><text x="256.0" y="205.0">20</text><text x="254.2" y="219.3">20</text><text x="254.7" y="207.4">20</text><text x="229.8" y="220.9">20</text><text x="263.5" y="220.6">20</text><text x="258.1" y="211.5">20</text><text x="238.3" y="203.8">20</text><text x="249.7" y="220.1">20</text><text x="246.9" y="219.8">20</text><text x="247.3" y="221.8">20</text><text x="260.7" y="211.6">20</text><text x="256.8" y="209.7">20</text><text x="258.5" y="211.7">20</text><text x="244.8" y="214.6">20</text><text x="241.6" y="220.5">20</text><text x="248.8" y="225.2">20</text><text x="255.6" y="222.0">20</text><text x="255.1" y="218.4">20</text><text x="239.4" y="227.1">20</text><text x="260.8" y="224.2">20</text><text x="256.2" y="224.8">20</text><text x="262.6" y="220.1">20</text><text x="249.0" y="220.0">20</text><text x="243.3" y="221.0">20</text><text x="253.4" y="213.3">20</text><text x="242.1" y="221.1">20</text><text x="252.0" y="224.2">20</text><text x="238.2" y="211.2">20</text><text x="251.8" y="213.3">20</text><text x="250.7" y="234.4">20</text><text x="253.6" y="209.9">20</text><text x="244.3" y="229.3">20</text><text x="252.9" y="216.2">20</text><text x="258.7" y="219.3">20</text><text x="242.1" y="220.2">20</text><text x="234.4" y="234.8">20</text><text x="257.1" y="217.1">20</text><text x="243.7" y="223.1">20</text><text x="247.2" y="208.0">20</text><text x="240.6" y="218.6">20</text><text x="228.3" y="204.5">20</text><text x="250.9" y="234.9">20</text><text x="254.1" y="225.2">20</text><text x="261.8" y="230.2">20</text><text x="248.4" y="227.8">20</text><text x="237.2" y="221.7">20</text><text x="248.3" y="210.3">20</text><text x="250.2" y="218.5">20</text><text x="226.8" y="225.2">20</text><text x="259.5" y="215.8">20</text><text x="242.4" y="229.1">20</text><text x="243.5" y="231.0">20</text><text x="255.1" y="220.9">20</text><text x="234.3" y="212.8">20</text><text x="249.7" y="228.5">20</text><text x="237.3" y="217.4">20</text><text x="232.1" y="230.7">20</text><text x="257.9" y="228.9">20</text><text x="236.8" y="228.4">20</text><text x="245.7" y="221.8">20</text><text x="232.8" y="221.1">20</text><text x="237.6" y="204.3">20</text><text x="251.4" y="222.6">20</text><text x="257.1" y="228.4">20</text><text x="241.3" y="210.5">20</text><text x="258.8" y="216.2">20</text><text x="241.2" y="230.2">20</text><text x="245.5" y="227.3">20</text><text x="254.1" y="218.7">20</text><text x="253.3" y="214.5">20</text><text x="240.4" y="216.5">20</text><text x="229.1" y="222.7">20</text><text x="256.4" y="213.3">20</text><text x="237.1" y="220.4">20</text><text x="246.1" y="222.7">20</text><text x="260.0" y="235.1">20</text><text x="255.3" y="231.8">20</text><text x="241.1" y="223.4">20</text><text x="248.3" y="218.0">20</text><text x="239.8" y="220.0">20</text><text x="258.9" y="224.0">20</text><text x="239.6" y="218.3">20</text><text x="246.0" y="227.7">20</text><text x="248.6" y="229.8">20</text><text x="242.0" y="229.5">20</text><text x="259.6" y="226.9">20</text><text x="246.1" y="211.7">20</text><text x="243.0" y="215.9">20</text><text x="243.7" y="205.0">20</text><text x="242.5" y="216.9">20</text><text x="247.2" y="210.0">20</text><text x="242.2" y="234.7">20</text><text x="257.9" y="216.1">20</text><text x="178.9" y="210.2">20</text><text x="287.9" y="230.4">20</text><text x="272.1" y="221.0">20</text><text x="257.0" y="193.3">20</text><text x="225.0" y="201.7">20</text><text x="235.6" y="197.8">20</text><text x="238.1" y="200.5">20</text><text x="259.5" y="200.5">20</text><text x="225.6" y="223.7">20</text><text x="226.2" y="201.8">20</text><text x="235.4" y="198.2">20</text><text x="256.7" y="193.4">20</text><text x="259.3" y="199.8">20</text><text x="224.8" y="223.5">20</text><text x="267.0" y="207.7">20</text><text x="271.4" y="221.1">20</text><text x="289.1" y="229.9">20</text><text x="237.8" y="200.6">20</text></g><g fill="#8B0000" stroke="#8B0000"><text x="240.3" y="216.7">21</text><text x="241.3" y="220.8">21</text><text x="244.8" y="216.4">21</text><text x="240.3" y="219.7">21</text><text x="235.3" y="217.9">21</text><text x="242.6" y="221.0">21</text><text x="242.0" y="210.7">21</text><text x="239.1" y="220.8">21</text><text x="234.8" y="214.0">21</text><text x="242.8" y="219.5">21</text><text x="243.5" y="211.6">21</text><text x="243.2" y="215.1">21</text><text x="242.9" y="215.0">21</text><text x="238.5" y="216.8">21</text><text x="244.1" y="215.3">21</text><text x="238.6" y="212.6">21</text><text x="241.9" y="215.1">21</text><text x="240.7" y="213.9">21</text><text x="235.4" y="216.5">21</text><text x="244.0" y="219.6">21</text><text x="235.4" y="220.0">21</text><text x="240.2" y="217.9">21</text><text x="234.9" y="223.2">21</text><text x="240.4" y="218.0">21</text><text x="241.6" y="210.9">21</text><text x="241.0" y="216.2">21</text><text x="242.8" y="213.6">21</text><text x="242.4" y="223.6">21</text><text x="244.1" y="217.3">21</text><text x="240.7" y="223.6">21</text><text x="240.6" y="218.9">21</text><text x="237.9" y="217.6">21</text><text x="242.4" y="211.2">21</text><text x="241.8" y="215.7">21</text><text x="245.2" y="215.5">21</text><text x="238.0" y="223.0">21</text><text x="238.0" y="215.7">21</text><text x="240.5" y="218.5">21</text><text x="235.0" y="223.1">21</text><text x="242.0" y="215.7">21</text><text x="242.6" y="209.2">21</text><text x="242.4" y="213.2">21</text><text x="240.1" y="213.1">21</text><text x="237.6" y="209.7">21</text><text x="244.4" y="214.0">21</text><text x="239.9" y="213.2">21</text><text x="242.1" y="216.0">21</text><text x="241.4" y="219.7">21</text><text x="235.8" y="222.6">21</text><text x="240.1" y="210.0">21</text><text x="235.6" y="220.0">21</text><text x="237.6" y="217.3">21</text><text x="242.9" y="219.6">21</text><text x="237.8" y="214.1">21</text><text x="241.4" y="216.4">21</text><text x="239.8" y="218.0">21</text><text x="238.6" y="217.1">21</text><text x="242.5" y="211.5">21</text><text x="241.9" y="216.4">21</text><text x="236.3" y="215.8">21</text><text x="239.2" y="212.3">21</text><text x="243.8" y="212.5">21</text><text x="237.9" y="217.6">21</text><text x="243.8" y="220.1">21</text><text x="236.0" y="219.4">21</text><text x="241.4" y="218.1">21</text><text x="239.3" y="210.6">21</text><text x="235.4" y="214.0">21</text><text x="235.9" y="219.6">21</text><text x="240.6" y="216.6">21</text><text x="242.5" y="214.5">21</text><text x="237.6" y="217.7">21</text><text x="240.1" y="212.7">21</text><text x="241.8" y="213.0">21</text><text x="239.0" y="219.3">21</text><text x="235.4" y="213.2">21</text><text x="242.4" y="218.1">21</text><text x="238.6" y="222.5">21</text><text x="236.5" y="216.3">21</text><text x="240.2" y="213.7">21</text><text x="239.6" y="217.9">21</text><text x="242.9" y="210.7">21</text><text x="242.9" y="213.9">21</text><text x="234.5" y="217.1">21</text><text x="236.8" y="214.0">21</text><text x="242.5" y="211.7">21</text><text x="239.4" y="208.1">21</text><text x="237.0" y="213.1">21</text><text x="243.2" y="218.3">21</text><text x="243.9" y="211.0">21</text><text x="237.6" y="214.3">21</text><text x="240.5" y="214.4">21</text><text x="242.1" y="220.0">21</text><text x="239.1" y="214.8">21</text><text x="243.5" y="212.8">21</text><text x="241.8" y="224.4">21</text><text x="243.7" y="219.8">21</text><text x="236.7" y="212.4">21</text><text x="243.0" y="212.5">21</text><text x="239.2" y="216.0">21</text><text x="237.6" y="211.3">21</text><text x="244.5" y="215.8">21</text><text x="237.9" y="213.9">21</text><text x="243.3" y="220.0">21</text><text x="244.4" y="213.5">21</text><text x="237.9" y="215.1">21</text><text x="241.8" y="218.2">21</text><text x="243.9" y="208.8">21</text><text x="238.3" y="218.5">21</text><text x="235.1" y="213.7">21</text><text x="238.9" y="208.3">21</text><text x="242.5" y="217.8">21</text><text x="234.8" y="222.2">21</text><text x="236.0" y="216.1">21</text><text x="239.3" y="209.5">21</text><text x="237.1" y="219.4">21</text><text x="241.3" y="212.2">21</text><text x="241.3" y="210.8">21</text><text x="240.1" y="219.3">21</text><text x="240.4" y="217.0">21</text><text x="239.3" y="223.5">21</text><text x="235.3" y="208.0">21</text><text x="241.4" y="219.7">21</text><text x="238.2" y="216.8">21</text><text x="237.8" y="214.4">21</text><text x="241.2" y="212.4">21</text><text x="237.8" y="223.0">21</text><text x="236.1" y="223.3">21</text><text x="241.7" y="215.5">21</text><text x="242.0" y="212.9">21</text><text x="240.1" y="218.5">21</text><text x="239.2" y="214.7">21</text><text x="241.5" y="215.4">21</text><text x="240.6" y="212.2">21</text><text x="237.9" y="219.9">21</text><text x="236.7" y="221.2">21</text><text x="237.3" y="215.6">21</text><text x="236.1" y="220.5">21</text><text x="242.8" y="221.3">21</text><text x="236.3" y="219.4">21</text><text x="239.3" y="218.0">21</text><text x="238.5" y="217.5">21</text><text x="240.1" y="217.2">21</text><text x="242.2" y="217.4">21</text><text x="236.3" y="219.1">21</text><text x="237.8" y="218.4">21</text><text x="242.1" y="218.9">21</text><text x="245.1" y="221.2">21</text><text x="238.5" y="211.4">21</text><text x="238.7" y="213.9">21</text><text x="234.3" y="218.4">21</text><text x="236.9" y="211.8">21</text><text x="240.0" y="217.2">21</text><text x="241.1" y="218.3">21</text><text x="236.9" y="216.9">21</text><text x="240.8" y="220.7">21</text><text x="240.5" y="208.1">21</text><text x="236.9" y="216.6">21</text><text x="236.8" y="215.7">21</text><text x="239.7" y="218.7">21</text><text x="242.9" y="211.2">21</text><text x="237.4" y="219.8">21</text><text x="238.5" y="214.6">21</text><text x="241.1" y="215.9">21</text><text x="242.0" y="219.0">21</text><text x="236.0" y="216.7">21</text><text x="238.9" y="210.5">21</text><text x="240.7" y="217.3">21</text><text x="243.9" y="222.1">21</text><text x="241.2" y="211.6">21</text><text x="237.3" y="221.4">21</text><text x="241.0" y="214.4">21</text><text x="241.8" y="221.4">21</text><text x="239.7" y="215.1">21</text><text x="236.4" y="218.3">21</text><text x="238.8" y="210.0">21</text><text x="240.5" y="217.5">21</text><text x="241.6" y="211.3">21</text><text x="240.3" y="220.5">21</text><text x="236.7" y="216.7">21</text><text x="242.8" y="217.6">21</text><text x="238.3" y="215.0">21</text><text x="242.6" y="211.1">21</text><text x="237.0" y="218.9">21</text><text x="242.8" y="220.2">21</text><text x="236.4" y="221.5">21</text><text x="235.2" y="213.1">21</text><text x="239.6" y="214.3">21</text><text x="243.6" y="219.1">21</text><text x="238.5" y="217.1">21</text><text x="237.6" y="216.5">21</text><text x="241.1" y="210.5">21</text><text x="243.6" y="211.4">21</text><text x="242.2" y="219.4">21</text><text x="241.5" y="215.7">21</text><text x="239.9" y="215.0">21</text><text x="245.8" y="222.2">21</text><text x="243.3" y="214.4">21</text><text x="238.3" y="219.0">21</text><text x="244.3" y="212.9">21</text><text x="238.8" y="218.2">21</text><text x="236.2" y="219.8">21</text><text x="238.7" y="209.1">21</text><text x="242.1" y="213.9">21</text><text x="245.1" y="217.6">21</text><text x="235.4" y="209.7">21</text><text x="236.1" y="221.2">21</text><text x="240.2" y="221.0">21</text><text x="237.2" y="218.7">21</text><text x="239.7" y="215.0">21</text><text x="243.0" y="217.7">21</text><text x="241.7" y="219.5">21</text><text x="237.1" y="212.9">21</text><text x="241.8" y="214.4">21</text><text x="235.3" y="214.8">21</text><text x="240.9" y="214.8">21</text><text x="242.4" y="218.7">21</text><text x="243.8" y="221.6">21</text><text x="238.8" y="218.5">21</text><text x="236.5" y="213.1">21</text><text x="242.4" y="215.7">21</text><text x="244.8" y="220.9">21</text><text x="237.7" y="216.2">21</text><text x="239.5" y="219.7">21</text><text x="236.9" y="220.0">21</text><text x="240.7" y="216.2">21</text><text x="237.8" y="218.3">21</text><text x="235.8" y="211.0">21</text><text x="234.7" y="219.4">21</text><text x="238.5" y="220.5">21</text><text x="246.8" y="224.1">21</text><text x="255.5" y="204.7">21</text><text x="230.4" y="222.0">21</text></g><g fill="#4169E1" stroke="#4169E1"><text x="263.0" y="224.1">20</text></g><g fill="#8B0000" stroke="#8B0000"><text x="260.8" y="206.9">21</text><text x="239.1" y="229.2">21</text><text x="243.1" y="223.2">21</text><text x="259.8" y="232.0">21</text></g><g fill="#4169E1" stroke="#4169E1"><text x="254.4" y="225.7">20</text></g><g fill="#8B0000" stroke="#8B0000"><text x="254.1" y="208.9">21</text><text x="248.2" y="226.8">21</text><text x="245.1" y="233.0">21</text></g><g fill="#4169E1" stroke="#4169E1"><text x="260.1" y="229.3">20</text></g><g fill="#8B0000" stroke="#8B0000"><text x="257.8" y="218.3">21</text><text x="264.3" y="212.5">21</text></g><g fill="#4169E1" stroke="#4169E1"><text x="254.7" y="225.5">20</text><text x="255.0" y="228.6">20</text><text x="262.1" y="220.9">20</text><text x="262.7" y="224.0">20</text><text x="253.6" y="232.7">20</text><text x="253.2" y="215.7">20</text><text x="256.5" y="227.6">20</text><text x="240.0" y="233.6">20</text></g><g fill="#8B0000" stroke="#8B0000"><text x="249.2" y="218.7">21</text><text x="259.0" y="218.8">21</text></g><g fill="#4169E1" stroke="#4169E1"><text x="257.6" y="220.5">20</text></g><g fill="#8B0000" stroke="#8B0000"><text x="265.7" y="230.6">21</text><text x="254.0" y="230.9">21</text><text x="242.8" y="210.9">21</text></g><g fill="#4169E1" stroke="#4169E1"><text x="249.3" y="223.8">20</text><text x="257.9" y="225.7">20</text><text x="242.8" y="221.0">20</text></g><g fill="#8B0000" stroke="#8B0000"><text x="242.7" y="232.6">21</text><text x="258.1" y="225.2">21</text><text x="250.9" y="224.9">21</text><text x="243.6" y="216.4">21</text><text x="257.6" y="223.1">21</text><text x="262.6" y="229.1">21</text><text x="264.7" y="221.8">21</text></g><g fill="#4169E1" stroke="#4169E1"><text x="247.8" y="224.4">20</text></g><g fill="#8B0000" stroke="#8B0000"><text x="252.7" y="226.0">21</text><text x="240.5" y="214.1">21</text></g><g fill="#4169E1" stroke="#4169E1"><text x="248.1" y="218.3">20</text><text x="248.9" y="216.9">20</text></g><g fill="#8B0000" stroke="#8B0000"><text x="239.2" y="233.8">21</text></g><g fill="#4169E1" stroke="#4169E1"><text x="260.6" y="228.3">20</text><text x="251.9" y="218.9">20</text><text x="250.3" y="230.9">20</text></g><g fill="#8B0000" stroke="#8B0000"><text x="256.5" y="225.0">21</text><text x="265.2" y="219.2">21</text><text x="273.2" y="212.5">21</text></g><g fill="#4169E1" stroke="#4169E1"><text x="250.3" y="218.6">20</text></g><g fill="#8B0000" stroke="#8B0000"><text x="251.4" y="225.3">21</text><text x="218.6" y="216.0">21</text><text x="252.3" y="219.7">21</text><text x="251.8" y="226.5">21</text></g><g fill="#4169E1" stroke="#4169E1"><text x="255.7" y="229.0">20</text></g><g fill="#8B0000" stroke="#8B0000"><text x="251.2" y="223.7">21</text></g><g fill="#4169E1" stroke="#4169E1"><text x="257.2" y="223.1">20</text></g><g fill="#8B0000" stroke="#8B0000"><text x="235.7" y="226.4">21</text></g><g fill="#4169E1" stroke="#4169E1"><text x="251.7" y="231.9">20</text></g><g fill="#8B0000" stroke="#8B0000"><text x="250.3" y="217.6">21</text></g><g fill="#4169E1" stroke="#4169E1"><text x="249.8" y="233.0">20</text></g><g fill="#8B0000" stroke="#8B0000"><text x="256.3" y="218.5">21</text><text x="233.4" y="224.4">21</text><text x="261.2" y="218.9">21</text></g><g fill="#4169E1" stroke="#4169E1"><text x="255.1" y="220.5">20</text><text x="244.5" y="216.4">20</text></g><g fill="#8B0000" stroke="#8B0000"><text x="251.4" y="231.0">21</text><text x="255.6" y="215.4">21</text><text x="176.4" y="217.6">21</text></g><g fill="#4169E1" stroke="#4169E1"><text x="256.3" y="232.1">20</text></g><g fill="#8B0000" stroke="#8B0000"><text x="257.4" y="214.8">21</text><text x="218.0" y="214.7">21</text></g><g fill="#4169E1" stroke="#4169E1"><text x="258.4" y="226.3">20</text></g><g fill="#8B0000" stroke="#8B0000"><text x="260.1" y="223.2">21</text><text x="253.2" y="231.2">21</text><text x="252.8" y="220.7">21</text><text x="254.2" y="220.1">21</text><text x="231.0" y="232.2">21</text></g><g fill="#4169E1" stroke="#4169E1"><text x="247.2" y="214.7">20</text></g><g fill="#8B0000" stroke="#8B0000"><text x="259.1" y="223.8">21</text><text x="259.0" y="224.3">21</text></g><g fill="#4169E1" stroke="#4169E1"><text x="255.6" y="224.4">20</text></g><g fill="#8B0000" stroke="#8B0000"><text x="245.4" y="227.0">21</text></g><g fill="#4169E1" stroke="#4169E1"><text x="252.6" y="231.1">20</text></g><g fill="#8B0000" stroke="#8B0000"><text x="249.3" y="223.6">21</text><text x="272.3" y="207.7">21</text></g><g fill="#4169E1" stroke="#4169E1"><text x="247.2" y="227.7">20</text></g><g fill="#8B0000" stroke="#8B0000"><text x="248.4" y="231.8">21</text><text x="251.3" y="215.6">21</text></g><g fill="#4169E1" stroke="#4169E1"><text x="245.6" y="224.9">20</text><text x="251.7" y="225.2">20</text></g><g fill="#8B0000" stroke="#8B0000"><text x="251.0" y="202.9">21</text><text x="246.4" y="200.6">21</text></g><g fill="#4169E1" stroke="#4169E1"><text x="259.0" y="224.8">20</text></g><g fill="#8B0000" stroke="#8B0000"><text x="261.1" y="206.9">21</text></g><g fill="#4169E1" stroke="#4169E1"><text x="256.9" y="224.8">20</text></g><g fill="#8B0000" stroke="#8B0000"><text x="253.9" y="212.8">21</text><text x="249.5" y="229.5">21</text><text x="239.2" y="222.7">21</text></g><g fill="#4169E1" stroke="#4169E1"><text x="251.8" y="224.0">20</text><text x="257.4" y="224.5">20</text></g><g fill="#8B0000" stroke="#8B0000"><text x="244.6" y="227.1">21</text><text x="252.7" y="235.4">21</text></g></g><g class="ax"><rect x="172.10" y="201.00" width="122.0" height="63.6" fill="none" stroke="#5a5a5a" stroke-width="1.25"/>
<text transform="translate(233.10,198.50) scale(1,1.12)" text-anchor="middle" font-weight="bold" font-size="5.65">J Lung.LUSC bicor=-0.052, p=0.45</text>
<text transform="translate(233.10,286.10) scale(1,1.15)" text-anchor="middle" font-size="5.65">Log10(No. of mutations)</text>
<text transform="translate(155.10,232.80) rotate(-90) scale(1,1.07)" text-anchor="middle" font-size="5.65">Age Acceleration</text>
<line x1="185.30" y1="264.60" x2="185.30" y2="267.80" stroke="#444" stroke-width="0.9"/>
<text transform="translate(185.30,275.50) scale(1,1.15)" text-anchor="middle" font-size="5.65">1.0</text>
<line x1="205.44" y1="264.60" x2="205.44" y2="267.80" stroke="#444" stroke-width="0.9"/>
<text transform="translate(205.44,275.50) scale(1,1.15)" text-anchor="middle" font-size="5.65">1.5</text>
<line x1="225.58" y1="264.60" x2="225.58" y2="267.80" stroke="#444" stroke-width="0.9"/>
<text transform="translate(225.58,275.50) scale(1,1.15)" text-anchor="middle" font-size="5.65">2.0</text>
<line x1="245.72" y1="264.60" x2="245.72" y2="267.80" stroke="#444" stroke-width="0.9"/>
<text transform="translate(245.72,275.50) scale(1,1.15)" text-anchor="middle" font-size="5.65">2.5</text>
<line x1="265.86" y1="264.60" x2="265.86" y2="267.80" stroke="#444" stroke-width="0.9"/>
<text transform="translate(265.86,275.50) scale(1,1.15)" text-anchor="middle" font-size="5.65">3.0</text>
<line x1="286.00" y1="264.60" x2="286.00" y2="267.80" stroke="#444" stroke-width="0.9"/>
<text transform="translate(286.00,275.50) scale(1,1.15)" text-anchor="middle" font-size="5.65">3.5</text>
<line x1="168.90" y1="262.60" x2="172.10" y2="262.60" stroke="#444" stroke-width="0.9"/>
<text transform="translate(166.50,262.60) rotate(-90) scale(1,1.15)" text-anchor="middle" font-size="5.65">-60</text>
<line x1="168.90" y1="252.87" x2="172.10" y2="252.87" stroke="#444" stroke-width="0.9"/>
<line x1="168.90" y1="243.13" x2="172.10" y2="243.13" stroke="#444" stroke-width="0.9"/>
<text transform="translate(166.50,243.13) rotate(-90) scale(1,1.15)" text-anchor="middle" font-size="5.65">-20</text>
<line x1="168.90" y1="233.40" x2="172.10" y2="233.40" stroke="#444" stroke-width="0.9"/>
<line x1="168.90" y1="223.67" x2="172.10" y2="223.67" stroke="#444" stroke-width="0.9"/>
<text transform="translate(166.50,223.67) rotate(-90) scale(1,1.15)" text-anchor="middle" font-size="5.65">20</text>
<line x1="168.90" y1="213.93" x2="172.10" y2="213.93" stroke="#444" stroke-width="0.9"/>
<line x1="168.90" y1="204.20" x2="172.10" y2="204.20" stroke="#444" stroke-width="0.9"/>
<text transform="translate(166.50,204.20) rotate(-90) scale(1,1.15)" text-anchor="middle" font-size="5.65">60</text></g>
<g font-size="4.7" text-anchor="middle" stroke-width="0.22" transform="scale(1,1.12)"><g fill="#006400" stroke="#006400"><text x="326.2" y="210.4">22</text><text x="326.2" y="216.7">22</text><text x="326.2" y="217.6">22</text><text x="344.8" y="214.5">22</text><text x="352.8" y="217.2">22</text><text x="356.8" y="217.2">22</text><text x="351.5" y="220.8">22</text><text x="352.8" y="225.6">22</text><text x="356.8" y="225.6">22</text><text x="367.5" y="217.6">22</text><text x="370.5" y="207.7">22</text><text x="376.7" y="206.9">22</text><text x="380.2" y="205.3">22</text><text x="372.8" y="212.5">22</text><text x="373.1" y="215.1">22</text><text x="375.3" y="216.4">22</text><text x="376.7" y="224.3">22</text><text x="394.4" y="197.5">22</text><text x="412.1" y="206.9">22</text><text x="420.1" y="206.1">22</text><text x="428.4" y="206.6">22</text><text x="436.9" y="230.6">22</text><text x="413.9" y="235.4">22</text><text x="420.1" y="233.0">22</text><text x="353.5" y="225.3">22</text><text x="352.0" y="216.8">22</text><text x="410.8" y="218.7">22</text><text x="409.6" y="220.5">22</text><text x="412.2" y="227.7">22</text><text x="391.0" y="225.7">22</text><text x="417.0" y="221.5">22</text><text x="429.9" y="214.5">22</text><text x="409.7" y="225.8">22</text><text x="398.0" y="213.5">22</text><text x="401.8" y="222.2">22</text><text x="432.3" y="228.0">22</text><text x="403.2" y="225.3">22</text><text x="405.0" y="218.5">22</text><text x="426.4" y="227.4">22</text><text x="416.6" y="227.0">22</text><text x="421.5" y="222.3">22</text><text x="410.2" y="220.8">22</text><text x="413.1" y="218.6">22</text><text x="420.8" y="224.3">22</text><text x="411.2" y="216.8">22</text><text x="400.7" y="219.4">22</text><text x="399.7" y="219.5">22</text><text x="392.9" y="221.9">22</text><text x="400.1" y="219.2">22</text><text x="411.3" y="218.6">22</text><text x="425.0" y="227.0">22</text><text x="384.7" y="221.0">22</text><text x="400.4" y="214.0">22</text><text x="423.5" y="231.2">22</text><text x="392.3" y="218.0">22</text><text x="419.4" y="221.1">22</text><text x="395.7" y="224.4">22</text><text x="399.2" y="224.4">22</text><text x="421.5" y="213.2">22</text><text x="404.8" y="211.1">22</text><text x="435.3" y="224.6">22</text><text x="421.3" y="222.2">22</text><text x="418.4" y="228.9">22</text><text x="388.8" y="227.9">22</text><text x="406.2" y="222.7">22</text><text x="412.0" y="222.1">22</text><text x="438.4" y="220.2">22</text><text x="413.6" y="223.1">22</text><text x="390.5" y="215.4">22</text><text x="402.8" y="220.3">22</text><text x="403.4" y="218.3">22</text><text x="421.8" y="226.6">22</text><text x="423.8" y="218.4">22</text><text x="408.6" y="222.8">22</text><text x="407.0" y="218.8">22</text><text x="417.1" y="221.6">22</text><text x="402.7" y="230.3">22</text><text x="420.7" y="215.4">22</text><text x="427.1" y="218.9">22</text><text x="385.4" y="215.8">22</text><text x="430.2" y="211.4">22</text><text x="407.9" y="220.9">22</text><text x="417.2" y="213.6">22</text><text x="388.8" y="218.9">22</text><text x="426.5" y="219.4">22</text><text x="408.4" y="214.4">22</text><text x="395.6" y="221.0">22</text><text x="412.8" y="218.3">22</text><text x="422.4" y="218.6">22</text><text x="406.1" y="232.0">22</text><text x="419.3" y="215.9">22</text><text x="406.4" y="221.7">22</text><text x="405.5" y="217.2">22</text><text x="388.3" y="217.0">22</text><text x="419.1" y="224.1">22</text><text x="407.4" y="217.2">22</text><text x="399.5" y="213.6">22</text><text x="410.9" y="214.3">22</text><text x="401.8" y="221.3">22</text><text x="432.9" y="217.4">22</text><text x="414.3" y="226.1">22</text><text x="429.4" y="230.9">22</text><text x="398.5" y="224.6">22</text><text x="378.6" y="227.8">22</text><text x="408.2" y="221.0">22</text><text x="405.7" y="223.8">22</text><text x="412.2" y="212.1">22</text><text x="388.5" y="209.6">22</text><text x="415.7" y="224.0">22</text><text x="429.9" y="219.4">22</text><text x="405.6" y="218.2">22</text><text x="430.2" y="213.1">22</text><text x="407.4" y="211.3">22</text><text x="410.5" y="215.4">22</text><text x="401.9" y="226.6">22</text><text x="388.8" y="211.2">22</text><text x="378.3" y="214.3">22</text><text x="390.9" y="211.6">22</text><text x="406.5" y="217.8">22</text><text x="421.6" y="216.3">22</text><text x="385.1" y="227.8">22</text><text x="389.5" y="214.1">22</text><text x="388.0" y="224.4">22</text><text x="410.6" y="220.3">22</text><text x="422.2" y="211.4">22</text><text x="415.0" y="227.0">22</text><text x="398.8" y="226.2">22</text><text x="416.0" y="217.4">22</text><text x="386.7" y="227.9">22</text><text x="431.6" y="224.4">22</text><text x="389.1" y="211.0">22</text><text x="376.8" y="220.8">22</text><text x="397.1" y="227.7">22</text><text x="409.4" y="228.1">22</text><text x="408.0" y="222.7">22</text><text x="391.0" y="224.0">22</text></g></g><g class="ax"><rect x="321.70" y="201.00" width="122.0" height="63.6" fill="none" stroke="#5a5a5a" stroke-width="1.25"/>
<text transform="translate(382.70,198.50) scale(1,1.12)" text-anchor="middle" font-weight="bold" font-size="5.65">K Ovary bicor=-0.25, p=0.0024</text>
<text transform="translate(382.70,286.10) scale(1,1.15)" text-anchor="middle" font-size="5.65">Log10(No. of mutations)</text>
<text transform="translate(304.70,232.80) rotate(-90) scale(1,1.07)" text-anchor="middle" font-size="5.65">Age Acceleration</text>
<line x1="338.40" y1="264.60" x2="338.40" y2="267.80" stroke="#444" stroke-width="0.9"/>
<text transform="translate(338.40,275.50) scale(1,1.15)" text-anchor="middle" font-size="5.65">0.5</text>
<line x1="370.43" y1="264.60" x2="370.43" y2="267.80" stroke="#444" stroke-width="0.9"/>
<text transform="translate(370.43,275.50) scale(1,1.15)" text-anchor="middle" font-size="5.65">1.0</text>
<line x1="402.47" y1="264.60" x2="402.47" y2="267.80" stroke="#444" stroke-width="0.9"/>
<text transform="translate(402.47,275.50) scale(1,1.15)" text-anchor="middle" font-size="5.65">1.5</text>
<line x1="434.50" y1="264.60" x2="434.50" y2="267.80" stroke="#444" stroke-width="0.9"/>
<text transform="translate(434.50,275.50) scale(1,1.15)" text-anchor="middle" font-size="5.65">2.0</text>
<line x1="318.50" y1="254.70" x2="321.70" y2="254.70" stroke="#444" stroke-width="0.9"/>
<text transform="translate(316.10,254.70) rotate(-90) scale(1,1.15)" text-anchor="middle" font-size="5.65">-50</text>
<line x1="318.50" y1="239.00" x2="321.70" y2="239.00" stroke="#444" stroke-width="0.9"/>
<text transform="translate(316.10,239.00) rotate(-90) scale(1,1.15)" text-anchor="middle" font-size="5.65">0</text>
<line x1="318.50" y1="223.30" x2="321.70" y2="223.30" stroke="#444" stroke-width="0.9"/>
<text transform="translate(316.10,223.30) rotate(-90) scale(1,1.15)" text-anchor="middle" font-size="5.65">50</text>
<line x1="318.50" y1="207.60" x2="321.70" y2="207.60" stroke="#444" stroke-width="0.9"/>
<text transform="translate(316.10,207.60) rotate(-90) scale(1,1.15)" text-anchor="middle" font-size="5.65">100</text></g>
<g font-size="4.7" text-anchor="middle" stroke-width="0.22" transform="scale(1,1.12)"><g fill="#A9A9A9" stroke="#A9A9A9"><text x="475.2" y="214.5">24</text><text x="478.0" y="202.7">24</text><text x="480.9" y="198.1">24</text><text x="502.5" y="206.5">24</text><text x="505.7" y="210.2">24</text><text x="509.4" y="207.5">24</text><text x="516.6" y="211.6">24</text><text x="521.4" y="197.1">24</text><text x="525.0" y="199.0">24</text><text x="520.3" y="202.2">24</text><text x="531.2" y="200.8">24</text><text x="530.8" y="204.6">24</text><text x="539.6" y="197.1">24</text><text x="545.9" y="193.3">24</text><text x="538.2" y="221.5">24</text><text x="546.6" y="223.3">24</text><text x="553.9" y="234.6">24</text><text x="570.7" y="235.5">24</text><text x="562.3" y="223.9">24</text><text x="569.6" y="223.3">24</text><text x="580.1" y="227.1">24</text><text x="574.9" y="205.6">24</text><text x="578.0" y="206.5">24</text><text x="583.3" y="209.3">24</text><text x="588.5" y="203.7">24</text><text x="565.4" y="214.5">24</text><text x="579.1" y="214.5">24</text><text x="554.9" y="220.5">24</text><text x="557.0" y="220.9">24</text><text x="560.2" y="225.2">24</text><text x="542.0" y="210.8">24</text><text x="538.2" y="204.5">24</text><text x="547.4" y="211.7">24</text><text x="533.9" y="205.3">24</text><text x="562.7" y="203.0">24</text><text x="549.8" y="214.1">24</text><text x="543.3" y="205.8">24</text><text x="546.8" y="208.6">24</text><text x="549.2" y="207.9">24</text><text x="535.4" y="207.5">24</text><text x="555.0" y="211.6">24</text><text x="533.8" y="215.3">24</text><text x="565.4" y="208.7">24</text><text x="528.7" y="213.1">24</text><text x="546.5" y="210.3">24</text><text x="545.7" y="207.6">24</text><text x="552.4" y="208.2">24</text><text x="550.5" y="210.3">24</text><text x="549.0" y="208.6">24</text><text x="524.5" y="212.0">24</text><text x="553.0" y="205.7">24</text><text x="550.4" y="209.9">24</text><text x="516.1" y="211.9">24</text><text x="527.1" y="209.5">24</text><text x="535.9" y="211.1">24</text><text x="535.0" y="204.6">24</text><text x="541.7" y="204.0">24</text><text x="545.3" y="213.4">24</text><text x="536.4" y="202.7">24</text><text x="554.7" y="204.1">24</text></g></g><g class="ax"><rect x="471.30" y="201.00" width="122.0" height="63.6" fill="none" stroke="#5a5a5a" stroke-width="1.25"/>
<text transform="translate(532.30,198.50) scale(1,1.12)" text-anchor="middle" font-weight="bold" font-size="5.65">L Prostate bicor=-0.29, p=0.0078</text>
<text transform="translate(532.30,286.10) scale(1,1.15)" text-anchor="middle" font-size="5.65">Log10(No. of mutations)</text>
<text transform="translate(454.30,232.80) rotate(-90) scale(1,1.07)" text-anchor="middle" font-size="5.65">Age Acceleration</text>
<line x1="490.25" y1="264.60" x2="490.25" y2="267.80" stroke="#444" stroke-width="0.9"/>
<text transform="translate(490.25,275.50) scale(1,1.15)" text-anchor="middle" font-size="5.65">1.4</text>
<line x1="514.51" y1="264.60" x2="514.51" y2="267.80" stroke="#444" stroke-width="0.9"/>
<text transform="translate(514.51,275.50) scale(1,1.15)" text-anchor="middle" font-size="5.65">1.6</text>
<line x1="538.77" y1="264.60" x2="538.77" y2="267.80" stroke="#444" stroke-width="0.9"/>
<text transform="translate(538.77,275.50) scale(1,1.15)" text-anchor="middle" font-size="5.65">1.8</text>
<line x1="563.04" y1="264.60" x2="563.04" y2="267.80" stroke="#444" stroke-width="0.9"/>
<text transform="translate(563.04,275.50) scale(1,1.15)" text-anchor="middle" font-size="5.65">2.0</text>
<line x1="587.30" y1="264.60" x2="587.30" y2="267.80" stroke="#444" stroke-width="0.9"/>
<text transform="translate(587.30,275.50) scale(1,1.15)" text-anchor="middle" font-size="5.65">2.2</text>
<line x1="468.10" y1="256.60" x2="471.30" y2="256.60" stroke="#444" stroke-width="0.9"/>
<text transform="translate(465.70,256.60) rotate(-90) scale(1,1.15)" text-anchor="middle" font-size="5.65">-30</text>
<line x1="468.10" y1="248.00" x2="471.30" y2="248.00" stroke="#444" stroke-width="0.9"/>
<line x1="468.10" y1="239.40" x2="471.30" y2="239.40" stroke="#444" stroke-width="0.9"/>
<text transform="translate(465.70,239.40) rotate(-90) scale(1,1.15)" text-anchor="middle" font-size="5.65">-10</text>
<line x1="468.10" y1="230.80" x2="471.30" y2="230.80" stroke="#444" stroke-width="0.9"/>
<line x1="468.10" y1="222.20" x2="471.30" y2="222.20" stroke="#444" stroke-width="0.9"/>
<text transform="translate(465.70,222.20) rotate(-90) scale(1,1.15)" text-anchor="middle" font-size="5.65">10</text>
<line x1="468.10" y1="213.60" x2="471.30" y2="213.60" stroke="#444" stroke-width="0.9"/>
<line x1="468.10" y1="205.00" x2="471.30" y2="205.00" stroke="#444" stroke-width="0.9"/>
<text transform="translate(465.70,205.00) rotate(-90) scale(1,1.15)" text-anchor="middle" font-size="5.65">30</text></g>
<g font-size="4.7" text-anchor="middle" stroke-width="0.22" transform="scale(1,1.12)"><g fill="#F39A2A" stroke="#F39A2A"><text x="73.8" y="305.8">26</text><text x="74.4" y="295.9">26</text><text x="78.1" y="300.4">26</text><text x="73.9" y="312.6">26</text><text x="79.6" y="303.3">26</text><text x="72.6" y="312.8">26</text><text x="74.5" y="296.3">26</text><text x="71.3" y="304.5">26</text><text x="73.7" y="304.1">26</text><text x="69.8" y="303.4">26</text><text x="66.7" y="307.2">26</text><text x="70.3" y="300.1">26</text><text x="76.8" y="300.5">26</text><text x="75.7" y="309.3">26</text><text x="76.0" y="302.0">26</text><text x="76.4" y="300.7">26</text><text x="72.4" y="303.2">26</text><text x="71.6" y="298.9">26</text><text x="71.1" y="314.8">26</text><text x="71.1" y="310.8">26</text><text x="69.8" y="304.2">26</text><text x="74.0" y="299.3">26</text><text x="74.7" y="311.2">26</text><text x="76.9" y="299.1">26</text><text x="75.0" y="308.1">26</text><text x="74.5" y="300.8">26</text><text x="73.6" y="302.5">26</text><text x="79.5" y="315.2">26</text><text x="67.9" y="308.1">26</text><text x="78.5" y="298.5">26</text><text x="69.5" y="302.1">26</text><text x="71.9" y="302.8">26</text><text x="68.8" y="293.0">26</text><text x="77.3" y="304.2">26</text><text x="85.2" y="302.3">26</text><text x="66.7" y="302.7">26</text><text x="78.3" y="303.0">26</text><text x="67.9" y="308.5">26</text><text x="75.8" y="305.3">26</text><text x="73.4" y="302.9">26</text><text x="74.7" y="303.8">26</text><text x="70.2" y="301.6">26</text><text x="70.9" y="306.4">26</text><text x="73.2" y="314.6">26</text><text x="73.1" y="308.0">26</text><text x="74.6" y="293.5">26</text><text x="76.1" y="305.5">26</text><text x="74.7" y="306.8">26</text><text x="71.4" y="306.6">26</text><text x="83.9" y="295.5">26</text><text x="68.6" y="306.2">26</text><text x="73.4" y="298.6">26</text><text x="67.6" y="296.5">26</text><text x="70.5" y="303.4">26</text><text x="68.1" y="311.6">26</text><text x="68.2" y="305.5">26</text><text x="81.6" y="312.1">26</text><text x="69.5" y="307.6">26</text><text x="72.8" y="306.4">26</text><text x="79.6" y="302.4">26</text><text x="72.4" y="313.5">26</text><text x="79.2" y="302.0">26</text><text x="75.2" y="306.8">26</text><text x="74.3" y="300.8">26</text><text x="63.6" y="305.4">26</text><text x="26.9" y="302.9">26</text><text x="62.9" y="289.4">26</text><text x="71.3" y="286.6">26</text><text x="75.9" y="287.9">26</text><text x="68.2" y="292.2">26</text><text x="86.0" y="295.0">26</text><text x="92.3" y="294.6">26</text><text x="114.3" y="295.0">26</text><text x="134.3" y="290.8">26</text><text x="140.1" y="299.7">26</text><text x="108.0" y="308.5">26</text><text x="89.2" y="300.6">26</text><text x="92.3" y="303.4">26</text><text x="89.2" y="305.3">26</text><text x="65.0" y="298.8">26</text><text x="66.7" y="305.3">26</text><text x="71.3" y="319.3">26</text><text x="74.5" y="316.6">26</text></g></g><g class="ax"><rect x="22.50" y="297.50" width="122.0" height="63.9" fill="none" stroke="#5a5a5a" stroke-width="1.25"/>
<text transform="translate(83.50,295.00) scale(1,1.12)" text-anchor="middle" font-weight="bold" font-size="5.65">M Rectum.READ bicor=-0.04, p=0.72</text>
<text transform="translate(83.50,382.90) scale(1,1.15)" text-anchor="middle" font-size="5.65">Log10(No. of mutations)</text>
<text transform="translate(5.50,329.45) rotate(-90) scale(1,1.07)" text-anchor="middle" font-size="5.65">Age Acceleration</text>
<line x1="37.80" y1="361.40" x2="37.80" y2="364.60" stroke="#444" stroke-width="0.9"/>
<text transform="translate(37.80,372.30) scale(1,1.15)" text-anchor="middle" font-size="5.65">1.0</text>
<line x1="55.60" y1="361.40" x2="55.60" y2="364.60" stroke="#444" stroke-width="0.9"/>
<text transform="translate(55.60,372.30) scale(1,1.15)" text-anchor="middle" font-size="5.65">1.5</text>
<line x1="73.40" y1="361.40" x2="73.40" y2="364.60" stroke="#444" stroke-width="0.9"/>
<text transform="translate(73.40,372.30) scale(1,1.15)" text-anchor="middle" font-size="5.65">2.0</text>
<line x1="91.20" y1="361.40" x2="91.20" y2="364.60" stroke="#444" stroke-width="0.9"/>
<text transform="translate(91.20,372.30) scale(1,1.15)" text-anchor="middle" font-size="5.65">2.5</text>
<line x1="109.00" y1="361.40" x2="109.00" y2="364.60" stroke="#444" stroke-width="0.9"/>
<text transform="translate(109.00,372.30) scale(1,1.15)" text-anchor="middle" font-size="5.65">3.0</text>
<line x1="126.80" y1="361.40" x2="126.80" y2="364.60" stroke="#444" stroke-width="0.9"/>
<text transform="translate(126.80,372.30) scale(1,1.15)" text-anchor="middle" font-size="5.65">3.5</text>
<line x1="144.60" y1="361.40" x2="144.60" y2="364.60" stroke="#444" stroke-width="0.9"/>
<text transform="translate(144.60,372.30) scale(1,1.15)" text-anchor="middle" font-size="5.65">4.0</text>
<line x1="19.30" y1="350.60" x2="22.50" y2="350.60" stroke="#444" stroke-width="0.9"/>
<text transform="translate(16.90,350.60) rotate(-90) scale(1,1.15)" text-anchor="middle" font-size="5.65">-50</text>
<line x1="19.30" y1="331.20" x2="22.50" y2="331.20" stroke="#444" stroke-width="0.9"/>
<text transform="translate(16.90,331.20) rotate(-90) scale(1,1.15)" text-anchor="middle" font-size="5.65">0</text>
<line x1="19.30" y1="311.80" x2="22.50" y2="311.80" stroke="#444" stroke-width="0.9"/>
<text transform="translate(16.90,311.80) rotate(-90) scale(1,1.15)" text-anchor="middle" font-size="5.65">50</text>
<line x1="68" y1="361.40" x2="106" y2="361.40" stroke="#F0A090" stroke-width="0.8"/></g>
<g font-size="4.7" text-anchor="middle" stroke-width="0.22" transform="scale(1,1.12)"><g fill="#87CEEB" stroke="#87CEEB"><text x="217.1" y="306.0">28</text><text x="258.3" y="315.1">28</text><text x="268.3" y="297.8">28</text><text x="246.2" y="314.4">28</text><text x="251.7" y="308.9">28</text><text x="244.7" y="305.5">28</text><text x="258.9" y="301.0">28</text><text x="225.5" y="291.4">28</text><text x="230.8" y="312.8">28</text><text x="240.6" y="297.3">28</text><text x="256.5" y="314.0">28</text><text x="211.8" y="293.0">28</text><text x="256.9" y="305.6">28</text><text x="215.2" y="307.7">28</text><text x="231.6" y="298.7">28</text><text x="257.5" y="295.1">28</text><text x="201.1" y="312.9">28</text><text x="218.5" y="298.1">28</text><text x="242.3" y="310.8">28</text><text x="230.7" y="305.2">28</text><text x="237.7" y="317.5">28</text><text x="250.9" y="302.5">28</text><text x="249.4" y="310.6">28</text><text x="231.2" y="310.3">28</text><text x="224.8" y="316.0">28</text><text x="203.2" y="289.3">28</text><text x="228.2" y="302.7">28</text><text x="246.5" y="306.5">28</text><text x="208.8" y="313.0">28</text><text x="227.8" y="307.3">28</text><text x="232.5" y="310.3">28</text><text x="232.0" y="298.2">28</text><text x="201.9" y="312.0">28</text><text x="219.7" y="305.9">28</text><text x="218.1" y="302.5">28</text><text x="226.8" y="313.7">28</text><text x="257.2" y="291.5">28</text><text x="227.3" y="309.5">28</text><text x="239.0" y="304.0">28</text><text x="215.9" y="312.6">28</text><text x="254.4" y="299.7">28</text><text x="231.6" y="305.3">28</text><text x="257.7" y="312.3">28</text><text x="234.1" y="307.1">28</text><text x="257.7" y="300.9">28</text><text x="212.9" y="292.8">28</text><text x="248.5" y="302.1">28</text><text x="215.1" y="299.9">28</text><text x="232.8" y="304.3">28</text><text x="231.4" y="305.1">28</text><text x="221.8" y="306.8">28</text><text x="231.7" y="312.6">28</text><text x="228.3" y="301.2">28</text><text x="254.4" y="320.3">28</text><text x="233.5" y="297.0">28</text><text x="242.2" y="312.6">28</text><text x="249.5" y="306.4">28</text><text x="241.3" y="302.6">28</text><text x="236.1" y="299.1">28</text><text x="250.2" y="308.1">28</text><text x="222.5" y="302.4">28</text><text x="222.8" y="302.1">28</text><text x="247.3" y="302.5">28</text><text x="237.8" y="289.6">28</text><text x="227.6" y="296.3">28</text><text x="246.0" y="296.1">28</text><text x="228.7" y="306.7">28</text><text x="236.0" y="301.2">28</text><text x="266.5" y="315.0">28</text><text x="239.2" y="305.6">28</text><text x="236.0" y="312.1">28</text><text x="254.3" y="313.5">28</text><text x="238.3" y="304.8">28</text><text x="211.8" y="292.0">28</text><text x="255.0" y="300.2">28</text><text x="231.5" y="310.1">28</text><text x="263.5" y="306.4">28</text><text x="249.6" y="305.0">28</text><text x="214.1" y="301.5">28</text><text x="241.9" y="313.0">28</text><text x="239.0" y="296.4">28</text><text x="214.4" y="311.4">28</text><text x="244.3" y="314.2">28</text><text x="261.0" y="297.8">28</text><text x="245.9" y="305.1">28</text><text x="213.1" y="318.3">28</text><text x="235.8" y="314.7">28</text><text x="241.8" y="290.5">28</text><text x="228.5" y="311.9">28</text><text x="216.5" y="301.6">28</text><text x="237.3" y="301.5">28</text><text x="264.6" y="296.0">28</text><text x="255.1" y="301.1">28</text><text x="241.1" y="288.5">28</text><text x="237.6" y="313.0">28</text><text x="221.7" y="313.3">28</text><text x="244.1" y="304.3">28</text><text x="246.9" y="312.6">28</text><text x="238.6" y="292.6">28</text><text x="255.1" y="303.1">28</text><text x="215.6" y="310.2">28</text><text x="228.8" y="309.9">28</text><text x="236.3" y="308.0">28</text><text x="242.9" y="294.7">28</text><text x="236.8" y="312.5">28</text><text x="233.6" y="310.0">28</text><text x="231.6" y="314.6">28</text><text x="247.3" y="310.6">28</text><text x="215.7" y="300.9">28</text><text x="251.9" y="310.8">28</text><text x="227.2" y="269.7">28</text><text x="227.6" y="276.7">28</text><text x="237.1" y="274.1">28</text><text x="229.3" y="281.6">28</text><text x="238.1" y="282.3">28</text><text x="237.1" y="287.1">28</text><text x="244.4" y="286.6">28</text><text x="258.0" y="282.8">28</text><text x="205.6" y="287.9">28</text><text x="217.1" y="287.9">28</text><text x="222.4" y="289.0">28</text><text x="227.6" y="289.0">28</text><text x="176.2" y="292.7">28</text><text x="176.2" y="303.4">28</text><text x="188.8" y="301.0">28</text><text x="202.5" y="298.3">28</text><text x="208.3" y="298.8">28</text><text x="217.1" y="293.2">28</text><text x="263.3" y="295.9">28</text><text x="266.4" y="298.3">28</text><text x="269.6" y="304.0">28</text><text x="265.4" y="307.7">28</text><text x="289.5" y="305.3">28</text><text x="289.5" y="309.1">28</text><text x="189.9" y="309.1">28</text><text x="195.1" y="307.2">28</text><text x="200.4" y="305.8">28</text><text x="196.2" y="311.8">28</text><text x="201.4" y="312.8">28</text><text x="199.3" y="317.1">28</text><text x="207.7" y="315.6">28</text><text x="221.3" y="313.7">28</text><text x="224.5" y="319.3">28</text><text x="238.1" y="321.2">28</text><text x="251.7" y="318.4">28</text><text x="261.2" y="314.7">28</text><text x="253.8" y="307.2">28</text></g></g><g class="ax"><rect x="172.10" y="297.50" width="122.0" height="63.9" fill="none" stroke="#5a5a5a" stroke-width="1.25"/>
<text transform="translate(233.10,295.00) scale(1,1.12)" text-anchor="middle" font-weight="bold" font-size="5.65">N Skin bicor=-0.0081, p=0.92</text>
<text transform="translate(233.10,382.90) scale(1,1.15)" text-anchor="middle" font-size="5.65">Log10(No. of mutations)</text>
<text transform="translate(155.10,329.45) rotate(-90) scale(1,1.07)" text-anchor="middle" font-size="5.65">Age Acceleration</text>
<line x1="173.90" y1="361.40" x2="173.90" y2="364.60" stroke="#444" stroke-width="0.9"/>
<text transform="translate(173.90,372.30) scale(1,1.15)" text-anchor="middle" font-size="5.65">1.0</text>
<line x1="190.99" y1="361.40" x2="190.99" y2="364.60" stroke="#444" stroke-width="0.9"/>
<text transform="translate(190.99,372.30) scale(1,1.15)" text-anchor="middle" font-size="5.65">1.5</text>
<line x1="208.07" y1="361.40" x2="208.07" y2="364.60" stroke="#444" stroke-width="0.9"/>
<text transform="translate(208.07,372.30) scale(1,1.15)" text-anchor="middle" font-size="5.65">2.0</text>
<line x1="225.16" y1="361.40" x2="225.16" y2="364.60" stroke="#444" stroke-width="0.9"/>
<text transform="translate(225.16,372.30) scale(1,1.15)" text-anchor="middle" font-size="5.65">2.5</text>
<line x1="242.24" y1="361.40" x2="242.24" y2="364.60" stroke="#444" stroke-width="0.9"/>
<text transform="translate(242.24,372.30) scale(1,1.15)" text-anchor="middle" font-size="5.65">3.0</text>
<line x1="259.33" y1="361.40" x2="259.33" y2="364.60" stroke="#444" stroke-width="0.9"/>
<text transform="translate(259.33,372.30) scale(1,1.15)" text-anchor="middle" font-size="5.65">3.5</text>
<line x1="276.41" y1="361.40" x2="276.41" y2="364.60" stroke="#444" stroke-width="0.9"/>
<text transform="translate(276.41,372.30) scale(1,1.15)" text-anchor="middle" font-size="5.65">4.0</text>
<line x1="293.50" y1="361.40" x2="293.50" y2="364.60" stroke="#444" stroke-width="0.9"/>
<text transform="translate(293.50,372.30) scale(1,1.15)" text-anchor="middle" font-size="5.65">4.5</text>
<line x1="168.90" y1="359.80" x2="172.10" y2="359.80" stroke="#444" stroke-width="0.9"/>
<text transform="translate(166.50,359.80) rotate(-90) scale(1,1.15)" text-anchor="middle" font-size="5.65">-60</text>
<line x1="168.90" y1="351.23" x2="172.10" y2="351.23" stroke="#444" stroke-width="0.9"/>
<line x1="168.90" y1="342.67" x2="172.10" y2="342.67" stroke="#444" stroke-width="0.9"/>
<text transform="translate(166.50,342.67) rotate(-90) scale(1,1.15)" text-anchor="middle" font-size="5.65">-20</text>
<line x1="168.90" y1="334.10" x2="172.10" y2="334.10" stroke="#444" stroke-width="0.9"/>
<line x1="168.90" y1="325.53" x2="172.10" y2="325.53" stroke="#444" stroke-width="0.9"/>
<text transform="translate(166.50,325.53) rotate(-90) scale(1,1.15)" text-anchor="middle" font-size="5.65">20</text>
<line x1="168.90" y1="316.97" x2="172.10" y2="316.97" stroke="#444" stroke-width="0.9"/>
<line x1="168.90" y1="308.40" x2="172.10" y2="308.40" stroke="#444" stroke-width="0.9"/>
<text transform="translate(166.50,308.40) rotate(-90) scale(1,1.15)" text-anchor="middle" font-size="5.65">60</text>
<line x1="168.90" y1="299.83" x2="172.10" y2="299.83" stroke="#444" stroke-width="0.9"/></g>
<g font-size="4.7" text-anchor="middle" stroke-width="0.22" transform="scale(1,1.12)"><g fill="#94511E" stroke="#94511E"><text x="326.2" y="288.6">29</text><text x="326.2" y="290.2">29</text><text x="326.2" y="293.4">29</text><text x="333.3" y="287.1">29</text><text x="333.3" y="289.4">29</text><text x="333.3" y="291.8">29</text><text x="333.3" y="294.2">29</text><text x="333.3" y="297.4">29</text><text x="340.4" y="287.5">29</text><text x="340.4" y="289.8">29</text><text x="340.4" y="292.3">29</text><text x="340.4" y="294.5">29</text><text x="340.4" y="302.1">29</text><text x="346.6" y="285.5">29</text><text x="346.6" y="289.4">29</text><text x="346.6" y="292.6">29</text><text x="346.6" y="298.2">29</text><text x="351.5" y="282.4">29</text><text x="351.5" y="285.5">29</text><text x="351.5" y="287.9">29</text><text x="351.5" y="290.2">29</text><text x="351.5" y="294.2">29</text><text x="357.2" y="284.7">29</text><text x="357.2" y="287.9">29</text><text x="357.2" y="291.0">29</text><text x="357.2" y="294.2">29</text><text x="357.2" y="297.4">29</text><text x="357.2" y="302.1">29</text><text x="357.2" y="305.6">29</text><text x="362.5" y="281.6">29</text><text x="362.5" y="284.7">29</text><text x="362.5" y="287.9">29</text><text x="362.5" y="291.0">29</text><text x="362.5" y="294.2">29</text><text x="362.5" y="297.4">29</text><text x="362.5" y="300.5">29</text><text x="374.7" y="289.7">29</text><text x="374.3" y="287.0">29</text><text x="372.0" y="292.2">29</text><text x="394.6" y="290.6">29</text><text x="383.2" y="295.7">29</text><text x="406.3" y="284.6">29</text><text x="376.9" y="295.9">29</text><text x="393.4" y="290.3">29</text><text x="383.3" y="289.7">29</text><text x="372.2" y="293.9">29</text><text x="400.8" y="293.0">29</text><text x="390.1" y="292.3">29</text><text x="369.5" y="287.2">29</text><text x="376.9" y="284.8">29</text><text x="374.7" y="293.0">29</text><text x="379.2" y="295.2">29</text><text x="399.4" y="294.0">29</text><text x="392.9" y="288.6">29</text><text x="366.4" y="293.9">29</text><text x="381.1" y="295.0">29</text><text x="388.4" y="292.9">29</text><text x="359.7" y="293.0">29</text><text x="369.2" y="283.1">29</text><text x="390.2" y="287.8">29</text><text x="383.0" y="290.6">29</text><text x="395.6" y="295.3">29</text><text x="378.9" y="293.6">29</text><text x="376.8" y="292.7">29</text><text x="389.9" y="294.0">29</text><text x="393.3" y="298.6">29</text><text x="374.4" y="290.4">29</text><text x="389.9" y="293.8">29</text><text x="372.1" y="291.5">29</text><text x="381.1" y="285.6">29</text><text x="388.3" y="291.3">29</text><text x="388.6" y="300.5">29</text><text x="386.8" y="290.1">29</text><text x="369.4" y="289.2">29</text><text x="366.5" y="297.9">29</text><text x="378.7" y="292.7">29</text><text x="388.4" y="294.4">29</text><text x="398.6" y="291.1">29</text><text x="372.0" y="298.8">29</text><text x="376.8" y="300.9">29</text><text x="385.0" y="283.9">29</text><text x="385.2" y="294.4">29</text><text x="393.1" y="297.6">29</text><text x="383.3" y="291.5">29</text><text x="398.6" y="294.7">29</text><text x="359.8" y="292.3">29</text><text x="376.7" y="296.9">29</text><text x="369.1" y="288.7">29</text><text x="391.5" y="297.2">29</text><text x="388.3" y="300.4">29</text><text x="389.8" y="303.8">29</text><text x="397.4" y="293.6">29</text><text x="407.6" y="294.9">29</text><text x="401.8" y="294.0">29</text><text x="369.1" y="296.6">29</text><text x="376.9" y="285.0">29</text><text x="397.4" y="297.2">29</text><text x="372.2" y="296.3">29</text><text x="376.9" y="290.8">29</text><text x="379.2" y="288.7">29</text><text x="374.5" y="285.2">29</text><text x="366.3" y="293.3">29</text><text x="369.1" y="290.7">29</text><text x="371.8" y="297.1">29</text><text x="378.9" y="291.7">29</text><text x="380.8" y="293.6">29</text><text x="363.3" y="293.0">29</text><text x="393.1" y="290.0">29</text><text x="388.1" y="294.9">29</text><text x="397.3" y="287.2">29</text><text x="398.7" y="288.1">29</text><text x="383.0" y="289.8">29</text><text x="369.4" y="295.8">29</text><text x="374.6" y="288.1">29</text><text x="386.5" y="291.7">29</text><text x="379.2" y="294.9">29</text><text x="384.7" y="289.6">29</text><text x="374.5" y="293.3">29</text><text x="394.5" y="290.6">29</text><text x="377.1" y="290.6">29</text><text x="388.5" y="295.3">29</text><text x="378.9" y="292.3">29</text><text x="376.6" y="288.6">29</text><text x="380.9" y="290.3">29</text><text x="400.9" y="305.9">29</text><text x="363.2" y="293.9">29</text><text x="388.3" y="290.8">29</text><text x="372.1" y="291.9">29</text><text x="379.0" y="293.3">29</text><text x="396.0" y="297.6">29</text><text x="381.1" y="289.3">29</text><text x="389.7" y="298.9">29</text><text x="394.7" y="280.2">29</text><text x="376.8" y="286.3">29</text><text x="366.3" y="290.1">29</text><text x="374.2" y="291.6">29</text><text x="372.0" y="303.7">29</text><text x="399.9" y="288.8">29</text><text x="362.9" y="292.1">29</text><text x="383.0" y="292.7">29</text><text x="388.2" y="292.9">29</text><text x="391.4" y="290.8">29</text><text x="388.3" y="286.4">29</text><text x="378.8" y="302.1">29</text><text x="394.6" y="293.6">29</text><text x="379.0" y="290.4">29</text><text x="363.3" y="289.5">29</text><text x="363.2" y="295.0">29</text><text x="386.5" y="294.0">29</text><text x="380.9" y="291.5">29</text><text x="405.3" y="291.7">29</text><text x="391.4" y="294.6">29</text><text x="381.3" y="297.8">29</text><text x="394.3" y="296.9">29</text><text x="390.2" y="296.8">29</text><text x="379.3" y="298.7">29</text><text x="371.8" y="290.2">29</text><text x="381.2" y="285.3">29</text><text x="372.0" y="286.7">29</text><text x="386.5" y="291.9">29</text><text x="351.6" y="292.7">29</text><text x="393.1" y="289.6">29</text><text x="379.0" y="281.6">29</text><text x="355.8" y="297.3">29</text><text x="369.3" y="288.3">29</text><text x="398.5" y="294.6">29</text><text x="401.0" y="286.6">29</text><text x="363.0" y="289.0">29</text><text x="400.8" y="293.1">29</text><text x="374.3" y="293.8">29</text><text x="369.5" y="290.5">29</text><text x="371.9" y="290.9">29</text><text x="404.0" y="293.3">29</text><text x="380.9" y="290.6">29</text><text x="380.9" y="296.1">29</text><text x="376.6" y="293.2">29</text><text x="389.8" y="294.4">29</text><text x="372.2" y="287.8">29</text><text x="398.2" y="293.8">29</text><text x="388.3" y="291.9">29</text><text x="406.5" y="288.9">29</text><text x="384.7" y="292.4">29</text><text x="351.4" y="290.7">29</text><text x="374.5" y="297.2">29</text><text x="391.5" y="290.8">29</text><text x="376.7" y="288.1">29</text><text x="374.4" y="291.3">29</text><text x="386.5" y="292.1">29</text><text x="374.5" y="289.6">29</text><text x="378.8" y="289.7">29</text><text x="385.0" y="299.6">29</text><text x="393.1" y="292.1">29</text><text x="396.0" y="303.3">29</text><text x="377.0" y="289.9">29</text><text x="384.7" y="290.2">29</text><text x="391.7" y="288.0">29</text><text x="401.8" y="289.2">29</text><text x="390.1" y="298.7">29</text><text x="395.8" y="286.8">29</text><text x="369.5" y="288.2">29</text><text x="395.8" y="291.5">29</text><text x="374.4" y="287.6">29</text><text x="385.0" y="294.9">29</text><text x="369.4" y="295.2">29</text><text x="386.9" y="295.4">29</text><text x="377.1" y="296.3">29</text><text x="392.9" y="292.7">29</text><text x="379.3" y="286.3">29</text><text x="381.2" y="291.2">29</text><text x="359.9" y="290.9">29</text><text x="379.2" y="287.4">29</text><text x="382.0" y="275.6">29</text><text x="340.4" y="302.1">29</text><text x="346.6" y="298.2">29</text><text x="355.4" y="305.6">29</text><text x="371.4" y="305.6">29</text><text x="359.3" y="302.1">29</text><text x="394.0" y="269.7">29</text><text x="382.9" y="275.6">29</text><text x="411.2" y="280.0">29</text><text x="402.4" y="280.0">29</text><text x="405.0" y="283.9">29</text><text x="409.4" y="286.3">29</text><text x="405.0" y="289.4">29</text><text x="425.4" y="291.0">29</text><text x="430.7" y="290.8">29</text><text x="438.7" y="295.8">29</text><text x="419.2" y="300.8">29</text><text x="428.9" y="300.8">29</text><text x="410.3" y="298.2">29</text><text x="392.6" y="306.0">29</text><text x="393.5" y="302.1">29</text><text x="427.0" y="290.9">29</text><text x="404.0" y="298.1">29</text><text x="407.0" y="299.0">29</text></g></g><g class="ax"><rect x="321.70" y="297.50" width="122.0" height="63.9" fill="none" stroke="#5a5a5a" stroke-width="1.25"/>
<text transform="translate(382.70,295.00) scale(1,1.12)" text-anchor="middle" font-weight="bold" font-size="5.65">O Thyroid bicor=-0.061, p=0.34</text>
<text transform="translate(382.70,382.90) scale(1,1.15)" text-anchor="middle" font-size="5.65">Log10(No. of mutations)</text>
<text transform="translate(304.70,329.45) rotate(-90) scale(1,1.07)" text-anchor="middle" font-size="5.65">Age Acceleration</text>
<line x1="326.20" y1="361.40" x2="326.20" y2="364.60" stroke="#444" stroke-width="0.9"/>
<text transform="translate(326.20,372.30) scale(1,1.15)" text-anchor="middle" font-size="5.65">0.6</text>
<line x1="342.96" y1="361.40" x2="342.96" y2="364.60" stroke="#444" stroke-width="0.9"/>
<text transform="translate(342.96,372.30) scale(1,1.15)" text-anchor="middle" font-size="5.65">0.8</text>
<line x1="359.71" y1="361.40" x2="359.71" y2="364.60" stroke="#444" stroke-width="0.9"/>
<text transform="translate(359.71,372.30) scale(1,1.15)" text-anchor="middle" font-size="5.65">1.0</text>
<line x1="376.47" y1="361.40" x2="376.47" y2="364.60" stroke="#444" stroke-width="0.9"/>
<text transform="translate(376.47,372.30) scale(1,1.15)" text-anchor="middle" font-size="5.65">1.2</text>
<line x1="393.23" y1="361.40" x2="393.23" y2="364.60" stroke="#444" stroke-width="0.9"/>
<text transform="translate(393.23,372.30) scale(1,1.15)" text-anchor="middle" font-size="5.65">1.4</text>
<line x1="409.99" y1="361.40" x2="409.99" y2="364.60" stroke="#444" stroke-width="0.9"/>
<text transform="translate(409.99,372.30) scale(1,1.15)" text-anchor="middle" font-size="5.65">1.6</text>
<line x1="426.74" y1="361.40" x2="426.74" y2="364.60" stroke="#444" stroke-width="0.9"/>
<text transform="translate(426.74,372.30) scale(1,1.15)" text-anchor="middle" font-size="5.65">1.8</text>
<line x1="443.50" y1="361.40" x2="443.50" y2="364.60" stroke="#444" stroke-width="0.9"/>
<text transform="translate(443.50,372.30) scale(1,1.15)" text-anchor="middle" font-size="5.65">2.0</text>
<line x1="318.50" y1="355.90" x2="321.70" y2="355.90" stroke="#444" stroke-width="0.9"/>
<text transform="translate(316.10,355.90) rotate(-90) scale(1,1.15)" text-anchor="middle" font-size="5.65">-60</text>
<line x1="318.50" y1="347.20" x2="321.70" y2="347.20" stroke="#444" stroke-width="0.9"/>
<line x1="318.50" y1="338.50" x2="321.70" y2="338.50" stroke="#444" stroke-width="0.9"/>
<text transform="translate(316.10,338.50) rotate(-90) scale(1,1.15)" text-anchor="middle" font-size="5.65">-20</text>
<line x1="318.50" y1="329.80" x2="321.70" y2="329.80" stroke="#444" stroke-width="0.9"/>
<line x1="318.50" y1="321.10" x2="321.70" y2="321.10" stroke="#444" stroke-width="0.9"/>
<text transform="translate(316.10,321.10) rotate(-90) scale(1,1.15)" text-anchor="middle" font-size="5.65">20</text>
<line x1="318.50" y1="312.40" x2="321.70" y2="312.40" stroke="#444" stroke-width="0.9"/>
<line x1="318.50" y1="303.70" x2="321.70" y2="303.70" stroke="#444" stroke-width="0.9"/>
<text transform="translate(316.10,303.70) rotate(-90) scale(1,1.15)" text-anchor="middle" font-size="5.65">60</text></g>
<g font-size="4.7" text-anchor="middle" stroke-width="0.22" transform="scale(1,1.12)"><g fill="#EE82EE" stroke="#EE82EE"><text x="508.3" y="299.4">32</text><text x="492.0" y="300.1">32</text><text x="503.0" y="298.4">32</text><text x="499.0" y="294.5">32</text><text x="500.6" y="291.2">32</text><text x="515.8" y="292.9">32</text><text x="520.3" y="289.6">32</text><text x="489.0" y="293.2">32</text><text x="493.9" y="285.8">32</text><text x="496.5" y="302.0">32</text><text x="503.3" y="301.6">32</text><text x="521.6" y="302.7">32</text><text x="501.8" y="297.4">32</text><text x="512.9" y="299.6">32</text><text x="509.2" y="303.6">32</text><text x="517.9" y="304.4">32</text><text x="512.3" y="301.7">32</text><text x="498.1" y="297.9">32</text><text x="503.7" y="303.9">32</text><text x="509.4" y="295.8">32</text><text x="498.9" y="306.1">32</text><text x="497.3" y="306.2">32</text><text x="502.9" y="291.0">32</text><text x="495.9" y="293.8">32</text><text x="493.8" y="295.4">32</text><text x="498.4" y="297.5">32</text><text x="488.2" y="294.4">32</text><text x="497.9" y="295.8">32</text><text x="508.6" y="306.6">32</text><text x="505.9" y="304.4">32</text><text x="494.8" y="307.1">32</text><text x="501.5" y="307.3">32</text><text x="505.6" y="304.7">32</text><text x="504.3" y="311.3">32</text><text x="502.0" y="295.8">32</text><text x="506.7" y="302.1">32</text><text x="505.1" y="301.1">32</text><text x="520.2" y="292.0">32</text><text x="491.6" y="294.6">32</text><text x="516.9" y="297.4">32</text><text x="498.4" y="300.7">32</text><text x="490.6" y="304.1">32</text><text x="508.8" y="296.9">32</text><text x="512.9" y="299.5">32</text><text x="508.8" y="308.1">32</text><text x="503.8" y="297.5">32</text><text x="510.4" y="292.4">32</text><text x="492.1" y="284.8">32</text><text x="515.5" y="301.6">32</text><text x="508.4" y="300.5">32</text><text x="494.0" y="305.5">32</text><text x="515.8" y="310.2">32</text><text x="511.7" y="294.1">32</text><text x="516.4" y="293.1">32</text><text x="510.4" y="295.9">32</text><text x="550.1" y="297.4">32</text><text x="564.4" y="304.1">32</text><text x="548.9" y="300.5">32</text><text x="551.4" y="298.0">32</text><text x="560.8" y="303.7">32</text><text x="560.9" y="298.0">32</text><text x="550.2" y="303.0">32</text><text x="543.5" y="303.7">32</text><text x="549.5" y="296.3">32</text><text x="549.6" y="305.3">32</text><text x="550.1" y="299.4">32</text><text x="543.8" y="300.0">32</text><text x="543.4" y="296.4">32</text><text x="557.1" y="304.1">32</text><text x="550.9" y="305.5">32</text><text x="553.5" y="301.0">32</text><text x="553.1" y="305.0">32</text><text x="553.8" y="300.3">32</text><text x="507.3" y="276.7">32</text><text x="534.0" y="289.4">32</text><text x="475.2" y="311.8">32</text><text x="497.3" y="322.2">32</text><text x="532.9" y="315.2">32</text><text x="587.9" y="308.5">32</text><text x="579.1" y="273.4">32</text><text x="530.8" y="302.5">32</text><text x="517.2" y="312.8">32</text><text x="561.0" y="298.1">32</text><text x="565.0" y="301.7">32</text><text x="570.0" y="296.3">32</text><text x="575.0" y="294.5">32</text><text x="572.0" y="285.6">32</text><text x="568.0" y="289.2">32</text><text x="575.0" y="280.2">32</text><text x="578.0" y="276.7">32</text><text x="566.0" y="282.0">32</text><text x="563.0" y="287.4">32</text><text x="570.0" y="300.8">32</text><text x="580.0" y="302.5">32</text><text x="583.0" y="302.5">32</text><text x="552.0" y="296.3">32</text><text x="556.0" y="291.8">32</text><text x="548.0" y="300.8">32</text></g><g fill="#AFEEEE" stroke="#AFEEEE"><text x="493.1" y="310.9">31</text><text x="504.6" y="314.2">31</text><text x="513.0" y="312.8">31</text><text x="486.4" y="295.0">31</text><text x="511.5" y="289.0">31</text><text x="559.8" y="289.0">31</text><text x="558.1" y="305.3">31</text><text x="501.5" y="305.3">31</text></g></g><g class="ax"><rect x="471.30" y="297.50" width="122.0" height="63.9" fill="none" stroke="#5a5a5a" stroke-width="1.25"/>
<text transform="translate(532.30,295.00) scale(1,1.12)" text-anchor="middle" font-weight="bold" font-size="5.65">P UterineEnd bicor=0.15, p=0.11</text>
<text transform="translate(532.30,382.90) scale(1,1.15)" text-anchor="middle" font-size="5.65">Log10(No. of mutations)</text>
<text transform="translate(454.30,329.45) rotate(-90) scale(1,1.07)" text-anchor="middle" font-size="5.65">Age Acceleration</text>
<line x1="474.10" y1="361.40" x2="474.10" y2="364.60" stroke="#444" stroke-width="0.9"/>
<text transform="translate(474.10,372.30) scale(1,1.15)" text-anchor="middle" font-size="5.65">1.5</text>
<line x1="508.30" y1="361.40" x2="508.30" y2="364.60" stroke="#444" stroke-width="0.9"/>
<text transform="translate(508.30,372.30) scale(1,1.15)" text-anchor="middle" font-size="5.65">2.0</text>
<line x1="542.50" y1="361.40" x2="542.50" y2="364.60" stroke="#444" stroke-width="0.9"/>
<text transform="translate(542.50,372.30) scale(1,1.15)" text-anchor="middle" font-size="5.65">2.5</text>
<line x1="576.70" y1="361.40" x2="576.70" y2="364.60" stroke="#444" stroke-width="0.9"/>
<text transform="translate(576.70,372.30) scale(1,1.15)" text-anchor="middle" font-size="5.65">3.0</text>
<line x1="468.10" y1="359.00" x2="471.30" y2="359.00" stroke="#444" stroke-width="0.9"/>
<text transform="translate(465.70,359.00) rotate(-90) scale(1,1.15)" text-anchor="middle" font-size="5.65">-80</text>
<line x1="468.10" y1="348.40" x2="471.30" y2="348.40" stroke="#444" stroke-width="0.9"/>
<line x1="468.10" y1="337.80" x2="471.30" y2="337.80" stroke="#444" stroke-width="0.9"/>
<text transform="translate(465.70,337.80) rotate(-90) scale(1,1.15)" text-anchor="middle" font-size="5.65">-40</text>
<line x1="468.10" y1="327.20" x2="471.30" y2="327.20" stroke="#444" stroke-width="0.9"/>
<line x1="468.10" y1="316.60" x2="471.30" y2="316.60" stroke="#444" stroke-width="0.9"/>
<text transform="translate(465.70,316.60) rotate(-90) scale(1,1.15)" text-anchor="middle" font-size="5.65">0</text>
<line x1="468.10" y1="306.00" x2="471.30" y2="306.00" stroke="#444" stroke-width="0.9"/>
<text transform="translate(465.70,306.00) rotate(-90) scale(1,1.15)" text-anchor="middle" font-size="5.65">20</text></g>
</svg></body></html>
